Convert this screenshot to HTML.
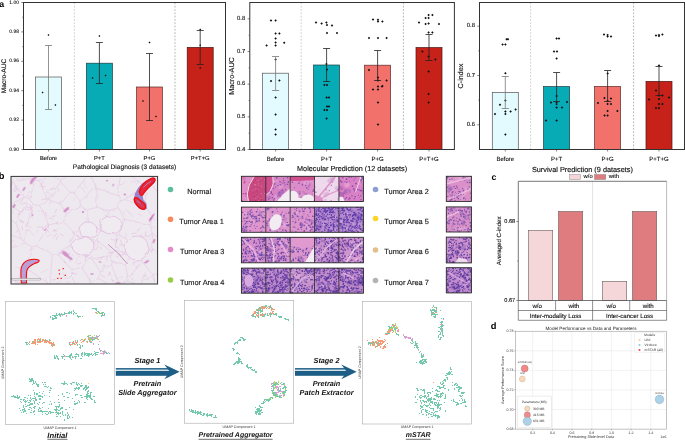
<!DOCTYPE html>
<html><head><meta charset="utf-8"><style>
html,body{margin:0;padding:0;background:#fff;}
svg{display:block;font-family:"Liberation Sans", sans-serif;text-rendering:geometricPrecision;will-change:transform;}
</style></head><body>
<svg width="685" height="440" viewBox="0 0 685 440">
<rect width="685" height="440" fill="#fff"/>
<text x="-0.8" y="3.6" font-size="8.8" font-weight="bold" fill="#000" dominant-baseline="central">a</text>
<line x1="74.4" y1="2.5" x2="74.4" y2="149.5" stroke="#c4c4c4" stroke-width="0.8" stroke-dasharray="1.8,1.5"/>
<line x1="175" y1="2.5" x2="175" y2="149.5" stroke="#a4a4a4" stroke-width="0.8" stroke-dasharray="1.8,1.5"/>
<rect x="35.5" y="77" width="26" height="72.5" fill="#e3fbfe" stroke="#555" stroke-width="0.7"/>
<rect x="86.4" y="63.2" width="26" height="86.3" fill="#07abb6" stroke="#1d3c40" stroke-width="0.7"/>
<rect x="136.5" y="87" width="26" height="62.5" fill="#f2716b" stroke="#5a2a28" stroke-width="0.7"/>
<rect x="187.2" y="47.4" width="26" height="102.1" fill="#c6221a" stroke="#4a1410" stroke-width="0.7"/>
<path d="M48.5 34L49.5 35L48.5 36L47.5 35ZM42.6 91.6L43.6 92.6L42.6 93.6L41.6 92.6ZM55.4 104L56.4 105L55.4 106L54.4 105ZM99.4 35L100.4 36L99.4 37L98.4 36ZM92.6 77L93.6 78L92.6 79L91.6 78ZM105.6 74.6L106.6 75.6L105.6 76.6L104.6 75.6ZM149.5 41.6L150.5 42.6L149.5 43.6L148.5 42.6ZM143 100L144 101L143 102L142 101ZM156 115.6L157 116.6L156 117.6L155 116.6ZM200.2 28.4L201.2 29.4L200.2 30.4L199.2 29.4ZM200.2 44.2L201.2 45.2L200.2 46.2L199.2 45.2ZM200.2 67L201.2 68L200.2 69L199.2 68Z" fill="#111"/>
<path d="M48.5 45.5V109.5M45 45.5H52M45 109.5H52" stroke="#777" stroke-width="0.8" fill="none"/>
<path d="M99.4 42.5V83.5M95.9 42.5H102.9M95.9 83.5H102.9" stroke="#222" stroke-width="0.8" fill="none"/>
<path d="M149.5 53.5V120.5M146 53.5H153M146 120.5H153" stroke="#222" stroke-width="0.8" fill="none"/>
<path d="M200.2 30.5V64.5M196.7 30.5H203.7M196.7 64.5H203.7" stroke="#222" stroke-width="0.8" fill="none"/>
<rect x="23.5" y="2.5" width="202" height="147" fill="none" stroke="#333" stroke-width="1"/>
<line x1="21.3" y1="2.5" x2="23.5" y2="2.5" stroke="#333" stroke-width="0.6"/>
<text x="19" y="2.5" font-size="5.0" text-anchor="end" font-weight="normal" font-style="normal" fill="#111" stroke="#111" stroke-width="0.1" dominant-baseline="central">1.00</text>
<line x1="21.3" y1="31.9" x2="23.5" y2="31.9" stroke="#333" stroke-width="0.6"/>
<text x="19" y="31.9" font-size="5.0" text-anchor="end" font-weight="normal" font-style="normal" fill="#111" stroke="#111" stroke-width="0.1" dominant-baseline="central">0.98</text>
<line x1="21.3" y1="61.3" x2="23.5" y2="61.3" stroke="#333" stroke-width="0.6"/>
<text x="19" y="61.3" font-size="5.0" text-anchor="end" font-weight="normal" font-style="normal" fill="#111" stroke="#111" stroke-width="0.1" dominant-baseline="central">0.96</text>
<line x1="21.3" y1="90.7" x2="23.5" y2="90.7" stroke="#333" stroke-width="0.6"/>
<text x="19" y="90.7" font-size="5.0" text-anchor="end" font-weight="normal" font-style="normal" fill="#111" stroke="#111" stroke-width="0.1" dominant-baseline="central">0.94</text>
<line x1="21.3" y1="120.1" x2="23.5" y2="120.1" stroke="#333" stroke-width="0.6"/>
<text x="19" y="120.1" font-size="5.0" text-anchor="end" font-weight="normal" font-style="normal" fill="#111" stroke="#111" stroke-width="0.1" dominant-baseline="central">0.92</text>
<line x1="21.3" y1="149.5" x2="23.5" y2="149.5" stroke="#333" stroke-width="0.6"/>
<text x="19" y="149.5" font-size="5.0" text-anchor="end" font-weight="normal" font-style="normal" fill="#111" stroke="#111" stroke-width="0.1" dominant-baseline="central">0.90</text>
<line x1="22.2" y1="17.2" x2="23.5" y2="17.2" stroke="#333" stroke-width="0.5"/>
<line x1="22.2" y1="46.6" x2="23.5" y2="46.6" stroke="#333" stroke-width="0.5"/>
<line x1="22.2" y1="76" x2="23.5" y2="76" stroke="#333" stroke-width="0.5"/>
<line x1="22.2" y1="105.4" x2="23.5" y2="105.4" stroke="#333" stroke-width="0.5"/>
<line x1="22.2" y1="134.8" x2="23.5" y2="134.8" stroke="#333" stroke-width="0.5"/>
<line x1="48.5" y1="149.5" x2="48.5" y2="151.5" stroke="#333" stroke-width="0.6"/>
<text x="48.5" y="158.7" font-size="5.8" text-anchor="middle" font-weight="normal" font-style="normal" fill="#111" stroke="#111" stroke-width="0.12" dominant-baseline="central">Before</text>
<line x1="99.4" y1="149.5" x2="99.4" y2="151.5" stroke="#333" stroke-width="0.6"/>
<text x="99.4" y="158.7" font-size="5.8" text-anchor="middle" font-weight="normal" font-style="normal" fill="#111" stroke="#111" stroke-width="0.12" dominant-baseline="central">P+T</text>
<line x1="149.5" y1="149.5" x2="149.5" y2="151.5" stroke="#333" stroke-width="0.6"/>
<text x="149.5" y="158.7" font-size="5.8" text-anchor="middle" font-weight="normal" font-style="normal" fill="#111" stroke="#111" stroke-width="0.12" dominant-baseline="central">P+G</text>
<line x1="200.2" y1="149.5" x2="200.2" y2="151.5" stroke="#333" stroke-width="0.6"/>
<text x="200.2" y="158.7" font-size="5.8" text-anchor="middle" font-weight="normal" font-style="normal" fill="#111" stroke="#111" stroke-width="0.12" dominant-baseline="central">P+T+G</text>
<text x="4.2" y="76" font-size="6.6" text-anchor="middle" font-weight="normal" font-style="normal" fill="#111" stroke="#111" stroke-width="0.13" dominant-baseline="central" transform="rotate(-90 4.2 76)">Macro-AUC</text>
<text x="124.5" y="167.5" font-size="6.6" text-anchor="middle" font-weight="normal" font-style="normal" fill="#111" stroke="#111" stroke-width="0.13" dominant-baseline="central">Pathological Diagnosis (3 datasets)</text>
<line x1="301.2" y1="2.5" x2="301.2" y2="149.5" stroke="#c4c4c4" stroke-width="0.8" stroke-dasharray="1.8,1.5"/>
<line x1="403.4" y1="2.5" x2="403.4" y2="149.5" stroke="#a4a4a4" stroke-width="0.8" stroke-dasharray="1.8,1.5"/>
<rect x="262.6" y="73.2" width="26" height="76.3" fill="#e3fbfe" stroke="#555" stroke-width="0.7"/>
<rect x="313.6" y="65" width="26" height="84.5" fill="#07abb6" stroke="#1d3c40" stroke-width="0.7"/>
<rect x="364.6" y="65.2" width="26" height="84.3" fill="#f2716b" stroke="#5a2a28" stroke-width="0.7"/>
<rect x="416" y="47.6" width="26" height="101.9" fill="#c6221a" stroke="#4a1410" stroke-width="0.7"/>
<path d="M271 19.35L272.25 20.6L271 21.85L269.75 20.6ZM275.6 19.35L276.85 20.6L275.6 21.85L274.35 20.6ZM275.6 32.15L276.85 33.4L275.6 34.65L274.35 33.4ZM279.4 32.15L280.65 33.4L279.4 34.65L278.15 33.4ZM275.6 37.35L276.85 38.6L275.6 39.85L274.35 38.6ZM266.6 44.15L267.85 45.4L266.6 46.65L265.35 45.4ZM275.6 41.35L276.85 42.6L275.6 43.85L274.35 42.6ZM275.6 44.15L276.85 45.4L275.6 46.65L274.35 45.4ZM284.2 41.55L285.45 42.8L284.2 44.05L282.95 42.8ZM275.6 58.35L276.85 59.6L275.6 60.85L274.35 59.6ZM271 79.75L272.25 81L271 82.25L269.75 81ZM279.4 79.35L280.65 80.6L279.4 81.85L278.15 80.6ZM275.6 96.35L276.85 97.6L275.6 98.85L274.35 97.6ZM275.6 113.15L276.85 114.4L275.6 115.65L274.35 114.4ZM275.6 128.35L276.85 129.6L275.6 130.85L274.35 129.6ZM275.6 133.15L276.85 134.4L275.6 135.65L274.35 134.4ZM316 21.35L317.25 22.6L316 23.85L314.75 22.6ZM321.6 22.15L322.85 23.4L321.6 24.65L320.35 23.4ZM326.4 21.35L327.65 22.6L326.4 23.85L325.15 22.6ZM327 23.75L328.25 25L327 26.25L325.75 25ZM332 24.15L333.25 25.4L332 26.65L330.75 25.4ZM327 31.75L328.25 33L327 34.25L325.75 33ZM337 31.75L338.25 33L337 34.25L335.75 33ZM326.4 62.75L327.65 64L326.4 65.25L325.15 64ZM327 68.35L328.25 69.6L327 70.85L325.75 69.6ZM324.4 83.75L325.65 85L324.4 86.25L323.15 85ZM327 83.75L328.25 85L327 86.25L325.75 85ZM326.6 96.15L327.85 97.4L326.6 98.65L325.35 97.4ZM329 96.15L330.25 97.4L329 98.65L327.75 97.4ZM327 105.35L328.25 106.6L327 107.85L325.75 106.6ZM329 105.35L330.25 106.6L329 107.85L327.75 106.6ZM324.4 108.75L325.65 110L324.4 111.25L323.15 110ZM327 108.75L328.25 110L327 111.25L325.75 110ZM326.6 117.15L327.85 118.4L326.6 119.65L325.35 118.4ZM373 18.15L374.25 19.4L373 20.65L371.75 19.4ZM378 18.55L379.25 19.8L378 21.05L376.75 19.8ZM378 20.15L379.25 21.4L378 22.65L376.75 21.4ZM382.4 20.15L383.65 21.4L382.4 22.65L381.15 21.4ZM369 36.75L370.25 38L369 39.25L367.75 38ZM378 36.75L379.25 38L378 39.25L376.75 38ZM386.6 36.75L387.85 38L386.6 39.25L385.35 38ZM369 68.75L370.25 70L369 71.25L367.75 70ZM378 76.35L379.25 77.6L378 78.85L376.75 77.6ZM386.6 79.35L387.85 80.6L386.6 81.85L385.35 80.6ZM378 79.35L379.25 80.6L378 81.85L376.75 80.6ZM378 85.15L379.25 86.4L378 87.65L376.75 86.4ZM382 85.15L383.25 86.4L382 87.65L380.75 86.4ZM382.4 84.75L383.65 86L382.4 87.25L381.15 86ZM373 88.15L374.25 89.4L373 90.65L371.75 89.4ZM378 88.15L379.25 89.4L378 90.65L376.75 89.4ZM378 101.15L379.25 102.4L378 103.65L376.75 102.4ZM378 123.15L379.25 124.4L378 125.65L376.75 124.4ZM428.6 13.75L429.85 15L428.6 16.25L427.35 15ZM432.4 13.75L433.65 15L432.4 16.25L431.15 15ZM425.6 16.75L426.85 18L425.6 19.25L424.35 18ZM428.6 16.75L429.85 18L428.6 19.25L427.35 18ZM419 21.35L420.25 22.6L419 23.85L417.75 22.6ZM425.6 22.75L426.85 24L425.6 25.25L424.35 24ZM428.6 22.35L429.85 23.6L428.6 24.85L427.35 23.6ZM439 22.75L440.25 24L439 25.25L437.75 24ZM428.6 31.15L429.85 32.4L428.6 33.65L427.35 32.4ZM432.4 31.15L433.65 32.4L432.4 33.65L431.15 32.4ZM422.4 50.35L423.65 51.6L422.4 52.85L421.15 51.6ZM428.6 55.35L429.85 56.6L428.6 57.85L427.35 56.6ZM435.4 58.35L436.65 59.6L435.4 60.85L434.15 59.6ZM428.6 70.35L429.85 71.6L428.6 72.85L427.35 71.6ZM428.6 92.75L429.85 94L428.6 95.25L427.35 94ZM428.6 101.15L429.85 102.4L428.6 103.65L427.35 102.4Z" fill="#111"/>
<path d="M275.6 56.5V90.5M272.1 56.5H279.1M272.1 90.5H279.1" stroke="#777" stroke-width="0.8" fill="none"/>
<path d="M326.6 48.5V81.5M323.1 48.5H330.1M323.1 81.5H330.1" stroke="#222" stroke-width="0.8" fill="none"/>
<path d="M377.6 50.5V80.5M374.1 50.5H381.1M374.1 80.5H381.1" stroke="#222" stroke-width="0.8" fill="none"/>
<path d="M429 34.5V60.5M425.5 34.5H432.5M425.5 60.5H432.5" stroke="#222" stroke-width="0.8" fill="none"/>
<rect x="249.8" y="2.5" width="204.6" height="147" fill="none" stroke="#333" stroke-width="1"/>
<line x1="247.6" y1="18.83" x2="249.8" y2="18.83" stroke="#333" stroke-width="0.6"/>
<text x="245.3" y="18.83" font-size="5.9" text-anchor="end" font-weight="normal" font-style="normal" fill="#111" stroke="#111" stroke-width="0.12" dominant-baseline="central">0.8</text>
<line x1="247.6" y1="51.5" x2="249.8" y2="51.5" stroke="#333" stroke-width="0.6"/>
<text x="245.3" y="51.5" font-size="5.9" text-anchor="end" font-weight="normal" font-style="normal" fill="#111" stroke="#111" stroke-width="0.12" dominant-baseline="central">0.7</text>
<line x1="247.6" y1="84.17" x2="249.8" y2="84.17" stroke="#333" stroke-width="0.6"/>
<text x="245.3" y="84.17" font-size="5.9" text-anchor="end" font-weight="normal" font-style="normal" fill="#111" stroke="#111" stroke-width="0.12" dominant-baseline="central">0.6</text>
<line x1="247.6" y1="116.83" x2="249.8" y2="116.83" stroke="#333" stroke-width="0.6"/>
<text x="245.3" y="116.83" font-size="5.9" text-anchor="end" font-weight="normal" font-style="normal" fill="#111" stroke="#111" stroke-width="0.12" dominant-baseline="central">0.5</text>
<line x1="247.6" y1="149.5" x2="249.8" y2="149.5" stroke="#333" stroke-width="0.6"/>
<text x="245.3" y="149.5" font-size="5.9" text-anchor="end" font-weight="normal" font-style="normal" fill="#111" stroke="#111" stroke-width="0.12" dominant-baseline="central">0.4</text>
<line x1="248.5" y1="35.17" x2="249.8" y2="35.17" stroke="#333" stroke-width="0.5"/>
<line x1="248.5" y1="67.83" x2="249.8" y2="67.83" stroke="#333" stroke-width="0.5"/>
<line x1="248.5" y1="100.5" x2="249.8" y2="100.5" stroke="#333" stroke-width="0.5"/>
<line x1="248.5" y1="133.17" x2="249.8" y2="133.17" stroke="#333" stroke-width="0.5"/>
<line x1="275.6" y1="149.5" x2="275.6" y2="151.5" stroke="#333" stroke-width="0.6"/>
<text x="275.6" y="159.8" font-size="6.0" text-anchor="middle" font-weight="normal" font-style="normal" fill="#111" stroke="#111" stroke-width="0.12" dominant-baseline="central">Before</text>
<line x1="326.6" y1="149.5" x2="326.6" y2="151.5" stroke="#333" stroke-width="0.6"/>
<text x="326.6" y="159.8" font-size="6.0" text-anchor="middle" font-weight="normal" font-style="normal" fill="#111" stroke="#111" stroke-width="0.12" dominant-baseline="central">P+T</text>
<line x1="377.6" y1="149.5" x2="377.6" y2="151.5" stroke="#333" stroke-width="0.6"/>
<text x="377.6" y="159.8" font-size="6.0" text-anchor="middle" font-weight="normal" font-style="normal" fill="#111" stroke="#111" stroke-width="0.12" dominant-baseline="central">P+G</text>
<line x1="429" y1="149.5" x2="429" y2="151.5" stroke="#333" stroke-width="0.6"/>
<text x="429" y="159.8" font-size="6.0" text-anchor="middle" font-weight="normal" font-style="normal" fill="#111" stroke="#111" stroke-width="0.12" dominant-baseline="central">P+T+G</text>
<text x="231.5" y="76" font-size="7.2" text-anchor="middle" font-weight="normal" font-style="normal" fill="#111" stroke="#111" stroke-width="0.14" dominant-baseline="central" transform="rotate(-90 231.5 76)">Macro-AUC</text>
<text x="352.1" y="168.8" font-size="7.25" text-anchor="middle" font-weight="normal" font-style="normal" fill="#111" stroke="#111" stroke-width="0.14" dominant-baseline="central">Molecular Prediction (12 datasets)</text>
<line x1="530.6" y1="2.5" x2="530.6" y2="149.5" stroke="#c4c4c4" stroke-width="0.8" stroke-dasharray="1.8,1.5"/>
<line x1="633.6" y1="2.5" x2="633.6" y2="149.5" stroke="#a4a4a4" stroke-width="0.8" stroke-dasharray="1.8,1.5"/>
<rect x="492.3" y="92.4" width="26" height="57.1" fill="#e3fbfe" stroke="#555" stroke-width="0.7"/>
<rect x="543.6" y="86.6" width="26" height="62.9" fill="#07abb6" stroke="#1d3c40" stroke-width="0.7"/>
<rect x="594.6" y="86.4" width="26" height="63.1" fill="#f2716b" stroke="#5a2a28" stroke-width="0.7"/>
<rect x="646" y="81.4" width="26" height="68.1" fill="#c6221a" stroke="#4a1410" stroke-width="0.7"/>
<path d="M506.6 37.95L507.85 39.2L506.6 40.45L505.35 39.2ZM508 37.95L509.25 39.2L508 40.45L506.75 39.2ZM502.6 43.35L503.85 44.6L502.6 45.85L501.35 44.6ZM505.4 43.35L506.65 44.6L505.4 45.85L504.15 44.6ZM505.4 71.95L506.65 73.2L505.4 74.45L504.15 73.2ZM505.4 99.15L506.65 100.4L505.4 101.65L504.15 100.4ZM500 103.55L501.25 104.8L500 106.05L498.75 104.8ZM505.4 110.15L506.65 111.4L505.4 112.65L504.15 111.4ZM510.6 110.15L511.85 111.4L510.6 112.65L509.35 111.4ZM515.6 108.35L516.85 109.6L515.6 110.85L514.35 109.6ZM495 112.75L496.25 114L495 115.25L493.75 114ZM505.4 112.75L506.65 114L505.4 115.25L504.15 114ZM505.4 133.15L506.65 134.4L505.4 135.65L504.15 134.4ZM556.6 37.15L557.85 38.4L556.6 39.65L555.35 38.4ZM559 37.15L560.25 38.4L559 39.65L557.75 38.4ZM554 50.15L555.25 51.4L554 52.65L552.75 51.4ZM557 50.15L558.25 51.4L557 52.65L555.75 51.4ZM556.6 57.35L557.85 58.6L556.6 59.85L555.35 58.6ZM556.6 94.75L557.85 96L556.6 97.25L555.35 96ZM551 101.35L552.25 102.6L551 103.85L549.75 102.6ZM556.6 101.35L557.85 102.6L556.6 103.85L555.35 102.6ZM556.6 102.75L557.85 104L556.6 105.25L555.35 104ZM567 100.75L568.25 102L567 103.25L565.75 102ZM556.6 106.15L557.85 107.4L556.6 108.65L555.35 107.4ZM562 106.15L563.25 107.4L562 108.65L560.75 107.4ZM546 119.15L547.25 120.4L546 121.65L544.75 120.4ZM556.6 119.15L557.85 120.4L556.6 121.65L555.35 120.4ZM604 33.15L605.25 34.4L604 35.65L602.75 34.4ZM607.6 33.75L608.85 35L607.6 36.25L606.35 35ZM607.6 35.35L608.85 36.6L607.6 37.85L606.35 36.6ZM611 35.35L612.25 36.6L611 37.85L609.75 36.6ZM607.6 72.35L608.85 73.6L607.6 74.85L606.35 73.6ZM604.4 96.75L605.65 98L604.4 99.25L603.15 98ZM607.6 99.75L608.85 101L607.6 102.25L606.35 101ZM611 97.35L612.25 98.6L611 99.85L609.75 98.6ZM598 101.75L599.25 103L598 104.25L596.75 103ZM607.6 102.75L608.85 104L607.6 105.25L606.35 104ZM611 102.75L612.25 104L611 105.25L609.75 104ZM607.6 109.75L608.85 111L607.6 112.25L606.35 111ZM617.4 109.75L618.65 111L617.4 112.25L616.15 111ZM604.6 114.15L605.85 115.4L604.6 116.65L603.35 115.4ZM607.6 114.15L608.85 115.4L607.6 116.65L606.35 115.4ZM656 34.15L657.25 35.4L656 36.65L654.75 35.4ZM659 33.75L660.25 35L659 36.25L657.75 35ZM659 34.75L660.25 36L659 37.25L657.75 36ZM662.4 33.15L663.65 34.4L662.4 35.65L661.15 34.4ZM659 64.35L660.25 65.6L659 66.85L657.75 65.6ZM656 89.35L657.25 90.6L656 91.85L654.75 90.6ZM659 94.35L660.25 95.6L659 96.85L657.75 95.6ZM662.4 94.35L663.65 95.6L662.4 96.85L661.15 95.6ZM649 98.35L650.25 99.6L649 100.85L647.75 99.6ZM659 97.75L660.25 99L659 100.25L657.75 99ZM669 96.35L670.25 97.6L669 98.85L667.75 97.6ZM659 102.75L660.25 104L659 105.25L657.75 104ZM662.4 102.75L663.65 104L662.4 105.25L661.15 104ZM656 106.75L657.25 108L656 109.25L654.75 108ZM659 106.75L660.25 108L659 109.25L657.75 108Z" fill="#111"/>
<path d="M505.3 76.5V108.5M501.8 76.5H508.8M501.8 108.5H508.8" stroke="#777" stroke-width="0.8" fill="none"/>
<path d="M556.6 72.5V101.5M553.1 72.5H560.1M553.1 101.5H560.1" stroke="#222" stroke-width="0.8" fill="none"/>
<path d="M607.6 70.5V101.5M604.1 70.5H611.1M604.1 101.5H611.1" stroke="#222" stroke-width="0.8" fill="none"/>
<path d="M659 66.5V95.5M655.5 66.5H662.5M655.5 95.5H662.5" stroke="#222" stroke-width="0.8" fill="none"/>
<rect x="479.5" y="2.5" width="205" height="147" fill="none" stroke="#333" stroke-width="1"/>
<line x1="477.3" y1="26.18" x2="479.5" y2="26.18" stroke="#333" stroke-width="0.6"/>
<text x="475" y="26.18" font-size="5.9" text-anchor="end" font-weight="normal" font-style="normal" fill="#111" stroke="#111" stroke-width="0.12" dominant-baseline="central">0.8</text>
<line x1="477.3" y1="75.51" x2="479.5" y2="75.51" stroke="#333" stroke-width="0.6"/>
<text x="475" y="75.51" font-size="5.9" text-anchor="end" font-weight="normal" font-style="normal" fill="#111" stroke="#111" stroke-width="0.12" dominant-baseline="central">0.7</text>
<line x1="477.3" y1="124.84" x2="479.5" y2="124.84" stroke="#333" stroke-width="0.6"/>
<text x="475" y="124.84" font-size="5.9" text-anchor="end" font-weight="normal" font-style="normal" fill="#111" stroke="#111" stroke-width="0.12" dominant-baseline="central">0.6</text>
<line x1="478.2" y1="50.84" x2="479.5" y2="50.84" stroke="#333" stroke-width="0.5"/>
<line x1="478.2" y1="100.17" x2="479.5" y2="100.17" stroke="#333" stroke-width="0.5"/>
<line x1="505.3" y1="149.5" x2="505.3" y2="151.5" stroke="#333" stroke-width="0.6"/>
<text x="505.3" y="159.8" font-size="6.0" text-anchor="middle" font-weight="normal" font-style="normal" fill="#111" stroke="#111" stroke-width="0.12" dominant-baseline="central">Before</text>
<line x1="556.6" y1="149.5" x2="556.6" y2="151.5" stroke="#333" stroke-width="0.6"/>
<text x="556.6" y="159.8" font-size="6.0" text-anchor="middle" font-weight="normal" font-style="normal" fill="#111" stroke="#111" stroke-width="0.12" dominant-baseline="central">P+T</text>
<line x1="607.6" y1="149.5" x2="607.6" y2="151.5" stroke="#333" stroke-width="0.6"/>
<text x="607.6" y="159.8" font-size="6.0" text-anchor="middle" font-weight="normal" font-style="normal" fill="#111" stroke="#111" stroke-width="0.12" dominant-baseline="central">P+G</text>
<line x1="659" y1="149.5" x2="659" y2="151.5" stroke="#333" stroke-width="0.6"/>
<text x="659" y="159.8" font-size="6.0" text-anchor="middle" font-weight="normal" font-style="normal" fill="#111" stroke="#111" stroke-width="0.12" dominant-baseline="central">P+T+G</text>
<text x="460.5" y="76" font-size="7.2" text-anchor="middle" font-weight="normal" font-style="normal" fill="#111" stroke="#111" stroke-width="0.14" dominant-baseline="central" transform="rotate(-90 460.5 76)">C-index</text>
<text x="582.4" y="169.1" font-size="7.3" text-anchor="middle" font-weight="normal" font-style="normal" fill="#111" stroke="#111" stroke-width="0.15" dominant-baseline="central">Survival Prediction (9 datasets)</text>
<text x="-1.2" y="176.3" font-size="9.3" font-weight="bold" fill="#000" dominant-baseline="central">b</text>
<rect x="11" y="176.4" width="146.6" height="107.6" fill="#eee8ef"/>
<clipPath id="slc"><rect x="11" y="176.4" width="146.6" height="107.6"/></clipPath>
<g clip-path="url(#slc)">
<filter id="wob" x="-5%" y="-5%" width="110%" height="110%"><feTurbulence type="fractalNoise" baseFrequency="0.12" numOctaves="2" seed="3"/><feDisplacementMap in="SourceGraphic" scale="4"/></filter>
<filter id="bl"><feGaussianBlur stdDeviation="0.45"/></filter>
<path d="M153.55 163.35L128.72 173.85M128.72 173.85L120.7 171.92M97.75 134.76L120.7 171.92M191.45 256.44L165.79 260.37M157.37 274.31L165.79 260.37M191.45 256.44L152.01 233.36M152.01 233.36L151.86 233.7M151.86 233.7L151.71 247.36M165.79 260.37L151.71 247.36M36.24 246.16L31.78 246.78M36.24 246.16L52.05 253.99M31.78 246.78L25.91 267.75M52.05 253.99L50.26 284.74M25.91 267.75L50.26 284.74M123.8 200.05L144.37 186.39M123.8 200.05L144.68 205.57M144.68 205.57L146.86 186.61M144.37 186.39L146.86 186.61M153.55 163.35L151.07 184.95M128.72 173.85L144.37 186.39M151.07 184.95L146.86 186.61M152.01 185.42L165.81 202.02M152.27 216.15L165.81 202.02M152.27 216.15L144.68 205.57M151.07 184.95L152.01 185.42M152.27 216.15L150.52 225.05M150.52 225.05L152.54 229.71M152.54 229.71L152.01 233.36M120.7 171.92L118.02 194.84M123.8 200.05L120.28 200.71M120.28 200.71L118.02 194.84M-282.65 302.49L3.5 232.15M-484.94 156.05L-3.4 207.59M-3.4 207.59L-2.8 208.47M-2.8 208.47L3.5 232.15M-40.13 272.84L24.85 242.86M-40.13 272.84L15.79 279.47M24.85 242.86L31.78 246.78M25.91 267.75L18.22 278.3M15.79 279.47L18.22 278.3M142.04 259.05L142.55 261.94M142.04 259.05L131.11 255.98M142.55 261.94L128.22 278M131.11 255.98L125.06 264.06M125.06 264.06L128.22 278M157.37 274.31L153.05 275.31M151.71 247.36L142.04 259.05M153.05 275.31L142.55 261.94M151.86 233.7L131.52 241.35M129.69 253.74L131.52 241.35M129.69 253.74L131.11 255.98M111.45 251.93L110.1 255.58M111.45 251.93L113.94 249.8M110.1 255.58L112.29 261.92M112.29 261.92L125.06 264.06M113.94 249.8L129.69 253.74M97.75 134.76L90.3 155.06M37.71 119.62L51.12 175.15M51.12 175.15L60.38 180.16M90.3 155.06L60.38 180.16M51.12 175.15L39.7 181.58M39.7 181.58L48.16 199.97M48.16 199.97L48.93 199.76M48.93 199.76L60.6 181.58M60.38 180.16L60.6 181.58M117.89 207.66L109.65 210.43M117.89 207.66L124.8 219.26M109.65 210.43L99.96 229.63M124.8 219.26L118.86 234.82M118.09 235.31L118.86 234.82M118.09 235.31L100.25 230.95M100.25 230.95L99.96 229.63M150.52 225.05L124.8 219.26M120.28 200.71L117.89 207.66M131.52 241.35L118.86 234.82M113.94 249.8L118.09 235.31M111.45 251.93L95.44 239.14M95.44 239.14L100.25 230.95M118.02 194.84L96.92 188.51M109.65 210.43L96.77 207.32M96.77 207.32L96.92 188.51M87.19 219.92L86.7 210.02M87.19 219.92L99.96 229.63M96.77 207.32L86.7 210.02M90.3 155.06L90.2 171.51M90.2 171.51L94.88 186.46M94.88 186.46L96.92 188.51M95.44 239.14L93.28 240.43M87.19 219.92L74.07 232.9M74.07 232.9L74.36 234.52M74.36 234.52L93.28 240.43M119.46 284.77L127.56 281.17M127.56 281.17L137.93 285.01M137.93 285.01L163.54 350.72M153.05 275.31L152.97 275.42M152.97 275.42L137.93 285.01M128.22 278L127.56 281.17M152.97 275.42L163.54 350.72M-282.65 302.49L-40.13 272.84M15.79 279.47L25.16 1472.59M111.54 264.88L119.31 284.72M111.54 264.88L100.35 271.99M100.35 271.99L99.3 279.62M99.3 279.62L109.66 285.03M119.31 284.72L109.66 285.03M112.29 261.92L111.54 264.88M119.46 284.77L119.31 284.72M110.1 255.58L91.95 258.94M91.95 258.94L100.35 271.99M23.85 241.21L31.21 208.78M23.85 241.21L21.47 238.85M21.47 238.85L16 223.29M16 223.29L19.96 211.73M19.96 211.73L31.21 208.78M48.85 224.85L40.57 206.47M48.85 224.85L36.24 246.16M24.85 242.86L23.85 241.21M40.57 206.47L34.41 205.65M34.41 205.65L31.21 208.78M3.5 232.15L21.47 238.85M-2.8 208.47L16 223.29M39.7 181.58L34.76 181.33M48.16 199.97L40.57 206.47M34.41 205.65L29.58 199M29.58 199L34.76 181.33M37.71 119.62L31.44 178.74M31.44 178.74L34.76 181.33M31.44 178.74L14.39 179.49M91.21 282.32L99.3 279.62M91.21 282.32L90.54 283.33M109.66 285.03L95.91 306.47M90.54 283.33L95.91 306.47M25.16 1472.59L57.43 567.17M95.91 306.47L57.43 567.17M74.02 193.29L70.06 192.29M74.02 193.29L80.76 201.68M70.06 192.29L60.36 204M80.76 201.68L81.67 206.54M81.67 206.54L66.3 213.8M60.36 204L66.3 213.8M90.2 171.51L74.02 193.29M60.6 181.58L70.06 192.29M94.88 186.46L80.76 201.68M48.93 199.76L60.36 204M86.7 210.02L81.67 206.54M74.07 232.9L63.5 221.59M63.5 221.59L66.3 213.8M48.85 224.85L63.5 221.59M57.18 253.97L71.95 269.65M57.18 253.97L68.92 245.89M68.92 245.89L89.2 257.77M71.95 269.65L81.99 267.38M81.99 267.38L89.27 257.97M89.2 257.77L89.27 257.97M52.05 253.99L57.18 253.97M74.36 234.52L68.92 245.89M93.28 240.43L89.2 257.77M91.21 282.32L81.99 267.38M91.95 258.94L89.27 257.97M24.68 197.26L13.1 181.63M24.68 197.26L9.63 204.54M3.34 203.89L12.46 182.04M3.34 203.89L9.63 204.54M12.46 182.04L13.1 181.63M29.58 199L24.68 197.26M14.39 179.49L13.1 181.63M19.96 211.73L9.63 204.54M-484.94 156.05L12.46 182.04M-3.4 207.59L3.34 203.89M49.34 302.47L55.94 333.85M49.34 302.47L51.11 287.3M55.94 333.85L77.66 288.09M51.11 287.3L70.56 274.83M70.56 274.83L77.66 288.09M18.22 278.3L49.34 302.47M57.43 567.17L55.94 333.85M50.26 284.74L51.11 287.3M90.54 283.33L77.66 288.09M71.95 269.65L70.56 274.83" stroke="#dca8d8" stroke-width="0.45" fill="none" opacity="0.65" filter="url(#wob)"/>
<path d="M128.15 211.47Q129.5 214.09 133.93 216.91M92.79 242.18Q95.83 245.08 98.88 245.17M15.16 279.39Q18.56 282.77 21.91 283.46M37.81 210.99Q41.64 210.85 45.2 213.07M39.1 185.11Q41.42 187.8 44.25 188.85M22.19 266.73Q19.44 268.34 14.76 267.15M24.92 226.03Q28.79 225.4 32.37 227.93M76.2 259.99Q77.65 260.05 75.59 263.67M134.6 281.2Q131.65 283.14 128.44 287.32M80.24 255.82Q80.04 255.73 76.27 259.35M83.69 180.65Q84.08 186.62 87.54 188.71M143.69 250.46Q147.33 249.35 149.43 251.48M54.72 186.28Q52.67 189.29 47.24 190.29M95.38 183.09Q96.63 184.97 95.82 190.64M12.2 185.89Q9.98 186.22 8.63 186.75M140.56 190.99Q141.5 192.44 145.76 196.58M14.68 279.51Q16.43 283.44 19.14 283.53M115.39 241.08Q116.82 241.79 115.54 245.68M102.15 208.15Q102.76 210.7 105.85 212.51M21.37 178.42Q24.48 179.23 24.57 179.94M110.5 260.23Q113.82 262.23 118.06 264.55M82.59 251.21Q82.35 252.31 79.48 253.98M47.8 269.4Q43.35 272.65 40.3 272.59M124.74 280.79Q121.43 284.92 118.28 287.05M125.52 232.83Q126.96 235.04 125.45 238.23M120.44 236.86Q117.29 239.49 117.5 240.72M32.26 215.09Q32.63 216.49 29.71 217.18M93.25 249.26Q95.67 249.88 96.33 249.81M104.74 264.97Q107.93 264.71 107.36 267.96M86.59 243.54Q85.66 242.1 83.11 244.03M77.53 243.13Q77.06 242.48 74.61 244.63M70.33 281.98Q66.8 280.89 67.24 283.54M125.47 180.53Q123.68 184.73 119.35 185.43M103.82 265.17Q101.63 268.85 102.88 272.12M156.18 218.16Q154.84 219.92 153.64 221.34M123.8 211.1Q124.31 214.92 124.21 215.22M67.68 247.34Q68.1 248.24 66.94 251.45M100.99 283.36Q102.35 286.82 104.99 289.12M39.05 230.27Q36.8 230.51 35.71 232.95M34.18 248.51Q31.31 249.28 28.86 251.62M46.08 277.8Q45.42 280.03 46.53 284.88M12.35 208.24Q13.59 211.97 13.89 214.17M139.5 262.69Q137.5 265.84 135.16 269.21M145.17 272.55Q146.33 277.4 148.05 280.24M14.55 240.39Q13.25 241.58 8.99 241.33M14 184.63Q16.86 188.83 18.47 192.24M137.07 214.08Q141.25 214 142.16 216.6M83.25 208.04Q85.65 208.67 84.79 211.24M126.68 195.01Q127.4 196.58 127.4 198.08M74.28 197.96Q75.34 199.35 72.93 200.88M100.57 222.07Q103.06 222.12 103.74 222.28M51.74 234.26Q49.03 235.79 46.17 236.65M139.07 179.79Q138.35 181.27 135.9 185.42M132.49 261.79Q133.5 265.3 138.09 268.44M23.68 196.69Q22.07 198.95 20.63 203.25M90.9 224.65Q91.72 226.68 92.85 229.75M28.94 229.87Q33.2 233.87 33.82 235.9M59.35 227.68Q59.05 227.46 56.36 230.88M152.87 236.33Q151.76 238.18 147.87 240.64M24.34 198.56Q20.15 201.69 18.13 204.93M125.47 209.2Q126.73 211.09 131.07 214.32M98.17 229.85Q94.89 229.08 92.34 230.8M130.68 181.77Q134.49 180.92 135.87 182.03M79.6 186.19Q83.8 187.9 85.11 192.85M151.05 226.81Q155.27 226.62 155.79 228.96M122.73 277.13Q120.79 276.58 115.46 279.11M112.89 279.96Q111.94 281.27 112.68 283.04M71.5 254.33Q73.43 257.07 74.1 255.9M81.88 249.66Q80.9 250.56 77.57 255.21M114.1 223.28Q113.98 228.62 116.83 230.6" stroke="#e2b4de" stroke-width="0.4" fill="none" opacity="0.6"/>
<path d="M136.45 232.99Q133.33 233.35 131.66 234.15M58.41 235.66Q56.32 238.51 56.08 240.18M92.88 256.39Q90.63 256.89 90.33 257.85M152.77 249.15Q152.35 250.87 150.4 250.44M91.51 238.7Q92.11 239.39 93.96 239.51M142.41 241.37Q141.11 242.39 139.81 241.94M145.18 275.44Q145.12 274.11 142.87 275.78M100.85 246.97Q100.82 248.65 101.34 249.26M121.99 228.33Q120.81 228.71 119.38 230.28M122.18 254.21Q120.85 256.1 120.13 255.07M57.25 233.61Q54.11 234.96 53.47 238.17M124.25 254.53Q121.93 253.93 121.82 255.1M97.78 240.5Q98.08 241.11 97.9 242.85M77.05 235.66Q79.35 237.46 78.8 238.33M141.4 252.86Q144.29 254.96 145.73 254.15M55.68 229.91Q53.07 229.54 53.38 231.73M135.73 256.1Q133.2 256.27 130.78 257.35M89.52 236.71Q87.68 236.86 85.99 237.57M109.57 272.4Q109.21 274.98 107.79 275.94M115.96 255.63Q117.53 257.02 118.1 257.11M138.41 241.75Q138.91 242.92 138.9 243.72M81.18 262.81Q79.77 263.66 77.65 263.98M110.89 239.26Q114.94 240.87 116.84 239.59M139.39 234.51Q141.44 236.01 142.55 236.3M122.71 252.18Q124.01 254.11 126.12 255.04M71.06 272.76Q75.38 273.9 76.89 274M117.45 238.62Q117.12 239.06 116.2 242.19M137.04 261.57Q133.37 262.19 132.68 264.34M115.01 246.7Q118.5 247.71 119.44 248.96M103.32 256.53Q100.96 257.52 100.11 259.44M72.72 247.06Q73.19 248.57 75.36 251.85M88.63 255.32Q86.63 257.16 85.24 257.11M62.89 249.81Q61.87 252.11 62.18 252.23M125.67 245.28Q123.88 246.11 121.74 245.84M144.07 243.64Q146.65 245.54 147.38 245.13M110.91 252.98Q109.69 252.15 107.65 253.5M132.2 277.96Q133.3 280.16 131.69 280.01M118.16 252.52Q118.9 252.71 120.54 255.47M69.03 259.21Q69.53 259.39 70.62 261.89M101.17 274.83Q103.18 276.64 105.2 277.42M120.33 239.56Q120.36 241.66 122.87 244.94M152.86 249.17Q151.64 251.01 151.47 252.66M72.67 231.29Q73.02 233.34 73.79 233.19M101.43 228.66Q100.36 231.57 101.33 231.63M110.72 278.57Q112.29 280.29 114.78 281.42M59.97 234.37Q62.53 234.11 63.6 236.44M89.23 277.92Q90.49 280.46 88.87 281.61M98.52 246.73Q96.07 247.85 95.59 249.67M138.94 237.42Q136.93 238.72 135.81 242.06M140.49 228.14Q138.08 229.12 137.4 231.57M85.15 256.24Q85.42 259.51 85.39 261.97M133.9 236.65Q133.88 236.1 132.04 238.08M81.28 229.19Q81.43 231.08 84.06 230.79M121.97 244.34Q119.57 245.19 119.33 245.2M63.63 272.78Q64.27 273.6 64.05 276.35M145.76 231.26Q144.75 235.08 146.58 235.99M109.54 271.87Q110.29 275.01 110.82 275.35M103.71 264.63Q105.21 267.55 104.35 267.65M56.01 279.62Q53.37 280.21 52.09 279.88M145.88 275.79Q143.77 276.22 141.44 278.95M146.45 247.34Q145.96 250.4 147.21 251.02M57.63 252.27Q58.59 253.65 62.43 253.03M113.18 251.62Q111.03 253.28 109.85 253.43M72.75 241.56Q74.04 241.61 74.81 243.3M107.03 256.85Q106.3 258.81 107.16 261.1M132.63 273.61Q132.39 275.16 130.75 274.54M70.34 252.3Q69.07 253.18 68.94 255.95M63.68 260.31Q65.06 260.89 65.14 263.36M84.82 232.71Q84.88 234.69 83.43 235.19M142.73 242.62Q139.97 245.35 139.18 246.09M27.33 222.59Q27.51 225.21 27.23 224.89M42.39 225.98Q42.24 228.74 43.78 230.46M55.18 188.5Q51.67 188.73 50.4 189.51M26.35 202.39Q24.29 203.19 21.57 204.31M25.2 206.65Q28.1 207.86 30.99 207.82M16.27 186.17Q14.76 187.81 13.66 191.26M49 218.23Q51.1 217.87 53.47 219.47M56.49 209.01Q56.08 211.52 54.17 213.56M27.14 202.86Q26.03 203.03 26.96 205.95M46.2 191.94Q48.63 191.65 48.66 193.56M46.44 198.64Q43.77 199.6 41.5 199.78M19.93 221.4Q23 221.59 23.71 222.9M21.5 225.82Q23.39 228.98 22.32 230.33M19.18 229.82Q16.42 231.8 15.83 232.25M17.1 188.13Q16.99 189.39 14.37 192.37M23.59 208.21Q22.4 211.33 21.2 213.29M50.1 201.91Q50.16 201.71 49.59 204.3M29.7 204.15Q31.16 206.92 31.46 209.45M46.64 227.66Q45.07 228.02 45.51 229.35M46.05 225.54Q45.62 225.92 42.63 229.17M53.09 229.81Q53.44 229.82 56.57 231.71M29.34 229.86Q27.35 230.49 26.25 230.3M56.38 215.68Q53.29 216.36 51.88 216.4M32.6 211.34Q31.42 211.51 32.27 213.87M17.74 214.01Q19.03 213.69 20.34 214.87M23.6 207.11Q25.74 207.86 25.79 209.38M43.76 181.59Q41.14 183.78 40.97 185.71M56.5 221.92Q57.42 223.91 58.05 224.91M47.55 223.27Q48.58 226.65 48.34 228.13M45.67 227.89Q47.19 229.49 49.14 232.64M41.35 227.19Q38.79 226.65 36.46 227.26M58.15 188.6Q59.53 190.29 58.35 191.36M31.53 216.76Q32.24 217.34 33.36 217.76M20.78 194.54Q17.09 194.2 15.99 196.45M26.76 195.85Q29.14 195.48 29.38 196.17M19.39 219.47Q22.67 221.05 23.66 223.09M41.32 185.87Q42.23 186.35 45.41 186.91M29.79 191.02Q28.62 193.09 28.35 193.36M45.93 212.22Q45.4 213.17 46.85 216.38M12.27 178.54Q10.43 179.27 8.94 178.89" stroke="#d890d0" stroke-width="0.45" fill="none" opacity="0.6"/>
<ellipse cx="88" cy="230" rx="9" ry="8" fill="#f0ebf1" stroke="#d8a2d3" stroke-width="0.5" filter="url(#wob)"/>
<ellipse cx="111" cy="225" rx="11" ry="9" fill="#f0ebf1" stroke="#d8a2d3" stroke-width="0.5" filter="url(#wob)"/>
<ellipse cx="83" cy="246" rx="11" ry="9" fill="#f0ebf1" stroke="#d8a2d3" stroke-width="0.5" filter="url(#wob)"/>
<ellipse cx="137" cy="248" rx="12" ry="12" fill="#f0ebf1" stroke="#d8a2d3" stroke-width="0.5" filter="url(#wob)"/>
<ellipse cx="14" cy="206" rx="2.2" ry="1.2" fill="#c870ba" opacity="0.7" transform="rotate(-55 14 206)" filter="url(#bl)"/>
<ellipse cx="18" cy="196" rx="2.5" ry="1.0" fill="#c870ba" opacity="0.7" transform="rotate(-55 18 196)" filter="url(#bl)"/>
<ellipse cx="24" cy="189" rx="2.5" ry="0.9" fill="#c870ba" opacity="0.7" transform="rotate(-55 24 189)" filter="url(#bl)"/>
<ellipse cx="32" cy="181" rx="3.5" ry="1.5" fill="#c870ba" opacity="0.7" transform="rotate(-60 32 181)" filter="url(#bl)"/>
<ellipse cx="35" cy="178" rx="2" ry="1.2" fill="#c870ba" opacity="0.7" transform="rotate(-30 35 178)" filter="url(#bl)"/>
<ellipse cx="66.4" cy="209.7" rx="3.5" ry="1.4" fill="#c870ba" opacity="0.7" transform="rotate(-40 66.4 209.7)" filter="url(#bl)"/>
<ellipse cx="65.5" cy="254" rx="4" ry="2" fill="#c870ba" opacity="0.7" transform="rotate(40 65.5 254)" filter="url(#bl)"/>
<ellipse cx="70" cy="258" rx="3" ry="1.3" fill="#c870ba" opacity="0.7" transform="rotate(35 70 258)" filter="url(#bl)"/>
<ellipse cx="32.5" cy="215" rx="1.2" ry="0.8" fill="#c870ba" opacity="0.7" transform="rotate(0 32.5 215)" filter="url(#bl)"/>
<ellipse cx="83" cy="212" rx="1.2" ry="0.9" fill="#c870ba" opacity="0.7" transform="rotate(0 83 212)" filter="url(#bl)"/>
<ellipse cx="113.2" cy="185" rx="1.5" ry="0.8" fill="#c870ba" opacity="0.7" transform="rotate(-60 113.2 185)" filter="url(#bl)"/>
<ellipse cx="107" cy="180.8" rx="1.2" ry="0.8" fill="#c870ba" opacity="0.7" transform="rotate(0 107 180.8)" filter="url(#bl)"/>
<ellipse cx="124.8" cy="194.5" rx="1.2" ry="0.9" fill="#c870ba" opacity="0.7" transform="rotate(0 124.8 194.5)" filter="url(#bl)"/>
<ellipse cx="152" cy="217" rx="4" ry="1.0" fill="#c870ba" opacity="0.7" transform="rotate(-55 152 217)" filter="url(#bl)"/>
<ellipse cx="150.5" cy="219.3" rx="3" ry="0.9" fill="#c870ba" opacity="0.7" transform="rotate(-55 150.5 219.3)" filter="url(#bl)"/>
<ellipse cx="146.6" cy="261.8" rx="3" ry="1.1" fill="#c870ba" opacity="0.7" transform="rotate(-30 146.6 261.8)" filter="url(#bl)"/>
<ellipse cx="92" cy="274" rx="2" ry="0.8" fill="#c870ba" opacity="0.7" transform="rotate(0 92 274)" filter="url(#bl)"/>
<ellipse cx="118" cy="283" rx="3" ry="0.8" fill="#c870ba" opacity="0.7" transform="rotate(0 118 283)" filter="url(#bl)"/>
<ellipse cx="154" cy="241" rx="2.5" ry="0.9" fill="#c870ba" opacity="0.7" transform="rotate(-70 154 241)" filter="url(#bl)"/>
<ellipse cx="45" cy="230" rx="1.2" ry="0.7" fill="#c870ba" opacity="0.7" transform="rotate(0 45 230)" filter="url(#bl)"/>
<ellipse cx="100" cy="262" rx="1.5" ry="0.7" fill="#c870ba" opacity="0.7" transform="rotate(20 100 262)" filter="url(#bl)"/>
<path d="M108 244.4 Q118 252 127.3 263.8" stroke="#a05a95" stroke-width="0.7" fill="none" opacity="0.8"/>
<path d="M138 188 L142 183.5 L147 180 L153 177.3 L155.8 178.8 L154.8 182.5 L150 187 L145.5 191 L142.5 195 L143.5 200 L146.5 203.5 L147 208.5 L144 210.2 L139 208.5 L135.2 204 L133.8 199 L135 193.5 Z" fill="#9c82c8" filter="url(#bl)"/>
<path d="M139.3 191 C141 186 145 181.5 150 179 C153 177.5 155.5 178 155 180.5 C154 183 151 185 148 188 C146 190 144 193 142.5 195 C141 196 139.3 194.5 139.3 191 Z" fill="#ee1a28" fill-opacity="0.85" stroke="#f20d0d" stroke-width="1.3"/>
<path d="M143.5 187.5 C145.5 185 148 183 151 181.5" stroke="#a98ad0" stroke-width="0.9" fill="none"/>
<path d="M134.2 199 C134.5 197.3 136.5 197.2 138 198.5 C140 200.5 142.5 202 144.5 204 C146 206 145.8 209 143.5 209.3 C141 209.3 138.5 207 136.8 205 C135.2 203 134 201 134.2 199 Z" fill="#ee1a28" fill-opacity="0.7" stroke="#f20d0d" stroke-width="1.3"/>
<path d="M137 200.5 L140 203.5" stroke="#a98ad0" stroke-width="1" fill="none"/>
<path d="M21.4 283 C21 278 20.7 273 21 269 C22 264 25 261 29 260 C32 259.2 36 258.8 39.1 260.3 C39.4 262 37 263 34.5 263.4 C31 265 28 267 27 270 C26 274 26.4 278 26.5 283 Z" fill="#bba0d8" stroke="#f20d0d" stroke-width="1.1"/>
<rect x="58.5" y="269.6" width="1.2" height="1.2" fill="#f20d0d"/>
<rect x="62.6" y="268" width="1.2" height="1.2" fill="#f20d0d"/>
<rect x="58.9" y="273.3" width="1.2" height="1.2" fill="#f20d0d"/>
<rect x="64.7" y="274.8" width="1.2" height="1.2" fill="#f20d0d"/>
<rect x="57.2" y="277.8" width="1.2" height="1.2" fill="#f20d0d"/>
<rect x="60.6" y="277.8" width="1.2" height="1.2" fill="#f20d0d"/>
<rect x="11.8" y="278.5" width="28.7" height="1.5" fill="#fdfdfd" stroke="#8a8a8a" stroke-width="0.5"/>
</g>
<rect x="11" y="176.4" width="146.6" height="107.6" fill="none" stroke="#333" stroke-width="1"/>
<circle cx="170.5" cy="189.5" r="2.8" fill="#5dbf9e"/>
<text x="199.2" y="191.2" font-size="7.4" text-anchor="middle" font-weight="normal" font-style="normal" fill="#1a1a1a" stroke="#1a1a1a" stroke-width="0.15" dominant-baseline="central">Normal</text>
<circle cx="170.5" cy="219.3" r="2.8" fill="#f78a5d"/>
<text x="201.5" y="221.3" font-size="7.4" text-anchor="middle" font-weight="normal" font-style="normal" fill="#1a1a1a" stroke="#1a1a1a" stroke-width="0.15" dominant-baseline="central">Tumor Area 1</text>
<circle cx="170.5" cy="249.5" r="2.8" fill="#e58bc8"/>
<text x="202.2" y="251.6" font-size="7.4" text-anchor="middle" font-weight="normal" font-style="normal" fill="#1a1a1a" stroke="#1a1a1a" stroke-width="0.15" dominant-baseline="central">Tumor Area 3</text>
<circle cx="170.5" cy="280" r="2.8" fill="#99cc44"/>
<text x="202.2" y="282" font-size="7.4" text-anchor="middle" font-weight="normal" font-style="normal" fill="#1a1a1a" stroke="#1a1a1a" stroke-width="0.15" dominant-baseline="central">Tumor Area 4</text>
<circle cx="375.5" cy="189.5" r="2.8" fill="#8b9fd2"/>
<text x="384.3" y="191.2" font-size="7.4" text-anchor="start" font-weight="normal" font-style="normal" fill="#1a1a1a" stroke="#1a1a1a" stroke-width="0.15" dominant-baseline="central">Tumor Area 2</text>
<circle cx="375.5" cy="218.5" r="2.8" fill="#fcd52a"/>
<text x="384.3" y="221.5" font-size="7.4" text-anchor="start" font-weight="normal" font-style="normal" fill="#1a1a1a" stroke="#1a1a1a" stroke-width="0.15" dominant-baseline="central">Tumor Area 5</text>
<circle cx="375.5" cy="250" r="2.8" fill="#e3bf8c"/>
<text x="384.3" y="251.6" font-size="7.4" text-anchor="start" font-weight="normal" font-style="normal" fill="#1a1a1a" stroke="#1a1a1a" stroke-width="0.15" dominant-baseline="central">Tumor Area 6</text>
<circle cx="375.5" cy="280.5" r="2.8" fill="#b3b3b3"/>
<text x="384.3" y="282" font-size="7.4" text-anchor="start" font-weight="normal" font-style="normal" fill="#1a1a1a" stroke="#1a1a1a" stroke-width="0.15" dominant-baseline="central">Tumor Area 7</text>
<filter id="nb" x="-10%" y="-10%" width="120%" height="120%"><feGaussianBlur stdDeviation="0.3"/></filter>
<clipPath id="tc1"><rect x="241.4" y="176.3" width="24.5" height="25.2"/></clipPath><g clip-path="url(#tc1)">
<rect x="241.4" y="176.3" width="24.5" height="25.2" fill="#e08cc8"/>
<ellipse cx="262.09" cy="195.4" rx="2.15" ry="1.67" fill="#f0c8e8" opacity="0.23" transform="rotate(77 262.09 195.4)"/>
<ellipse cx="265.11" cy="185.32" rx="2.05" ry="1.04" fill="#b0306a" opacity="0.18" transform="rotate(24 265.11 185.32)"/>
<ellipse cx="256.55" cy="182.61" rx="3.96" ry="2.18" fill="#b0306a" opacity="0.33" transform="rotate(79 256.55 182.61)"/>
<ellipse cx="243.82" cy="178.16" rx="2.33" ry="1.75" fill="#b0306a" opacity="0.22" transform="rotate(80 243.82 178.16)"/>
<ellipse cx="256.37" cy="199.31" rx="2.69" ry="2.27" fill="#b0306a" opacity="0.2" transform="rotate(140 256.37 199.31)"/>
<ellipse cx="263.84" cy="178.65" rx="3.28" ry="2.13" fill="#b0306a" opacity="0.28" transform="rotate(156 263.84 178.65)"/>
<ellipse cx="253.49" cy="198.16" rx="2.31" ry="2.28" fill="#f0c8e8" opacity="0.19" transform="rotate(145 253.49 198.16)"/>
<ellipse cx="246.83" cy="196.54" rx="2.86" ry="0.96" fill="#f0c8e8" opacity="0.35" transform="rotate(130 246.83 196.54)"/>
<ellipse cx="265.85" cy="188.63" rx="2.23" ry="1.01" fill="#f0c8e8" opacity="0.22" transform="rotate(138 265.85 188.63)"/>
<ellipse cx="246.38" cy="196.45" rx="2.22" ry="0.96" fill="#b0306a" opacity="0.31" transform="rotate(81 246.38 196.45)"/>
<ellipse cx="255.5" cy="183.62" rx="1.97" ry="1.84" fill="#f0c8e8" opacity="0.28" transform="rotate(121 255.5 183.62)"/>
<ellipse cx="243.09" cy="193.4" rx="1.87" ry="0.87" fill="#f0c8e8" opacity="0.17" transform="rotate(179 243.09 193.4)"/>
<ellipse cx="264.02" cy="189.92" rx="3.26" ry="1.27" fill="#f0c8e8" opacity="0.31" transform="rotate(55 264.02 189.92)"/>
<ellipse cx="263.33" cy="191.16" rx="2.95" ry="1.57" fill="#b0306a" opacity="0.28" transform="rotate(179 263.33 191.16)"/>
<path d="M263.38 195.83h0.86v0.86h-0.86zM255.99 188.16h1.24v1.24h-1.24zM261.64 182.08h1.31v1.31h-1.31zM243.95 181.51h1.36v1.36h-1.36zM249.18 196.4h0.87v0.87h-0.87zM244.66 193.44h0.83v0.83h-0.83zM255.04 198.75h1.17v1.17h-1.17zM257.64 176.67h1.24v1.24h-1.24zM255.83 190.4h1.07v1.07h-1.07zM250.09 200.51h0.83v0.83h-0.83zM241.63 200.03h0.93v0.93h-0.93zM244.11 181.26h1.36v1.36h-1.36zM263.87 176.57h1.1v1.1h-1.1zM243.57 182.5h0.95v0.95h-0.95zM256.82 184.76h0.93v0.93h-0.93zM253.34 176.98h0.87v0.87h-0.87zM265.11 180.98h1.05v1.05h-1.05zM258.88 196.96h1.44v1.44h-1.44zM245.22 192.82h1.48v1.48h-1.48zM242.51 192.91h1.39v1.39h-1.39zM249.42 182.27h1.22v1.22h-1.22zM251.85 180.37h1.13v1.13h-1.13zM251.06 190.23h1.16v1.16h-1.16zM248.67 184.93h1.39v1.39h-1.39zM247.2 190.02h0.81v0.81h-0.81z" fill="#b0306a" opacity="0.8" filter="url(#nb)"/>
<polygon points="248.75,202.76 247.28,193.94 249.24,185.12 253.65,177.56 254.88,175.04 267.12,175.04 267.12,202.76" fill="#c8487f" stroke="#f6eef6" stroke-width="0.9"/>
<circle cx="261.78" cy="186.44" r="0.22" fill="#f4dce8" opacity="0.85"/>
<circle cx="254.45" cy="184.27" r="0.41" fill="#f4dce8" opacity="0.85"/>
<circle cx="255.58" cy="185.35" r="0.29" fill="#f4dce8" opacity="0.85"/>
<circle cx="265.05" cy="193.19" r="0.34" fill="#f4dce8" opacity="0.85"/>
<circle cx="261.37" cy="187.62" r="0.3" fill="#f4dce8" opacity="0.85"/>
<circle cx="260.34" cy="178.85" r="0.25" fill="#f4dce8" opacity="0.85"/>
<circle cx="255.3" cy="184.25" r="0.34" fill="#f4dce8" opacity="0.85"/>
<circle cx="256" cy="198.67" r="0.33" fill="#f4dce8" opacity="0.85"/>
<circle cx="256.57" cy="187.94" r="0.36" fill="#f4dce8" opacity="0.85"/>
<circle cx="256.64" cy="193.84" r="0.22" fill="#f4dce8" opacity="0.85"/>
<circle cx="257.07" cy="184.7" r="0.24" fill="#f4dce8" opacity="0.85"/>
<circle cx="258.38" cy="189.87" r="0.33" fill="#f4dce8" opacity="0.85"/>
<circle cx="262.01" cy="198.87" r="0.31" fill="#f4dce8" opacity="0.85"/>
<circle cx="254.94" cy="189.41" r="0.38" fill="#f4dce8" opacity="0.85"/>
<circle cx="263.91" cy="197.25" r="0.25" fill="#f4dce8" opacity="0.85"/>
<circle cx="265.89" cy="193.18" r="0.23" fill="#f4dce8" opacity="0.85"/>
<circle cx="261.53" cy="201.2" r="0.29" fill="#f4dce8" opacity="0.85"/>
<circle cx="260.78" cy="185.99" r="0.25" fill="#f4dce8" opacity="0.85"/>
<circle cx="261.4" cy="178.87" r="0.38" fill="#f4dce8" opacity="0.85"/>
<circle cx="258.39" cy="181.04" r="0.23" fill="#f4dce8" opacity="0.85"/>
<circle cx="260.31" cy="198.63" r="0.27" fill="#f4dce8" opacity="0.85"/>
<circle cx="265.56" cy="181.09" r="0.39" fill="#f4dce8" opacity="0.85"/>
<circle cx="256.29" cy="180.66" r="0.27" fill="#f4dce8" opacity="0.85"/>
<circle cx="257.19" cy="196.79" r="0.39" fill="#f4dce8" opacity="0.85"/>
<circle cx="252.1" cy="190.63" r="0.35" fill="#f4dce8" opacity="0.85"/>
<circle cx="255.5" cy="198.59" r="0.27" fill="#f4dce8" opacity="0.85"/>
<circle cx="250.27" cy="179.74" r="0.35" fill="#f4dce8" opacity="0.85"/>
<circle cx="258.87" cy="200.29" r="0.41" fill="#f4dce8" opacity="0.85"/>
<circle cx="264.46" cy="179.77" r="0.37" fill="#f4dce8" opacity="0.85"/>
<circle cx="261.14" cy="193.68" r="0.36" fill="#f4dce8" opacity="0.85"/>
<circle cx="264.35" cy="193.34" r="0.29" fill="#f4dce8" opacity="0.85"/>
<circle cx="258.54" cy="183.53" r="0.33" fill="#f4dce8" opacity="0.85"/>
<circle cx="250.12" cy="182.25" r="0.28" fill="#f4dce8" opacity="0.85"/>
<circle cx="262.55" cy="195.12" r="0.28" fill="#f4dce8" opacity="0.85"/>
<circle cx="259.86" cy="179.75" r="0.24" fill="#f4dce8" opacity="0.85"/>
<circle cx="265.61" cy="185.39" r="0.29" fill="#f4dce8" opacity="0.85"/>
<circle cx="258.71" cy="185.47" r="0.31" fill="#f4dce8" opacity="0.85"/>
<circle cx="253.79" cy="179.91" r="0.25" fill="#f4dce8" opacity="0.85"/>
<circle cx="258.3" cy="180.43" r="0.29" fill="#f4dce8" opacity="0.85"/>
<circle cx="255.21" cy="188.23" r="0.23" fill="#f4dce8" opacity="0.85"/>
<circle cx="264.45" cy="189.57" r="0.44" fill="#9a2050" opacity="0.85"/>
<circle cx="265.52" cy="186.61" r="0.35" fill="#9a2050" opacity="0.85"/>
<circle cx="261.12" cy="188.49" r="0.31" fill="#9a2050" opacity="0.85"/>
<circle cx="261.68" cy="199.1" r="0.46" fill="#9a2050" opacity="0.85"/>
<circle cx="259.96" cy="187.34" r="0.47" fill="#9a2050" opacity="0.85"/>
<circle cx="260.15" cy="180.31" r="0.26" fill="#9a2050" opacity="0.85"/>
<circle cx="261.92" cy="180.21" r="0.24" fill="#9a2050" opacity="0.85"/>
<circle cx="256.25" cy="190.59" r="0.35" fill="#9a2050" opacity="0.85"/>
<circle cx="257.76" cy="192.09" r="0.4" fill="#9a2050" opacity="0.85"/>
<circle cx="256.71" cy="187.17" r="0.48" fill="#9a2050" opacity="0.85"/>
<circle cx="254.13" cy="196.44" r="0.34" fill="#9a2050" opacity="0.85"/>
<circle cx="255.68" cy="180.27" r="0.45" fill="#9a2050" opacity="0.85"/>
<circle cx="261.15" cy="199.3" r="0.35" fill="#9a2050" opacity="0.85"/>
<circle cx="260.75" cy="181.52" r="0.34" fill="#9a2050" opacity="0.85"/>
<circle cx="253.28" cy="179.77" r="0.47" fill="#9a2050" opacity="0.85"/>
<circle cx="253.41" cy="182.14" r="0.29" fill="#9a2050" opacity="0.85"/>
<circle cx="256" cy="191.21" r="0.28" fill="#9a2050" opacity="0.85"/>
<circle cx="265.72" cy="201.11" r="0.28" fill="#9a2050" opacity="0.85"/>
<circle cx="256.44" cy="194.24" r="0.45" fill="#9a2050" opacity="0.85"/>
<circle cx="257.86" cy="199.62" r="0.32" fill="#9a2050" opacity="0.85"/>
<circle cx="257.91" cy="190.13" r="0.4" fill="#9a2050" opacity="0.85"/>
<circle cx="253.19" cy="192.65" r="0.29" fill="#9a2050" opacity="0.85"/>
<circle cx="255.39" cy="200.65" r="0.46" fill="#9a2050" opacity="0.85"/>
<circle cx="263" cy="179.62" r="0.28" fill="#9a2050" opacity="0.85"/>
<circle cx="254.07" cy="196.6" r="0.44" fill="#9a2050" opacity="0.85"/>
</g>
<clipPath id="tc2"><rect x="265.8" y="176.3" width="24.5" height="25.2"/></clipPath><g clip-path="url(#tc2)">
<rect x="265.8" y="176.3" width="24.5" height="25.2" fill="#d884c4"/>
<ellipse cx="269.09" cy="197.66" rx="2.14" ry="1.64" fill="#6a40a8" opacity="0.24" transform="rotate(166 269.09 197.66)"/>
<ellipse cx="275.1" cy="181.59" rx="3.73" ry="1.46" fill="#f0c8e8" opacity="0.27" transform="rotate(0 275.1 181.59)"/>
<ellipse cx="282.85" cy="183.01" rx="2.98" ry="0.97" fill="#6a40a8" opacity="0.21" transform="rotate(5 282.85 183.01)"/>
<ellipse cx="266.42" cy="189.94" rx="2.45" ry="1.17" fill="#6a40a8" opacity="0.23" transform="rotate(7 266.42 189.94)"/>
<ellipse cx="278.73" cy="195.55" rx="2.88" ry="1.39" fill="#6a40a8" opacity="0.29" transform="rotate(117 278.73 195.55)"/>
<ellipse cx="289.13" cy="199.65" rx="3.79" ry="2.37" fill="#f0c8e8" opacity="0.17" transform="rotate(161 289.13 199.65)"/>
<ellipse cx="290.12" cy="197.97" rx="2.33" ry="2.03" fill="#f0c8e8" opacity="0.29" transform="rotate(108 290.12 197.97)"/>
<ellipse cx="278.24" cy="199.24" rx="2.21" ry="2.45" fill="#f0c8e8" opacity="0.25" transform="rotate(129 278.24 199.24)"/>
<ellipse cx="275.44" cy="197.8" rx="3.36" ry="1.49" fill="#f0c8e8" opacity="0.28" transform="rotate(93 275.44 197.8)"/>
<ellipse cx="279.25" cy="194.02" rx="2.44" ry="1.55" fill="#6a40a8" opacity="0.25" transform="rotate(41 279.25 194.02)"/>
<ellipse cx="278.56" cy="186.21" rx="1.57" ry="0.87" fill="#f0c8e8" opacity="0.29" transform="rotate(157 278.56 186.21)"/>
<ellipse cx="280.33" cy="186.22" rx="2.76" ry="2.47" fill="#f0c8e8" opacity="0.3" transform="rotate(138 280.33 186.22)"/>
<ellipse cx="288.34" cy="190.12" rx="2.36" ry="2.24" fill="#f0c8e8" opacity="0.22" transform="rotate(68 288.34 190.12)"/>
<ellipse cx="281.95" cy="191.65" rx="2.46" ry="2.26" fill="#6a40a8" opacity="0.34" transform="rotate(131 281.95 191.65)"/>
<path d="M285.16 188.97h1.19v1.19h-1.19zM275.85 177.4h1.41v1.41h-1.41zM279.35 181h1.15v1.15h-1.15zM277.28 184.92h1.04v1.04h-1.04zM278.59 191.59h1.23v1.23h-1.23zM276.63 176.7h0.96v0.96h-0.96zM269.81 190.61h1.4v1.4h-1.4zM284.9 195.93h1.37v1.37h-1.37zM271.7 197.04h1.27v1.27h-1.27zM267.52 176.42h0.81v0.81h-0.81zM283.86 182.24h0.88v0.88h-0.88zM280.68 184.61h0.85v0.85h-0.85zM269.38 189.18h0.92v0.92h-0.92zM272.13 193.79h1.12v1.12h-1.12zM273.32 187.84h0.82v0.82h-0.82zM274.89 186.52h0.93v0.93h-0.93zM268.14 198.5h1.16v1.16h-1.16zM270.58 191.14h1.37v1.37h-1.37zM266.01 176.45h0.9v0.9h-0.9zM282.97 180.01h1.29v1.29h-1.29zM281.98 189.62h0.95v0.95h-0.95zM289.21 195.95h1.16v1.16h-1.16zM270.92 192.21h1.08v1.08h-1.08zM279.49 184.03h1.24v1.24h-1.24zM266.93 183.47h1.48v1.48h-1.48zM286.78 183.66h1.4v1.4h-1.4zM273.04 199.48h1.32v1.32h-1.32zM275.61 182.31h0.81v0.81h-0.81zM286.85 176.95h1.37v1.37h-1.37zM288.88 190.26h0.92v0.92h-0.92zM286.59 200.34h1.29v1.29h-1.29zM277.87 185.45h1.04v1.04h-1.04zM270.5 192.85h1.1v1.1h-1.1zM270.22 178.61h1.27v1.27h-1.27zM272.69 188.49h1.03v1.03h-1.03zM286.68 198.49h0.81v0.81h-0.81zM270.38 184.19h1.49v1.49h-1.49zM284.52 184.48h0.95v0.95h-0.95zM281.89 196.94h1.45v1.45h-1.45zM273.86 198.06h1.28v1.28h-1.28zM277.27 200.64h0.96v0.96h-0.96zM283.13 178.12h0.92v0.92h-0.92zM287.64 181.32h1.33v1.33h-1.33zM280.09 197.03h1.06v1.06h-1.06zM273.77 183.28h1.41v1.41h-1.41zM280.18 199.86h1.42v1.42h-1.42zM268.79 189.78h0.87v0.87h-0.87zM266.45 177.83h1.41v1.41h-1.41zM284.65 196.71h1.04v1.04h-1.04zM280.45 195.55h1.06v1.06h-1.06z" fill="#6a40a8" opacity="0.8" filter="url(#nb)"/>
<polygon points="264.57,175.04 272.66,175.04 273.15,183.86 270.21,191.42 264.57,196.46" fill="#cf4f8e" stroke="#f6eef6" stroke-width="0.8"/>
<polygon points="275.6,202.76 282.95,194.44 291.53,187.64 291.53,202.76" fill="#f2ebf2" />
</g>
<clipPath id="tc3"><rect x="290.2" y="176.3" width="24.5" height="25.2"/></clipPath><g clip-path="url(#tc3)">
<rect x="290.2" y="176.3" width="24.5" height="25.2" fill="#dc8cc8"/>
<ellipse cx="313.62" cy="200.19" rx="1.71" ry="2.22" fill="#f0c8e8" opacity="0.3" transform="rotate(171 313.62 200.19)"/>
<ellipse cx="311.12" cy="182.64" rx="1.59" ry="1.96" fill="#f0c8e8" opacity="0.35" transform="rotate(163 311.12 182.64)"/>
<ellipse cx="299.84" cy="194.52" rx="3.87" ry="1.73" fill="#7a4aa8" opacity="0.24" transform="rotate(68 299.84 194.52)"/>
<ellipse cx="312.28" cy="198.25" rx="3.83" ry="2.34" fill="#f0c8e8" opacity="0.23" transform="rotate(134 312.28 198.25)"/>
<ellipse cx="294.23" cy="180.77" rx="1.94" ry="1.1" fill="#f0c8e8" opacity="0.25" transform="rotate(92 294.23 180.77)"/>
<ellipse cx="314.67" cy="193.3" rx="3.73" ry="2.15" fill="#f0c8e8" opacity="0.3" transform="rotate(93 314.67 193.3)"/>
<ellipse cx="309.55" cy="185.22" rx="3.9" ry="1.07" fill="#7a4aa8" opacity="0.3" transform="rotate(118 309.55 185.22)"/>
<ellipse cx="306.25" cy="182.6" rx="2.75" ry="1.68" fill="#f0c8e8" opacity="0.31" transform="rotate(169 306.25 182.6)"/>
<ellipse cx="311.83" cy="198.97" rx="2.92" ry="2.36" fill="#f0c8e8" opacity="0.29" transform="rotate(124 311.83 198.97)"/>
<ellipse cx="306.34" cy="200" rx="3.59" ry="2.29" fill="#7a4aa8" opacity="0.27" transform="rotate(122 306.34 200)"/>
<ellipse cx="297.78" cy="200.43" rx="2.76" ry="1.68" fill="#7a4aa8" opacity="0.28" transform="rotate(150 297.78 200.43)"/>
<ellipse cx="300.16" cy="194.72" rx="2.42" ry="1.96" fill="#f0c8e8" opacity="0.33" transform="rotate(87 300.16 194.72)"/>
<ellipse cx="307.99" cy="199.17" rx="3.36" ry="0.9" fill="#f0c8e8" opacity="0.28" transform="rotate(69 307.99 199.17)"/>
<ellipse cx="304.7" cy="193.5" rx="3.39" ry="1.03" fill="#7a4aa8" opacity="0.2" transform="rotate(53 304.7 193.5)"/>
<path d="M312.83 177.51h1.43v1.43h-1.43zM308.35 177.42h1.05v1.05h-1.05zM295.96 176.59h0.88v0.88h-0.88zM291.54 177.02h1.44v1.44h-1.44zM298.97 179.19h1.46v1.46h-1.46zM307.76 189.08h0.8v0.8h-0.8zM304.22 195.85h0.97v0.97h-0.97zM313.49 176.1h1.46v1.46h-1.46zM305.15 194.69h1v1h-1zM301.78 183.71h1.19v1.19h-1.19zM304.61 177.14h0.98v0.98h-0.98zM299.67 191.54h0.91v0.91h-0.91zM313.2 178.34h1.28v1.28h-1.28zM310.27 176.61h1.35v1.35h-1.35zM312.94 188.96h1.35v1.35h-1.35zM301.73 184.2h1.41v1.41h-1.41zM298.19 182.55h1.48v1.48h-1.48zM305.78 193.49h1.47v1.47h-1.47zM306.19 182.32h0.89v0.89h-0.89zM294.05 187.33h0.96v0.96h-0.96zM312.17 193.7h0.82v0.82h-0.82zM295.9 193.85h0.85v0.85h-0.85zM291.85 181.71h1.35v1.35h-1.35zM305.06 185h1.28v1.28h-1.28zM296.67 194.77h0.91v0.91h-0.91zM299.25 180.01h1.16v1.16h-1.16zM292.03 178.55h0.81v0.81h-0.81zM308.14 178.63h0.82v0.82h-0.82zM306.17 187.35h1.17v1.17h-1.17zM299.13 193.12h1.33v1.33h-1.33zM295.01 196.15h1.1v1.1h-1.1zM290.42 190.78h1.42v1.42h-1.42zM312.47 190.53h1.44v1.44h-1.44zM306.02 188h0.81v0.81h-0.81zM313.24 178.96h1.06v1.06h-1.06z" fill="#7a4aa8" opacity="0.8" filter="url(#nb)"/>
<polygon points="288.97,175.04 315.93,175.04 315.93,180.08 288.97,181.34" fill="#d04f90" />
<ellipse cx="293.14" cy="196.96" rx="5.39" ry="6.3" fill="#f2ebf2" transform="rotate(0 293.14 196.96)"/>
<ellipse cx="307.84" cy="198.98" rx="6.12" ry="4.54" fill="#f2ebf2" transform="rotate(0 307.84 198.98)"/>
<ellipse cx="298.77" cy="200.24" rx="4.9" ry="2.52" fill="#f2ebf2" transform="rotate(0 298.77 200.24)"/>
</g>
<clipPath id="tc4"><rect x="314.5" y="176.3" width="24.5" height="25.2"/></clipPath><g clip-path="url(#tc4)">
<rect x="314.5" y="176.3" width="24.5" height="25.2" fill="#eedaec"/>
<ellipse cx="320.33" cy="190.01" rx="3.01" ry="1.86" fill="#f0c8e8" opacity="0.16" transform="rotate(3 320.33 190.01)"/>
<ellipse cx="336.77" cy="188.12" rx="1.98" ry="2.02" fill="#b060b0" opacity="0.26" transform="rotate(140 336.77 188.12)"/>
<ellipse cx="326.17" cy="192.4" rx="3.09" ry="2.28" fill="#f0c8e8" opacity="0.25" transform="rotate(3 326.17 192.4)"/>
<ellipse cx="330.95" cy="177.91" rx="2.98" ry="1.31" fill="#b060b0" opacity="0.16" transform="rotate(68 330.95 177.91)"/>
<ellipse cx="326.08" cy="194.41" rx="3.29" ry="2.37" fill="#b060b0" opacity="0.23" transform="rotate(147 326.08 194.41)"/>
<ellipse cx="325.39" cy="199.88" rx="1.74" ry="1.03" fill="#b060b0" opacity="0.19" transform="rotate(172 325.39 199.88)"/>
<ellipse cx="325.19" cy="192.09" rx="2.77" ry="1.46" fill="#f0c8e8" opacity="0.22" transform="rotate(149 325.19 192.09)"/>
<ellipse cx="324.49" cy="182.16" rx="3.79" ry="0.85" fill="#f0c8e8" opacity="0.21" transform="rotate(155 324.49 182.16)"/>
<ellipse cx="330.95" cy="180.41" rx="3.91" ry="2.34" fill="#b060b0" opacity="0.26" transform="rotate(167 330.95 180.41)"/>
<ellipse cx="319.67" cy="197.26" rx="2.21" ry="0.91" fill="#b060b0" opacity="0.32" transform="rotate(123 319.67 197.26)"/>
<ellipse cx="316.67" cy="196.48" rx="1.88" ry="1.3" fill="#f0c8e8" opacity="0.3" transform="rotate(30 316.67 196.48)"/>
<ellipse cx="315.58" cy="191.79" rx="3.3" ry="1.36" fill="#f0c8e8" opacity="0.33" transform="rotate(71 315.58 191.79)"/>
<ellipse cx="326.88" cy="201.46" rx="1.69" ry="1.82" fill="#f0c8e8" opacity="0.16" transform="rotate(50 326.88 201.46)"/>
<ellipse cx="338.3" cy="183.65" rx="3.22" ry="2.47" fill="#f0c8e8" opacity="0.22" transform="rotate(92 338.3 183.65)"/>
<path d="M337.5 198.42h1.06v1.06h-1.06zM325.39 189h1.25v1.25h-1.25zM328.67 189.98h1.23v1.23h-1.23zM337.06 188.68h1.1v1.1h-1.1zM331.7 181.94h1.01v1.01h-1.01zM337.96 189.03h1.18v1.18h-1.18zM314.48 186.38h1.21v1.21h-1.21zM314.69 191.39h1.24v1.24h-1.24zM315.66 191.68h1.13v1.13h-1.13zM330.71 184.81h1.29v1.29h-1.29zM332.13 176.55h0.84v0.84h-0.84zM330.63 200.08h0.98v0.98h-0.98z" fill="#b060b0" opacity="0.8" filter="url(#nb)"/>
<path d="M315.73 200.24L324.3 190.16L331.65 181.34L335.32 176.3" stroke="#d884c4" stroke-width="1.6" fill="none" stroke-linecap="round" opacity="0.8" filter="url(#nb)"/>
<path d="M316.95 201.5L326.75 195.2L339 190.16" stroke="#de92cc" stroke-width="1.4" fill="none" stroke-linecap="round" opacity="0.8" filter="url(#nb)"/>
<polygon points="313.27,193.94 321.85,197.72 324.3,202.76 313.27,202.76" fill="#dc8cc8" />
</g>
<clipPath id="tc5"><rect x="338.9" y="176.3" width="24.5" height="25.2"/></clipPath><g clip-path="url(#tc5)">
<rect x="338.9" y="176.3" width="24.5" height="25.2" fill="#da80c4"/>
<ellipse cx="344.68" cy="178.9" rx="1.89" ry="0.91" fill="#f0c8e8" opacity="0.23" transform="rotate(74 344.68 178.9)"/>
<ellipse cx="358.51" cy="195.58" rx="2.84" ry="1.27" fill="#f0c8e8" opacity="0.18" transform="rotate(27 358.51 195.58)"/>
<ellipse cx="345.31" cy="200.06" rx="3.1" ry="1.24" fill="#f0c8e8" opacity="0.2" transform="rotate(42 345.31 200.06)"/>
<ellipse cx="346.49" cy="192.1" rx="3.64" ry="2.3" fill="#6a3aa0" opacity="0.17" transform="rotate(155 346.49 192.1)"/>
<ellipse cx="347.17" cy="186.08" rx="2.12" ry="1.28" fill="#f0c8e8" opacity="0.34" transform="rotate(140 347.17 186.08)"/>
<ellipse cx="359.49" cy="176.48" rx="3.26" ry="1.33" fill="#f0c8e8" opacity="0.3" transform="rotate(49 359.49 176.48)"/>
<ellipse cx="349.04" cy="191.39" rx="1.9" ry="1.32" fill="#f0c8e8" opacity="0.31" transform="rotate(11 349.04 191.39)"/>
<ellipse cx="340.89" cy="187.96" rx="2.8" ry="1.9" fill="#6a3aa0" opacity="0.29" transform="rotate(37 340.89 187.96)"/>
<ellipse cx="363.33" cy="181.23" rx="2.01" ry="1.88" fill="#f0c8e8" opacity="0.21" transform="rotate(91 363.33 181.23)"/>
<ellipse cx="349.58" cy="191.14" rx="2" ry="1.35" fill="#6a3aa0" opacity="0.32" transform="rotate(58 349.58 191.14)"/>
<ellipse cx="345.7" cy="190.97" rx="1.81" ry="2.39" fill="#6a3aa0" opacity="0.21" transform="rotate(6 345.7 190.97)"/>
<ellipse cx="339.95" cy="193.87" rx="3.89" ry="2.05" fill="#6a3aa0" opacity="0.34" transform="rotate(4 339.95 193.87)"/>
<ellipse cx="346.81" cy="184.41" rx="3.13" ry="2.26" fill="#f0c8e8" opacity="0.32" transform="rotate(174 346.81 184.41)"/>
<ellipse cx="358.94" cy="183.69" rx="2.61" ry="1.03" fill="#f0c8e8" opacity="0.23" transform="rotate(40 358.94 183.69)"/>
<path d="M346.65 176.23h0.83v0.83h-0.83zM342.72 195.59h1.05v1.05h-1.05zM345.66 178.43h1.49v1.49h-1.49zM348.9 181.2h0.84v0.84h-0.84zM339.94 180.22h1.27v1.27h-1.27zM342.24 177.02h1.14v1.14h-1.14zM344.65 200.94h0.89v0.89h-0.89zM351.46 195.34h1.09v1.09h-1.09zM362.6 187.94h0.97v0.97h-0.97zM348.58 176.92h1.09v1.09h-1.09zM344.64 198.23h1.38v1.38h-1.38zM350.72 176.79h0.98v0.98h-0.98zM344.49 181.2h0.96v0.96h-0.96zM359.73 179.54h0.84v0.84h-0.84zM361.15 190.13h1.49v1.49h-1.49zM348.39 198.52h1.26v1.26h-1.26zM357.82 194.62h1.15v1.15h-1.15zM340.86 181.27h1.41v1.41h-1.41zM360.46 199.11h1.04v1.04h-1.04zM354.56 195.99h1.25v1.25h-1.25zM358.4 189.2h1.26v1.26h-1.26zM355.27 182.71h1.45v1.45h-1.45zM361.84 177.86h1.48v1.48h-1.48zM361.97 192.71h0.83v0.83h-0.83zM360.44 179.19h1.48v1.48h-1.48zM354.81 177.51h0.92v0.92h-0.92zM354.04 190.23h1.32v1.32h-1.32zM361.14 181.46h0.8v0.8h-0.8zM361.01 176.33h1.41v1.41h-1.41zM341.42 196.25h1.35v1.35h-1.35zM359.93 189.77h1.42v1.42h-1.42zM343.5 192.79h1.03v1.03h-1.03zM360.27 195.34h1.13v1.13h-1.13zM351.39 176.66h0.82v0.82h-0.82zM353.05 188.22h1.41v1.41h-1.41zM353.38 179.47h1.05v1.05h-1.05zM357.25 189.07h0.81v0.81h-0.81zM358.96 196.69h0.86v0.86h-0.86zM351.8 185.53h1.35v1.35h-1.35zM346.16 181.84h1.14v1.14h-1.14zM362.08 178.38h0.88v0.88h-0.88zM353.69 198.13h1.16v1.16h-1.16zM349.15 197.45h1.34v1.34h-1.34zM340.23 198.03h0.94v0.94h-0.94zM345.95 196.91h1.1v1.1h-1.1z" fill="#6a3aa0" opacity="0.8" filter="url(#nb)"/>
<path d="M361.44 175.04L358.5 183.86L355.56 191.92" stroke="#f4e6f2" stroke-width="1.0" fill="none" stroke-linecap="round" opacity="0.8" filter="url(#nb)"/>
<polygon points="337.67,197.72 342.57,196.46 345.02,202.76 337.67,202.76" fill="#f2ebf2" />
</g>
<path d="M265.8 176.3V201.5M290.2 176.3V201.5M314.5 176.3V201.5M338.9 176.3V201.5" stroke="#222" stroke-width="0.8"/>
<rect x="241.4" y="176.3" width="122" height="25.2" fill="none" stroke="#222" stroke-width="0.9"/>
<clipPath id="tc6"><rect x="241.4" y="207.1" width="24.5" height="25.2"/></clipPath><g clip-path="url(#tc6)">
<rect x="241.4" y="207.1" width="24.5" height="25.2" fill="#e096cc"/>
<ellipse cx="255.4" cy="217.91" rx="2.02" ry="2.18" fill="#6040a8" opacity="0.31" transform="rotate(167 255.4 217.91)"/>
<ellipse cx="261.26" cy="207.97" rx="1.69" ry="2.42" fill="#f0c8e8" opacity="0.3" transform="rotate(92 261.26 207.97)"/>
<ellipse cx="242.49" cy="228.78" rx="2.45" ry="1.28" fill="#6040a8" opacity="0.28" transform="rotate(116 242.49 228.78)"/>
<ellipse cx="245.68" cy="214.74" rx="2.64" ry="2.26" fill="#f0c8e8" opacity="0.2" transform="rotate(112 245.68 214.74)"/>
<ellipse cx="256.43" cy="208.22" rx="1.83" ry="2.4" fill="#f0c8e8" opacity="0.21" transform="rotate(93 256.43 208.22)"/>
<ellipse cx="260.32" cy="213.15" rx="2.63" ry="1.6" fill="#6040a8" opacity="0.28" transform="rotate(83 260.32 213.15)"/>
<ellipse cx="262.08" cy="211.04" rx="2.53" ry="0.86" fill="#f0c8e8" opacity="0.25" transform="rotate(155 262.08 211.04)"/>
<ellipse cx="257.52" cy="220.54" rx="1.87" ry="1.76" fill="#6040a8" opacity="0.22" transform="rotate(153 257.52 220.54)"/>
<ellipse cx="245.07" cy="231.39" rx="2.6" ry="2.47" fill="#6040a8" opacity="0.19" transform="rotate(89 245.07 231.39)"/>
<ellipse cx="252.01" cy="217.53" rx="2.19" ry="1.85" fill="#f0c8e8" opacity="0.19" transform="rotate(30 252.01 217.53)"/>
<ellipse cx="247.94" cy="214.72" rx="3.86" ry="1.1" fill="#6040a8" opacity="0.19" transform="rotate(88 247.94 214.72)"/>
<ellipse cx="249.44" cy="212.74" rx="1.61" ry="2.32" fill="#6040a8" opacity="0.2" transform="rotate(67 249.44 212.74)"/>
<ellipse cx="252.38" cy="221.79" rx="3.67" ry="1.94" fill="#f0c8e8" opacity="0.2" transform="rotate(134 252.38 221.79)"/>
<ellipse cx="265.71" cy="213.95" rx="2.75" ry="1.08" fill="#f0c8e8" opacity="0.28" transform="rotate(102 265.71 213.95)"/>
<path d="M244.4 220.33h1.04v1.04h-1.04zM250.52 224.34h1.19v1.19h-1.19zM243.5 231.15h1.38v1.38h-1.38zM262.29 217.76h0.85v0.85h-0.85zM249.6 210.6h1.23v1.23h-1.23zM261.35 226.79h0.9v0.9h-0.9zM262.05 226.17h1.45v1.45h-1.45zM249.44 213.28h1.35v1.35h-1.35zM252.24 215.01h1.16v1.16h-1.16zM253.82 225.29h1.03v1.03h-1.03zM241.9 211.69h1.43v1.43h-1.43zM255.08 222.51h0.82v0.82h-0.82zM243.93 214.21h1.4v1.4h-1.4zM247.09 214.03h0.86v0.86h-0.86zM255.61 220.57h1.49v1.49h-1.49zM243.67 227.22h0.91v0.91h-0.91zM252.7 215.82h1.08v1.08h-1.08zM260.22 231.45h0.93v0.93h-0.93zM255.47 217.47h1.49v1.49h-1.49zM257.73 214.51h1.47v1.47h-1.47zM262.08 225.59h1.38v1.38h-1.38zM258.66 217.99h1.32v1.32h-1.32zM246.17 221.74h0.88v0.88h-0.88zM260.12 206.99h1.1v1.1h-1.1zM251.03 216.35h1.37v1.37h-1.37zM245.95 226.11h1.36v1.36h-1.36zM261.12 215.5h1.05v1.05h-1.05zM251.41 211.64h1.32v1.32h-1.32zM252.44 214.15h1.15v1.15h-1.15zM263.17 216.91h1.25v1.25h-1.25zM249.58 213.73h1.43v1.43h-1.43zM261.83 221.48h0.86v0.86h-0.86zM254.22 215.98h1.31v1.31h-1.31zM263.23 211.01h1.22v1.22h-1.22zM251.2 220.91h1.22v1.22h-1.22zM258.93 214.45h1.21v1.21h-1.21zM256.93 208.65h1.08v1.08h-1.08zM250.19 221.94h0.97v0.97h-0.97zM248.58 220.7h1.37v1.37h-1.37zM242.4 221.05h0.85v0.85h-0.85zM251.35 221.04h1.49v1.49h-1.49zM263.33 226.91h1.22v1.22h-1.22zM250.64 215.28h1.42v1.42h-1.42zM245.74 230.12h1.19v1.19h-1.19zM259.83 227.69h1.41v1.41h-1.41zM257.08 221.26h0.83v0.83h-0.83zM249.99 230.18h1.03v1.03h-1.03zM256.61 226.12h0.88v0.88h-0.88zM260.28 215.44h0.91v0.91h-0.91zM258.67 220.22h1.36v1.36h-1.36zM243.24 217.78h1.42v1.42h-1.42zM242.55 229.9h1.11v1.11h-1.11zM252.54 218.09h1.11v1.11h-1.11zM255.78 215.64h1.1v1.1h-1.1zM261.15 230.69h1.16v1.16h-1.16zM250.53 209.23h1.25v1.25h-1.25zM242.1 228.3h1.25v1.25h-1.25zM245.72 217.52h1.44v1.44h-1.44zM262.99 220.78h1.47v1.47h-1.47zM255.81 210.94h1.47v1.47h-1.47zM246.53 221.3h0.87v0.87h-0.87zM254.82 227.7h1.01v1.01h-1.01zM261.76 216.7h1.33v1.33h-1.33zM242.99 225.79h1.14v1.14h-1.14zM245.19 227.02h1.47v1.47h-1.47zM263.97 215.01h0.83v0.83h-0.83zM261.35 211.2h1.29v1.29h-1.29zM244.82 222.84h1.29v1.29h-1.29zM264.65 216.72h1.37v1.37h-1.37zM246.81 217.37h1.25v1.25h-1.25z" fill="#6040a8" opacity="0.8" filter="url(#nb)"/>
<circle cx="250.05" cy="226.34" r="0.67" fill="#6048b0" opacity="0.85"/>
<circle cx="244.7" cy="229.36" r="0.55" fill="#6048b0" opacity="0.85"/>
<circle cx="247.92" cy="223.42" r="0.46" fill="#6048b0" opacity="0.85"/>
<circle cx="249.55" cy="230.68" r="0.5" fill="#6048b0" opacity="0.85"/>
<circle cx="245.81" cy="226.1" r="0.63" fill="#6048b0" opacity="0.85"/>
<circle cx="244.71" cy="230.09" r="0.57" fill="#6048b0" opacity="0.85"/>
<circle cx="246.31" cy="221.66" r="0.68" fill="#6048b0" opacity="0.85"/>
<circle cx="249.19" cy="226.59" r="0.37" fill="#6048b0" opacity="0.85"/>
<circle cx="247.28" cy="221.28" r="0.6" fill="#6048b0" opacity="0.85"/>
<circle cx="247.54" cy="229.37" r="0.42" fill="#6048b0" opacity="0.85"/>
<circle cx="244.26" cy="224.23" r="0.53" fill="#6048b0" opacity="0.85"/>
<circle cx="250.6" cy="221.15" r="0.41" fill="#6048b0" opacity="0.85"/>
<circle cx="252.08" cy="222.99" r="0.69" fill="#6048b0" opacity="0.85"/>
<circle cx="247.16" cy="226.45" r="0.57" fill="#6048b0" opacity="0.85"/>
</g>
<clipPath id="tc7"><rect x="265.8" y="207.1" width="24.5" height="25.2"/></clipPath><g clip-path="url(#tc7)">
<rect x="265.8" y="207.1" width="24.5" height="25.2" fill="#de94cc"/>
<ellipse cx="276.88" cy="221.21" rx="2.66" ry="1.66" fill="#6040a8" opacity="0.27" transform="rotate(47 276.88 221.21)"/>
<ellipse cx="285.5" cy="219.09" rx="1.97" ry="1.56" fill="#6040a8" opacity="0.18" transform="rotate(137 285.5 219.09)"/>
<ellipse cx="285.64" cy="224.57" rx="3.96" ry="2.44" fill="#f0c8e8" opacity="0.28" transform="rotate(157 285.64 224.57)"/>
<ellipse cx="281.73" cy="222.8" rx="1.66" ry="0.86" fill="#6040a8" opacity="0.33" transform="rotate(153 281.73 222.8)"/>
<ellipse cx="266.54" cy="218.79" rx="3.61" ry="1.68" fill="#f0c8e8" opacity="0.28" transform="rotate(127 266.54 218.79)"/>
<ellipse cx="265.91" cy="209.24" rx="2.52" ry="1.74" fill="#6040a8" opacity="0.34" transform="rotate(21 265.91 209.24)"/>
<ellipse cx="283.14" cy="215.04" rx="2.22" ry="0.92" fill="#f0c8e8" opacity="0.3" transform="rotate(102 283.14 215.04)"/>
<ellipse cx="268.44" cy="214.43" rx="1.54" ry="1.96" fill="#f0c8e8" opacity="0.19" transform="rotate(13 268.44 214.43)"/>
<ellipse cx="277.31" cy="231.81" rx="1.68" ry="1.87" fill="#f0c8e8" opacity="0.31" transform="rotate(69 277.31 231.81)"/>
<ellipse cx="274.05" cy="214.94" rx="2.53" ry="2.37" fill="#f0c8e8" opacity="0.18" transform="rotate(25 274.05 214.94)"/>
<ellipse cx="266.07" cy="218.82" rx="3.21" ry="1.12" fill="#f0c8e8" opacity="0.25" transform="rotate(33 266.07 218.82)"/>
<ellipse cx="276.07" cy="216.77" rx="3.98" ry="0.8" fill="#f0c8e8" opacity="0.32" transform="rotate(151 276.07 216.77)"/>
<ellipse cx="273.25" cy="229.4" rx="2.49" ry="2.25" fill="#f0c8e8" opacity="0.28" transform="rotate(25 273.25 229.4)"/>
<ellipse cx="266.83" cy="210.79" rx="1.52" ry="1.84" fill="#f0c8e8" opacity="0.32" transform="rotate(98 266.83 210.79)"/>
<path d="M267.28 209.05h1.21v1.21h-1.21zM271.41 221.83h1.06v1.06h-1.06zM276.51 230.78h1.14v1.14h-1.14zM279.46 228.46h0.93v0.93h-0.93zM269.25 229.51h1.37v1.37h-1.37zM271.56 211.55h1.32v1.32h-1.32zM288.35 211.71h1.47v1.47h-1.47zM286.94 221.89h1.1v1.1h-1.1zM268.02 207.77h1.47v1.47h-1.47zM271.29 224.41h0.98v0.98h-0.98zM285.52 221.71h1.01v1.01h-1.01zM269.76 224.81h0.85v0.85h-0.85zM271.05 220.78h1.4v1.4h-1.4zM280.43 213.81h1.44v1.44h-1.44zM270.46 207.21h0.99v0.99h-0.99zM276.33 208.31h0.92v0.92h-0.92zM274.46 221.1h0.89v0.89h-0.89zM274.3 229.07h1.49v1.49h-1.49zM281.46 224.08h1.21v1.21h-1.21zM268.91 207.68h0.81v0.81h-0.81zM287.62 224.32h1.47v1.47h-1.47zM266.02 222.7h1.14v1.14h-1.14zM283.25 214.77h1.5v1.5h-1.5zM267.33 220.45h1.32v1.32h-1.32zM287.37 225.23h1.29v1.29h-1.29zM284.78 229.68h1.05v1.05h-1.05zM282.15 229.32h1.41v1.41h-1.41zM275.64 226.56h1.4v1.4h-1.4zM279.42 222.42h1.07v1.07h-1.07zM279.66 222.02h0.86v0.86h-0.86zM281.04 231.63h1.42v1.42h-1.42zM283.2 216.51h1.31v1.31h-1.31zM279.62 217.81h1.39v1.39h-1.39zM267.54 225.56h0.82v0.82h-0.82zM280.11 218.82h0.96v0.96h-0.96zM282.47 219.23h1.23v1.23h-1.23zM287.87 213.2h0.81v0.81h-0.81zM272.82 223.75h0.94v0.94h-0.94zM269.62 229.44h1.26v1.26h-1.26zM276.24 229.09h1.03v1.03h-1.03zM281.68 211.76h1.1v1.1h-1.1zM285.09 229.66h1.42v1.42h-1.42zM274.84 221.38h1.02v1.02h-1.02zM268.81 219.21h1.39v1.39h-1.39zM286.12 224.58h1.47v1.47h-1.47zM272.23 211.03h1.12v1.12h-1.12zM272.19 212.15h1.09v1.09h-1.09zM280.71 219.15h1.02v1.02h-1.02zM285.89 231.35h1.12v1.12h-1.12zM267.31 207.59h1.41v1.41h-1.41zM266.51 224.52h1.2v1.2h-1.2zM273.01 226.59h0.81v0.81h-0.81zM268.8 218.17h0.82v0.82h-0.82zM285.66 212.74h0.9v0.9h-0.9zM266.64 222.53h1.11v1.11h-1.11zM280.81 223.18h1.37v1.37h-1.37zM288.79 223.91h0.94v0.94h-0.94zM277.05 211.27h0.81v0.81h-0.81zM276.97 224.65h0.93v0.93h-0.93zM272.12 215.44h1.29v1.29h-1.29z" fill="#6040a8" opacity="0.8" filter="url(#nb)"/>
<ellipse cx="275.6" cy="222.22" rx="5.88" ry="8.32" fill="#f2ebf2" transform="rotate(20 275.6 222.22)"/>
</g>
<clipPath id="tc8"><rect x="290.2" y="207.1" width="24.5" height="25.2"/></clipPath><g clip-path="url(#tc8)">
<rect x="290.2" y="207.1" width="24.5" height="25.2" fill="#de94cc"/>
<ellipse cx="301.83" cy="223.67" rx="1.86" ry="0.82" fill="#6040a8" opacity="0.22" transform="rotate(70 301.83 223.67)"/>
<ellipse cx="305.96" cy="218.7" rx="2.07" ry="0.8" fill="#6040a8" opacity="0.27" transform="rotate(112 305.96 218.7)"/>
<ellipse cx="299.21" cy="215.66" rx="2.94" ry="1.14" fill="#f0c8e8" opacity="0.25" transform="rotate(86 299.21 215.66)"/>
<ellipse cx="306.9" cy="227.21" rx="3.8" ry="2.19" fill="#f0c8e8" opacity="0.28" transform="rotate(57 306.9 227.21)"/>
<ellipse cx="292.43" cy="231.98" rx="1.78" ry="1.52" fill="#6040a8" opacity="0.18" transform="rotate(80 292.43 231.98)"/>
<ellipse cx="311.81" cy="221.17" rx="3.71" ry="1.74" fill="#6040a8" opacity="0.25" transform="rotate(21 311.81 221.17)"/>
<ellipse cx="300.01" cy="217.65" rx="2.69" ry="1.45" fill="#6040a8" opacity="0.16" transform="rotate(21 300.01 217.65)"/>
<ellipse cx="313.9" cy="231.7" rx="2.39" ry="1.42" fill="#6040a8" opacity="0.29" transform="rotate(172 313.9 231.7)"/>
<ellipse cx="297.79" cy="213.46" rx="2.43" ry="1.77" fill="#f0c8e8" opacity="0.3" transform="rotate(45 297.79 213.46)"/>
<ellipse cx="290.89" cy="227.83" rx="2.8" ry="1.18" fill="#f0c8e8" opacity="0.24" transform="rotate(99 290.89 227.83)"/>
<ellipse cx="295.21" cy="222.4" rx="2.05" ry="0.93" fill="#6040a8" opacity="0.2" transform="rotate(110 295.21 222.4)"/>
<ellipse cx="296.98" cy="215.77" rx="1.63" ry="1.58" fill="#6040a8" opacity="0.19" transform="rotate(72 296.98 215.77)"/>
<ellipse cx="301.36" cy="224.66" rx="2.1" ry="2.48" fill="#6040a8" opacity="0.24" transform="rotate(140 301.36 224.66)"/>
<ellipse cx="299.12" cy="211.87" rx="3.78" ry="0.81" fill="#6040a8" opacity="0.2" transform="rotate(87 299.12 211.87)"/>
<path d="M294.26 226.67h1.15v1.15h-1.15zM295.92 209.7h1.05v1.05h-1.05zM303.18 210.67h1.45v1.45h-1.45zM311.33 223.51h1v1h-1zM292.77 226.4h1.15v1.15h-1.15zM301.8 215.64h1.28v1.28h-1.28zM300.71 225.27h1.11v1.11h-1.11zM304.89 207.95h1.03v1.03h-1.03zM310.85 222.81h1.11v1.11h-1.11zM309.15 225.15h1.16v1.16h-1.16zM290.59 206.89h0.82v0.82h-0.82zM303.46 213.45h0.9v0.9h-0.9zM294.77 218.59h0.84v0.84h-0.84zM303.76 224.77h1.46v1.46h-1.46zM296.17 207.78h1.1v1.1h-1.1zM292.16 216.92h0.94v0.94h-0.94zM303.43 231.3h1.25v1.25h-1.25zM299.26 210.82h1.28v1.28h-1.28zM293.68 207.57h0.83v0.83h-0.83zM291.67 217.19h0.94v0.94h-0.94zM312.43 226.61h1.3v1.3h-1.3zM294.49 213.57h1.36v1.36h-1.36zM306.58 219.09h1.23v1.23h-1.23zM295.05 221.78h1.28v1.28h-1.28zM304.01 208.59h1.05v1.05h-1.05zM291.9 215.11h1.28v1.28h-1.28zM307.41 214.56h0.93v0.93h-0.93zM306.39 222.73h1.11v1.11h-1.11zM294.17 212.03h1.24v1.24h-1.24zM301.69 208.22h1.22v1.22h-1.22zM301 228.91h0.87v0.87h-0.87zM295.35 230.9h1.06v1.06h-1.06zM310.53 224.01h1.01v1.01h-1.01zM302.45 210.47h1.43v1.43h-1.43zM297.98 219.32h1.07v1.07h-1.07zM302.07 224.45h1.12v1.12h-1.12zM308.99 208.03h1.34v1.34h-1.34zM299.8 224.27h1.35v1.35h-1.35zM302.57 217.8h0.84v0.84h-0.84zM292.48 221.06h1.02v1.02h-1.02zM308.42 207.23h1.34v1.34h-1.34zM311.67 222.61h0.92v0.92h-0.92zM301.49 226.82h0.89v0.89h-0.89zM301.92 217.53h1.06v1.06h-1.06zM299.83 222.49h1v1h-1zM309.65 226.54h1.23v1.23h-1.23zM293.5 213.28h0.82v0.82h-0.82zM305.89 226.7h1.06v1.06h-1.06zM300.2 223.26h1.04v1.04h-1.04zM308.58 219.11h1.46v1.46h-1.46zM309.7 211.37h1.35v1.35h-1.35zM310.21 209.54h0.99v0.99h-0.99zM311.47 228.51h1.26v1.26h-1.26zM307.93 224.69h1.49v1.49h-1.49zM312.14 226.07h1.4v1.4h-1.4zM297.46 228.62h1.32v1.32h-1.32zM310.79 220.69h0.83v0.83h-0.83zM309.59 211.69h0.94v0.94h-0.94zM309.55 229.97h1.49v1.49h-1.49zM308.7 220.45h0.82v0.82h-0.82zM312.03 215.92h1.15v1.15h-1.15zM294.77 209.25h0.8v0.8h-0.8zM292.98 216.62h1.14v1.14h-1.14zM297.03 215.7h1.39v1.39h-1.39zM310.62 229.12h0.82v0.82h-0.82zM310.43 207.31h0.91v0.91h-0.91zM308.3 215.96h0.87v0.87h-0.87zM310.39 226.7h1.18v1.18h-1.18zM313.29 216.17h0.85v0.85h-0.85zM312.18 215.51h0.96v0.96h-0.96zM300.18 226.95h1.39v1.39h-1.39zM312.57 207.57h1.28v1.28h-1.28zM303.62 229.89h1.31v1.31h-1.31zM305.7 227.94h1.48v1.48h-1.48zM304.31 221.48h1.36v1.36h-1.36z" fill="#6040a8" opacity="0.8" filter="url(#nb)"/>
</g>
<clipPath id="tc9"><rect x="314.5" y="207.1" width="24.5" height="25.2"/></clipPath><g clip-path="url(#tc9)">
<rect x="314.5" y="207.1" width="24.5" height="25.2" fill="#b88ad0"/>
<ellipse cx="320.85" cy="224.37" rx="3.62" ry="1.12" fill="#4a2aa0" opacity="0.2" transform="rotate(37 320.85 224.37)"/>
<ellipse cx="335.8" cy="223.25" rx="1.68" ry="2.24" fill="#f0c8e8" opacity="0.3" transform="rotate(7 335.8 223.25)"/>
<ellipse cx="325.07" cy="228.21" rx="1.54" ry="1.27" fill="#4a2aa0" opacity="0.18" transform="rotate(67 325.07 228.21)"/>
<ellipse cx="334.75" cy="225.87" rx="3.48" ry="1.24" fill="#4a2aa0" opacity="0.32" transform="rotate(124 334.75 225.87)"/>
<ellipse cx="336.51" cy="220.95" rx="3.18" ry="2.31" fill="#4a2aa0" opacity="0.28" transform="rotate(167 336.51 220.95)"/>
<ellipse cx="317.38" cy="227.76" rx="3.96" ry="1.97" fill="#4a2aa0" opacity="0.26" transform="rotate(34 317.38 227.76)"/>
<ellipse cx="325.29" cy="225.47" rx="2.23" ry="1.11" fill="#4a2aa0" opacity="0.22" transform="rotate(95 325.29 225.47)"/>
<ellipse cx="325.76" cy="222.36" rx="1.83" ry="1.63" fill="#f0c8e8" opacity="0.2" transform="rotate(60 325.76 222.36)"/>
<ellipse cx="336.22" cy="224.78" rx="2.58" ry="1.87" fill="#f0c8e8" opacity="0.24" transform="rotate(0 336.22 224.78)"/>
<ellipse cx="332.11" cy="230.61" rx="1.85" ry="2.17" fill="#f0c8e8" opacity="0.32" transform="rotate(163 332.11 230.61)"/>
<ellipse cx="320.72" cy="225.58" rx="2.13" ry="2.09" fill="#4a2aa0" opacity="0.22" transform="rotate(161 320.72 225.58)"/>
<ellipse cx="323.68" cy="225.16" rx="3.93" ry="1.83" fill="#f0c8e8" opacity="0.29" transform="rotate(54 323.68 225.16)"/>
<ellipse cx="335.61" cy="208.17" rx="1.6" ry="1.79" fill="#4a2aa0" opacity="0.26" transform="rotate(46 335.61 208.17)"/>
<ellipse cx="321.74" cy="211.24" rx="1.78" ry="1.18" fill="#4a2aa0" opacity="0.16" transform="rotate(164 321.74 211.24)"/>
<path d="M328.66 226.98h1.29v1.29h-1.29zM337.8 227.43h1.25v1.25h-1.25zM327 209.96h1.02v1.02h-1.02zM324.12 229.47h1.2v1.2h-1.2zM331.19 230.26h1.17v1.17h-1.17zM334.89 207.69h1.02v1.02h-1.02zM317.97 220.79h1.17v1.17h-1.17zM334.23 212.38h0.95v0.95h-0.95zM333.61 216.2h1.3v1.3h-1.3zM318.02 210.46h1.1v1.1h-1.1zM334.23 212.18h1.1v1.1h-1.1zM319.93 226.12h1.21v1.21h-1.21zM324.6 222.82h1.1v1.1h-1.1zM321.9 218.32h0.85v0.85h-0.85zM315.31 229.83h1.26v1.26h-1.26zM321.65 218.04h1.49v1.49h-1.49zM323.67 208.33h1.17v1.17h-1.17zM337.32 210.51h0.84v0.84h-0.84zM323.16 210.71h1.02v1.02h-1.02zM328.86 214.07h1.04v1.04h-1.04zM316.62 219.07h1.21v1.21h-1.21zM328.37 217.66h1.05v1.05h-1.05zM321.38 230.99h0.83v0.83h-0.83zM318.25 228.98h1.32v1.32h-1.32zM336.13 229.16h1.44v1.44h-1.44zM330.76 209.04h1.45v1.45h-1.45zM315.91 213.4h1.38v1.38h-1.38zM315.34 212.75h1.38v1.38h-1.38zM320 226.45h1.33v1.33h-1.33zM318.94 216.63h0.84v0.84h-0.84zM327.49 208.1h1.23v1.23h-1.23zM337.1 225.8h1.06v1.06h-1.06zM323.84 210.53h1.18v1.18h-1.18zM320.54 216.12h1.45v1.45h-1.45zM318.26 207.19h1.17v1.17h-1.17zM320.79 209.07h1.03v1.03h-1.03zM329.45 210.81h1.49v1.49h-1.49zM330.58 224.32h1.44v1.44h-1.44zM315.19 209.17h1.08v1.08h-1.08zM323.62 216.55h0.91v0.91h-0.91zM317.83 214.32h1.17v1.17h-1.17zM327.13 213.71h0.96v0.96h-0.96zM338.31 230.65h1.47v1.47h-1.47zM323.31 210.71h1.39v1.39h-1.39zM333.66 217.03h0.91v0.91h-0.91zM328.25 230.75h1.12v1.12h-1.12zM332.82 224.65h1.38v1.38h-1.38zM314.91 229.44h1.14v1.14h-1.14zM326.37 209.93h0.8v0.8h-0.8zM317.43 208.82h1.43v1.43h-1.43zM328.08 224.92h0.84v0.84h-0.84zM331.34 229.58h1.28v1.28h-1.28zM314.86 220.09h1.34v1.34h-1.34zM330.75 214.25h1.23v1.23h-1.23zM330 225.1h1.1v1.1h-1.1zM332.45 212.44h0.82v0.82h-0.82zM316.48 214.71h1.15v1.15h-1.15zM328.08 229.1h1.43v1.43h-1.43zM330.07 222h1.17v1.17h-1.17zM338.32 212.69h1.16v1.16h-1.16zM314.51 216.02h0.9v0.9h-0.9zM325.54 215.61h0.89v0.89h-0.89zM322.58 212.47h1v1h-1zM316.46 224.62h0.89v0.89h-0.89zM318.54 209.41h1.18v1.18h-1.18zM317.64 225.18h0.82v0.82h-0.82zM325.43 215.71h1.2v1.2h-1.2zM328.08 226.92h1.16v1.16h-1.16zM315.84 228.28h1.17v1.17h-1.17zM321.02 216.29h0.89v0.89h-0.89zM319.2 214.98h1.21v1.21h-1.21zM332.81 230.09h1.01v1.01h-1.01zM336.75 207.46h1.3v1.3h-1.3zM323.67 218.84h1.43v1.43h-1.43zM315.68 213.06h0.8v0.8h-0.8zM327.14 231.56h1.39v1.39h-1.39zM327.1 217.59h1.19v1.19h-1.19zM314.47 222.52h1.41v1.41h-1.41zM332.42 223.2h1.47v1.47h-1.47zM327.68 222.5h1.02v1.02h-1.02zM338.3 210.8h0.93v0.93h-0.93zM315.55 217.74h1.49v1.49h-1.49zM318.53 226.05h1.09v1.09h-1.09zM316.16 218.97h1.16v1.16h-1.16zM316.91 215.52h0.84v0.84h-0.84zM334.13 226.27h1.32v1.32h-1.32zM316.42 226.18h1.01v1.01h-1.01zM321.43 213.36h1.36v1.36h-1.36zM331.58 217.24h1v1h-1zM332.26 212.09h1.39v1.39h-1.39zM316.25 207.98h0.88v0.88h-0.88zM332.49 210.54h1.5v1.5h-1.5zM329.38 209.3h1.15v1.15h-1.15zM328.75 207.95h1.43v1.43h-1.43zM327.45 210.22h1.13v1.13h-1.13zM325.82 227.83h0.89v0.89h-0.89zM331.51 219.05h1.29v1.29h-1.29zM332.9 228.19h0.99v0.99h-0.99zM314.57 229.81h1.29v1.29h-1.29zM329.56 210.31h1.04v1.04h-1.04zM324.61 217.71h1.05v1.05h-1.05zM322.18 215.52h0.94v0.94h-0.94zM317.8 210.8h0.92v0.92h-0.92zM324.58 208.22h1.47v1.47h-1.47zM324.7 209.88h1.09v1.09h-1.09zM319.26 210.65h1.46v1.46h-1.46zM333.63 216.75h1.08v1.08h-1.08zM336.36 216.8h0.86v0.86h-0.86zM320.09 211.01h1.47v1.47h-1.47zM332.45 208.03h1.12v1.12h-1.12zM316.7 228.11h1.16v1.16h-1.16zM325.19 210.37h1.35v1.35h-1.35zM315.25 224.87h0.82v0.82h-0.82zM337.82 207.92h0.99v0.99h-0.99zM324.52 226.17h0.93v0.93h-0.93zM336.27 216.81h1.23v1.23h-1.23zM324.89 211.95h1.33v1.33h-1.33zM323.76 216.57h0.96v0.96h-0.96zM330.29 211.58h1.42v1.42h-1.42zM319.17 207.73h0.81v0.81h-0.81zM326.95 223.93h1.08v1.08h-1.08zM336.46 219.41h1.41v1.41h-1.41zM325.22 219.11h1.14v1.14h-1.14zM329.48 208.83h1.17v1.17h-1.17zM330.95 207.13h1.3v1.3h-1.3zM326.09 211.23h1.31v1.31h-1.31zM314.87 224.35h1.19v1.19h-1.19zM319.15 218.81h1.09v1.09h-1.09zM315.21 213.73h1.36v1.36h-1.36zM326.98 210.51h0.91v0.91h-0.91zM334.23 231.13h0.92v0.92h-0.92zM315.82 211.02h1.13v1.13h-1.13zM318.92 231.63h0.8v0.8h-0.8zM331.63 208.5h1.35v1.35h-1.35zM315.77 221.68h1.07v1.07h-1.07zM331.14 211.6h1.44v1.44h-1.44zM331.99 216.35h0.94v0.94h-0.94zM338.48 218.07h1.36v1.36h-1.36zM322.18 218h1.22v1.22h-1.22zM332.85 228.87h1.39v1.39h-1.39zM328.28 230.24h1.29v1.29h-1.29zM333.44 224.24h1.15v1.15h-1.15zM324.64 227.11h1.08v1.08h-1.08zM324.25 226.25h1v1h-1zM332.95 206.96h1.33v1.33h-1.33zM325.32 224.63h1.36v1.36h-1.36zM318.7 207.31h1.34v1.34h-1.34zM337.5 220.8h1.22v1.22h-1.22zM336.35 224.43h1.43v1.43h-1.43zM330.29 229.81h0.89v0.89h-0.89zM322.22 231.39h0.81v0.81h-0.81zM323.91 209.31h0.82v0.82h-0.82zM322.18 207.51h1.39v1.39h-1.39zM316.04 230.23h0.86v0.86h-0.86zM332.79 226.07h1.49v1.49h-1.49zM332.34 218.95h1.2v1.2h-1.2zM328.18 206.82h1.16v1.16h-1.16zM314.64 222.26h1.19v1.19h-1.19zM337.6 208.79h1.08v1.08h-1.08zM324.14 229.19h0.86v0.86h-0.86zM319.29 215.32h0.88v0.88h-0.88zM317.95 216.5h1v1h-1zM326.25 225.41h1.27v1.27h-1.27zM334.03 219.22h0.87v0.87h-0.87zM327.23 214.35h0.85v0.85h-0.85zM325.16 211.74h0.81v0.81h-0.81zM315.35 219.81h1.13v1.13h-1.13zM321.63 222.83h1.22v1.22h-1.22zM330.96 214.88h1.01v1.01h-1.01zM325.65 223.02h1.17v1.17h-1.17zM315.12 214.1h1.35v1.35h-1.35zM333.82 206.82h1.1v1.1h-1.1zM330.81 217.35h1.06v1.06h-1.06zM318.25 215.92h1.42v1.42h-1.42zM323.52 214.28h1.31v1.31h-1.31zM325.86 207.37h1.02v1.02h-1.02zM318.3 212.96h1v1h-1zM333.48 221.65h1.08v1.08h-1.08zM326.82 213.97h0.81v0.81h-0.81zM336.46 225.69h0.98v0.98h-0.98zM336.58 220.55h1.31v1.31h-1.31zM317.56 217.22h1.08v1.08h-1.08zM334.01 214.66h0.98v0.98h-0.98zM331.03 213.89h0.96v0.96h-0.96zM324.76 218.85h0.97v0.97h-0.97zM315.82 209.73h0.95v0.95h-0.95zM330.67 231.04h1.04v1.04h-1.04zM320.22 221.61h1.02v1.02h-1.02zM316.12 214.99h1.09v1.09h-1.09zM330.91 216.49h0.85v0.85h-0.85zM327.99 219.5h0.98v0.98h-0.98zM333.2 216.18h1.18v1.18h-1.18zM327.11 229.54h0.85v0.85h-0.85zM330.14 224.67h0.81v0.81h-0.81zM322.28 217.24h1.42v1.42h-1.42zM332.32 216.48h0.91v0.91h-0.91zM330.09 230.67h1.3v1.3h-1.3zM323.87 222.59h1.15v1.15h-1.15zM328.95 211.96h1.27v1.27h-1.27zM329.57 217.05h1.27v1.27h-1.27z" fill="#4a2aa0" opacity="0.8" filter="url(#nb)"/>
<circle cx="335.73" cy="217.26" r="0.29" fill="#ecdcf2" opacity="0.85"/>
<circle cx="321.13" cy="224.63" r="0.27" fill="#ecdcf2" opacity="0.85"/>
<circle cx="334.73" cy="227.86" r="0.4" fill="#ecdcf2" opacity="0.85"/>
<circle cx="321.23" cy="211.67" r="0.45" fill="#ecdcf2" opacity="0.85"/>
<circle cx="332.21" cy="228.98" r="0.48" fill="#ecdcf2" opacity="0.85"/>
<circle cx="334.65" cy="208.2" r="0.52" fill="#ecdcf2" opacity="0.85"/>
<circle cx="333.1" cy="231.47" r="0.47" fill="#ecdcf2" opacity="0.85"/>
<circle cx="335.7" cy="229.7" r="0.52" fill="#ecdcf2" opacity="0.85"/>
<circle cx="335.63" cy="216.31" r="0.4" fill="#ecdcf2" opacity="0.85"/>
<circle cx="318.84" cy="216.67" r="0.38" fill="#ecdcf2" opacity="0.85"/>
<circle cx="338.54" cy="209.58" r="0.53" fill="#ecdcf2" opacity="0.85"/>
<circle cx="338.18" cy="231.71" r="0.48" fill="#ecdcf2" opacity="0.85"/>
</g>
<clipPath id="tc10"><rect x="338.9" y="207.1" width="24.5" height="25.2"/></clipPath><g clip-path="url(#tc10)">
<rect x="338.9" y="207.1" width="24.5" height="25.2" fill="#b488ce"/>
<ellipse cx="341.52" cy="224.81" rx="3.85" ry="1.26" fill="#4a2aa0" opacity="0.2" transform="rotate(18 341.52 224.81)"/>
<ellipse cx="355.03" cy="214.74" rx="2.49" ry="2.12" fill="#4a2aa0" opacity="0.17" transform="rotate(57 355.03 214.74)"/>
<ellipse cx="360.23" cy="215.05" rx="2.4" ry="1.88" fill="#4a2aa0" opacity="0.25" transform="rotate(41 360.23 215.05)"/>
<ellipse cx="352.41" cy="223.83" rx="3.13" ry="1.01" fill="#f0c8e8" opacity="0.22" transform="rotate(21 352.41 223.83)"/>
<ellipse cx="345.61" cy="228.62" rx="2.96" ry="2.39" fill="#f0c8e8" opacity="0.33" transform="rotate(24 345.61 228.62)"/>
<ellipse cx="360.28" cy="224.41" rx="2.97" ry="1.88" fill="#f0c8e8" opacity="0.19" transform="rotate(24 360.28 224.41)"/>
<ellipse cx="357.2" cy="219.36" rx="2.18" ry="1.86" fill="#4a2aa0" opacity="0.25" transform="rotate(72 357.2 219.36)"/>
<ellipse cx="351.16" cy="209.68" rx="1.72" ry="1.28" fill="#4a2aa0" opacity="0.16" transform="rotate(105 351.16 209.68)"/>
<ellipse cx="341.69" cy="220.35" rx="2.7" ry="1.97" fill="#f0c8e8" opacity="0.26" transform="rotate(116 341.69 220.35)"/>
<ellipse cx="346.48" cy="218.69" rx="3.57" ry="1.24" fill="#f0c8e8" opacity="0.23" transform="rotate(115 346.48 218.69)"/>
<ellipse cx="360.1" cy="230.76" rx="1.86" ry="2" fill="#f0c8e8" opacity="0.26" transform="rotate(4 360.1 230.76)"/>
<ellipse cx="359.12" cy="217.32" rx="1.55" ry="2.01" fill="#4a2aa0" opacity="0.22" transform="rotate(120 359.12 217.32)"/>
<ellipse cx="345.36" cy="214.72" rx="3.07" ry="1.6" fill="#f0c8e8" opacity="0.2" transform="rotate(99 345.36 214.72)"/>
<ellipse cx="341.3" cy="211.95" rx="1.5" ry="1.66" fill="#f0c8e8" opacity="0.25" transform="rotate(91 341.3 211.95)"/>
<path d="M362.65 209.64h1.47v1.47h-1.47zM357.43 206.84h0.98v0.98h-0.98zM350.77 211.36h0.95v0.95h-0.95zM355.13 215.1h1.3v1.3h-1.3zM360.36 207.59h1.45v1.45h-1.45zM356.61 226.48h0.91v0.91h-0.91zM354.26 211.73h1.14v1.14h-1.14zM344.55 216.5h1.19v1.19h-1.19zM360.71 219h1.47v1.47h-1.47zM339.37 222.88h1.1v1.1h-1.1zM357.4 209.04h1.37v1.37h-1.37zM341.76 208.16h1.45v1.45h-1.45zM343.74 218.98h0.89v0.89h-0.89zM360.4 208.07h0.87v0.87h-0.87zM355.7 220.33h1.09v1.09h-1.09zM349.41 209.05h1.37v1.37h-1.37zM342.78 207.23h1.44v1.44h-1.44zM362.45 228.3h1.37v1.37h-1.37zM362.77 221.69h1.38v1.38h-1.38zM355.69 221.25h1.13v1.13h-1.13zM361.91 214.87h0.85v0.85h-0.85zM347.48 231.67h1.25v1.25h-1.25zM354.35 227.38h1.44v1.44h-1.44zM340.27 227.79h0.88v0.88h-0.88zM339.85 222.93h0.92v0.92h-0.92zM338.6 223.72h0.83v0.83h-0.83zM362.51 228.96h0.9v0.9h-0.9zM360.07 218.52h1.41v1.41h-1.41zM356.05 207.3h0.86v0.86h-0.86zM345.2 213.85h1.22v1.22h-1.22zM350.95 220.51h1.36v1.36h-1.36zM356.21 206.99h1.05v1.05h-1.05zM341.31 209.89h1.07v1.07h-1.07zM345.73 224.91h1.03v1.03h-1.03zM344.73 213.85h1.2v1.2h-1.2zM357.28 214.57h0.95v0.95h-0.95zM352.8 229.27h0.82v0.82h-0.82zM354.3 231.78h1.04v1.04h-1.04zM347.95 221.84h0.98v0.98h-0.98zM357.15 231.21h1.48v1.48h-1.48zM357.6 216.22h1.3v1.3h-1.3zM344.54 227.15h1.48v1.48h-1.48zM357.07 227.49h0.94v0.94h-0.94zM359.25 208.67h1.35v1.35h-1.35zM349.62 223.35h0.84v0.84h-0.84zM343.21 227.1h1.22v1.22h-1.22zM345.48 231.67h1.12v1.12h-1.12zM360.46 208.51h0.85v0.85h-0.85zM356.05 224.75h1.12v1.12h-1.12zM343.52 209.48h1.05v1.05h-1.05zM343.9 223.84h1.03v1.03h-1.03zM351.58 231.3h0.83v0.83h-0.83zM353.42 218.32h1.43v1.43h-1.43zM358.52 218.69h1.01v1.01h-1.01zM339.76 208.19h0.82v0.82h-0.82zM346.05 215.93h1.01v1.01h-1.01zM354.9 225.28h0.89v0.89h-0.89zM362.88 212.03h1.34v1.34h-1.34zM362.83 228.7h0.96v0.96h-0.96zM359.59 228.02h1.21v1.21h-1.21zM358.61 227.11h0.92v0.92h-0.92zM344.59 228.38h1.24v1.24h-1.24zM346.75 219.85h1.48v1.48h-1.48zM341.28 207.8h1.41v1.41h-1.41zM345.22 214.31h1.37v1.37h-1.37zM343.45 219.6h1.32v1.32h-1.32zM361.26 213.83h1.11v1.11h-1.11zM347.98 209.62h1.49v1.49h-1.49zM353.27 227.06h1.29v1.29h-1.29zM351.85 230.16h0.84v0.84h-0.84zM351.8 220.36h1.49v1.49h-1.49zM352.89 211.67h0.86v0.86h-0.86zM347.44 231.45h1.13v1.13h-1.13zM341.49 226.05h1.47v1.47h-1.47zM359.79 221.35h0.96v0.96h-0.96zM361.68 210.14h1.19v1.19h-1.19zM346.3 219.59h1.25v1.25h-1.25zM360.18 228.76h0.89v0.89h-0.89zM350.88 228h0.92v0.92h-0.92zM350.36 224.74h0.87v0.87h-0.87zM347.21 220.19h1.02v1.02h-1.02zM356.85 220.18h0.94v0.94h-0.94zM351.73 215.63h1.29v1.29h-1.29zM361.3 210.94h1v1h-1zM339.81 225.61h0.85v0.85h-0.85zM353.84 218.84h0.93v0.93h-0.93zM359.97 228.85h1.42v1.42h-1.42zM349.18 225.93h1.19v1.19h-1.19zM356.95 217.34h1.3v1.3h-1.3zM358.18 212.21h1.29v1.29h-1.29zM354.49 213.16h1.16v1.16h-1.16zM340.05 210.39h1.07v1.07h-1.07zM341.34 212.52h0.94v0.94h-0.94zM354.96 226.12h0.82v0.82h-0.82zM345.3 212.83h1.03v1.03h-1.03zM341.88 208.1h0.99v0.99h-0.99zM342.99 220.54h1.37v1.37h-1.37zM354.03 213.64h1.14v1.14h-1.14zM357.24 225.45h1.15v1.15h-1.15zM342.27 212.05h1.31v1.31h-1.31zM344.92 230.66h1.48v1.48h-1.48zM343.46 221.38h1.26v1.26h-1.26zM361.01 219.14h1.08v1.08h-1.08zM350.22 220.1h1.49v1.49h-1.49zM346.35 220.33h1.39v1.39h-1.39zM340.29 223.19h1.49v1.49h-1.49zM340.14 210.83h0.93v0.93h-0.93zM344.71 219.18h1.3v1.3h-1.3zM357.1 206.89h1.2v1.2h-1.2zM359.3 208.74h0.87v0.87h-0.87zM353.24 211.98h1.26v1.26h-1.26zM351.24 230.58h1.36v1.36h-1.36zM360.19 217.33h1.36v1.36h-1.36zM346.63 216.36h1.2v1.2h-1.2zM355.75 213.43h1v1h-1zM343.1 209.97h1.49v1.49h-1.49zM341.56 227.19h1.45v1.45h-1.45zM354.37 218.97h0.84v0.84h-0.84zM350.04 207.36h0.9v0.9h-0.9zM354.17 225.77h0.92v0.92h-0.92zM343.47 224.1h1.07v1.07h-1.07zM343.71 210h1.38v1.38h-1.38zM346.57 208.4h1.48v1.48h-1.48zM361.03 207.26h1.31v1.31h-1.31zM352.15 226.08h1.33v1.33h-1.33zM352.23 210.51h0.84v0.84h-0.84zM346.72 221.98h1.09v1.09h-1.09zM348.68 222.09h1.24v1.24h-1.24zM350.27 229.34h0.84v0.84h-0.84zM362.02 224.62h0.93v0.93h-0.93zM353.09 226.94h0.89v0.89h-0.89zM345.91 207.3h1.18v1.18h-1.18zM343.27 218.48h1.26v1.26h-1.26zM343.09 213.89h0.99v0.99h-0.99zM361.55 218.67h0.94v0.94h-0.94zM350.41 225.49h0.95v0.95h-0.95zM343.11 222.3h0.96v0.96h-0.96zM362.55 210.81h0.86v0.86h-0.86zM348.06 219.17h0.93v0.93h-0.93zM352.85 217.58h1.25v1.25h-1.25zM360.44 213.89h1.34v1.34h-1.34zM346.95 208.06h0.83v0.83h-0.83zM351.52 226.51h0.97v0.97h-0.97zM351.91 229.7h1.03v1.03h-1.03zM351.48 226.72h0.91v0.91h-0.91zM346.75 218.94h1.31v1.31h-1.31zM352.52 215.05h0.93v0.93h-0.93zM341.8 231.54h1.43v1.43h-1.43zM348.31 211.71h0.89v0.89h-0.89zM360.57 215.69h0.85v0.85h-0.85zM346.11 219.38h0.99v0.99h-0.99zM354.89 213.96h1.11v1.11h-1.11zM339.64 225.34h1.22v1.22h-1.22zM349.43 216.55h0.88v0.88h-0.88zM348.07 209.76h1.03v1.03h-1.03zM345.74 225.49h1.02v1.02h-1.02zM358.61 227.61h1.03v1.03h-1.03zM355.72 229.84h0.84v0.84h-0.84zM352.07 220.61h1.46v1.46h-1.46zM360.95 215.35h1.47v1.47h-1.47zM361.07 214.47h1.27v1.27h-1.27zM340.75 218.02h1.47v1.47h-1.47zM345.2 214.29h1.46v1.46h-1.46zM347.86 228.31h1.3v1.3h-1.3zM342.04 208.94h1.22v1.22h-1.22zM360.15 228.62h1.45v1.45h-1.45zM356.89 221.87h1.46v1.46h-1.46zM355.87 227.06h1.08v1.08h-1.08zM348.03 214.62h0.87v0.87h-0.87zM361.34 219.31h1.02v1.02h-1.02zM344.27 231.22h1.43v1.43h-1.43zM349.48 229.98h1.31v1.31h-1.31zM356.15 223.3h1.33v1.33h-1.33zM359.41 225.88h1.23v1.23h-1.23zM346.18 217.54h1.47v1.47h-1.47zM345.3 213.37h1.38v1.38h-1.38zM348.19 214.19h1.34v1.34h-1.34zM349.63 225.1h1.5v1.5h-1.5zM352.13 218h0.93v0.93h-0.93zM360.42 228.79h1v1h-1zM362.16 219.44h0.82v0.82h-0.82zM357.24 230.86h0.92v0.92h-0.92zM361.55 229.88h1.4v1.4h-1.4zM352.96 231.27h1.37v1.37h-1.37zM351.95 218.91h0.95v0.95h-0.95zM342.68 228.57h0.83v0.83h-0.83zM359.79 209.94h0.82v0.82h-0.82zM358.25 217.11h1.2v1.2h-1.2zM342.72 219.16h0.92v0.92h-0.92zM353.17 214.64h1.33v1.33h-1.33zM342.54 229.2h0.99v0.99h-0.99zM345.01 219.57h0.96v0.96h-0.96zM359.13 225.86h0.98v0.98h-0.98zM351.18 223.29h1.15v1.15h-1.15zM339.52 217.79h1.39v1.39h-1.39zM345.49 221.76h1.29v1.29h-1.29zM362.54 223.38h1.44v1.44h-1.44zM358.15 219.04h1.25v1.25h-1.25zM359.14 224.81h0.94v0.94h-0.94zM347.64 229.25h1.46v1.46h-1.46zM338.9 214.86h1.08v1.08h-1.08zM352.99 214.17h1.1v1.1h-1.1zM359.58 206.95h1.07v1.07h-1.07zM340.06 212.87h1.18v1.18h-1.18zM362.5 221.2h0.99v0.99h-0.99zM342.17 209.89h1.27v1.27h-1.27zM352.03 214.87h0.96v0.96h-0.96zM345.78 229.78h0.91v0.91h-0.91zM348.69 226.2h1.18v1.18h-1.18zM349.61 214.12h1.42v1.42h-1.42z" fill="#4a2aa0" opacity="0.8" filter="url(#nb)"/>
<circle cx="352.94" cy="223.71" r="0.43" fill="#ecdcf2" opacity="0.85"/>
<circle cx="352.32" cy="229.23" r="0.29" fill="#ecdcf2" opacity="0.85"/>
<circle cx="339.62" cy="226.98" r="0.36" fill="#ecdcf2" opacity="0.85"/>
<circle cx="356.53" cy="208.38" r="0.3" fill="#ecdcf2" opacity="0.85"/>
<circle cx="357.17" cy="227.64" r="0.42" fill="#ecdcf2" opacity="0.85"/>
<circle cx="353.24" cy="229.6" r="0.38" fill="#ecdcf2" opacity="0.85"/>
<circle cx="353.2" cy="228" r="0.45" fill="#ecdcf2" opacity="0.85"/>
<circle cx="340.03" cy="229.73" r="0.45" fill="#ecdcf2" opacity="0.85"/>
<circle cx="347.77" cy="213.16" r="0.52" fill="#ecdcf2" opacity="0.85"/>
<circle cx="354.35" cy="229.7" r="0.34" fill="#ecdcf2" opacity="0.85"/>
</g>
<path d="M265.8 207.1V232.3M290.2 207.1V232.3M314.5 207.1V232.3M338.9 207.1V232.3" stroke="#222" stroke-width="0.8"/>
<rect x="241.4" y="207.1" width="122" height="25.2" fill="none" stroke="#222" stroke-width="0.9"/>
<clipPath id="tc11"><rect x="241.4" y="237.3" width="24.5" height="25.5"/></clipPath><g clip-path="url(#tc11)">
<rect x="241.4" y="237.3" width="24.5" height="25.5" fill="#d590cc"/>
<ellipse cx="263.59" cy="254.8" rx="3.76" ry="1.24" fill="#5030a0" opacity="0.28" transform="rotate(25 263.59 254.8)"/>
<ellipse cx="262.77" cy="251.91" rx="2.53" ry="2.49" fill="#f0c8e8" opacity="0.17" transform="rotate(81 262.77 251.91)"/>
<ellipse cx="253.02" cy="252.11" rx="2" ry="1.86" fill="#f0c8e8" opacity="0.29" transform="rotate(84 253.02 252.11)"/>
<ellipse cx="251.87" cy="253.31" rx="2.73" ry="0.94" fill="#5030a0" opacity="0.26" transform="rotate(8 251.87 253.31)"/>
<ellipse cx="246.34" cy="239.44" rx="3.41" ry="1.32" fill="#f0c8e8" opacity="0.2" transform="rotate(159 246.34 239.44)"/>
<ellipse cx="244.28" cy="237.9" rx="3.65" ry="1.17" fill="#5030a0" opacity="0.2" transform="rotate(3 244.28 237.9)"/>
<ellipse cx="260.98" cy="253.05" rx="3.24" ry="1.37" fill="#f0c8e8" opacity="0.29" transform="rotate(39 260.98 253.05)"/>
<ellipse cx="264" cy="244.28" rx="1.89" ry="1.49" fill="#5030a0" opacity="0.29" transform="rotate(30 264 244.28)"/>
<ellipse cx="258.3" cy="262.7" rx="2.36" ry="1" fill="#5030a0" opacity="0.27" transform="rotate(132 258.3 262.7)"/>
<ellipse cx="246.14" cy="241.69" rx="1.7" ry="2.13" fill="#f0c8e8" opacity="0.21" transform="rotate(166 246.14 241.69)"/>
<ellipse cx="260.96" cy="254.44" rx="2.64" ry="2.09" fill="#f0c8e8" opacity="0.3" transform="rotate(170 260.96 254.44)"/>
<ellipse cx="245.42" cy="261.22" rx="1.53" ry="1.78" fill="#5030a0" opacity="0.17" transform="rotate(85 245.42 261.22)"/>
<ellipse cx="247.7" cy="239.49" rx="2.25" ry="0.88" fill="#5030a0" opacity="0.16" transform="rotate(56 247.7 239.49)"/>
<ellipse cx="253.97" cy="255.17" rx="3.81" ry="2.07" fill="#f0c8e8" opacity="0.33" transform="rotate(79 253.97 255.17)"/>
<path d="M262.36 247.6h0.88v0.88h-0.88zM243.5 243.07h1.4v1.4h-1.4zM243.46 240.17h1.07v1.07h-1.07zM244.49 239.09h1.14v1.14h-1.14zM245.44 257.59h1.02v1.02h-1.02zM264 239.4h1.38v1.38h-1.38zM246.13 252.76h0.9v0.9h-0.9zM258.73 237.12h0.84v0.84h-0.84zM250.52 255.61h1v1h-1zM264.91 259.81h1.37v1.37h-1.37zM242.72 248.87h1.47v1.47h-1.47zM241.34 255.51h0.85v0.85h-0.85zM259.35 252.75h1.04v1.04h-1.04zM241.48 244.02h1.23v1.23h-1.23zM264.58 237.06h1.49v1.49h-1.49zM246.23 242.24h1.46v1.46h-1.46zM257.83 238.98h1.39v1.39h-1.39zM260.29 248.2h1.37v1.37h-1.37zM244.45 252.76h1.43v1.43h-1.43zM254.77 246.97h0.8v0.8h-0.8zM260.03 248.61h1.21v1.21h-1.21zM253.06 242.82h0.94v0.94h-0.94zM252.05 259.46h1.07v1.07h-1.07zM256.25 245.81h1.48v1.48h-1.48zM259.29 246.29h1.33v1.33h-1.33zM252.69 250.71h1.01v1.01h-1.01zM258.8 240.54h1.05v1.05h-1.05zM253.99 237.48h1.1v1.1h-1.1zM252.01 260.37h1.49v1.49h-1.49zM257.88 258.27h1.44v1.44h-1.44zM253.39 253.42h1.49v1.49h-1.49zM256.18 256.52h1.26v1.26h-1.26zM247.63 255.69h1.13v1.13h-1.13zM258.98 242.97h0.89v0.89h-0.89zM261.82 245.29h1.43v1.43h-1.43zM263.04 240.58h1.32v1.32h-1.32zM258.61 254.37h1.44v1.44h-1.44zM244.09 243.78h0.83v0.83h-0.83zM245.7 246.89h1.18v1.18h-1.18zM258.22 257.56h1.24v1.24h-1.24zM263.89 240.45h0.99v0.99h-0.99zM241.71 253.9h0.85v0.85h-0.85zM260.05 245.59h0.97v0.97h-0.97zM260.02 245.04h0.9v0.9h-0.9zM247.4 240.35h1.5v1.5h-1.5zM253.14 249.75h1.13v1.13h-1.13zM250.61 259.02h1.32v1.32h-1.32zM243.42 259.83h1.37v1.37h-1.37zM248.65 250.91h1.46v1.46h-1.46zM245.26 248.21h1.43v1.43h-1.43zM253.7 258.09h0.92v0.92h-0.92zM245.99 239.98h1.11v1.11h-1.11zM252.47 258.54h1.4v1.4h-1.4zM248.55 250.53h1.36v1.36h-1.36zM258.62 257.94h0.94v0.94h-0.94zM248.52 261.99h1.15v1.15h-1.15zM265.25 258.6h0.87v0.87h-0.87zM253.7 255.93h1.48v1.48h-1.48zM254.72 246.41h1v1h-1zM241.36 257.31h0.9v0.9h-0.9zM253.54 259.05h1.31v1.31h-1.31zM253.5 241.52h1.38v1.38h-1.38zM253.78 239.94h1v1h-1zM251.25 259.97h1.17v1.17h-1.17zM255.75 259.59h1.11v1.11h-1.11zM251 255.12h1.3v1.3h-1.3zM245.36 241.39h1.36v1.36h-1.36zM253.16 252.14h1.32v1.32h-1.32zM248.35 243.15h0.99v0.99h-0.99zM246.76 239.38h1.28v1.28h-1.28zM255.49 247.92h1.35v1.35h-1.35zM254.27 241.23h0.84v0.84h-0.84zM243.25 237.63h0.82v0.82h-0.82zM247.3 246.06h1.45v1.45h-1.45zM264.69 247.18h1.44v1.44h-1.44zM262.1 254.18h1.27v1.27h-1.27zM249.93 238.56h1.32v1.32h-1.32zM261.73 240.99h1.25v1.25h-1.25zM258.93 247.65h0.83v0.83h-0.83zM255.72 242.51h1.18v1.18h-1.18zM264.18 257.34h0.87v0.87h-0.87zM259.64 258.72h1.43v1.43h-1.43zM261.95 256.67h1.17v1.17h-1.17zM249.08 248.27h0.9v0.9h-0.9zM256.53 255.81h1.4v1.4h-1.4zM245.65 242.13h0.96v0.96h-0.96zM241.11 238.32h0.96v0.96h-0.96zM251.46 249.82h1.23v1.23h-1.23zM257.37 252.44h1.25v1.25h-1.25zM255.67 261.03h1.02v1.02h-1.02zM263.84 238.35h1.4v1.4h-1.4zM253.47 250.32h0.92v0.92h-0.92zM244.7 250.87h1.38v1.38h-1.38zM244.17 259.37h1.5v1.5h-1.5zM248.18 239.54h1.19v1.19h-1.19zM263.13 257.61h0.94v0.94h-0.94zM243.16 240.91h1.47v1.47h-1.47zM244.89 256.01h1.05v1.05h-1.05zM248.58 261.18h1.39v1.39h-1.39zM247.43 237.67h0.8v0.8h-0.8zM260.18 254.79h1.37v1.37h-1.37zM260.12 238.31h1.49v1.49h-1.49zM243.16 249.89h1.02v1.02h-1.02zM247.91 252.79h1v1h-1zM260.86 253.26h1.48v1.48h-1.48zM262.13 238.79h1.42v1.42h-1.42zM259.6 243.55h0.81v0.81h-0.81zM259.99 254.28h1.21v1.21h-1.21zM242.74 261.26h1.37v1.37h-1.37zM258.57 249.51h0.87v0.87h-0.87zM253.64 255.55h1.28v1.28h-1.28zM263.25 262.15h1.26v1.26h-1.26zM241.94 252.78h1.12v1.12h-1.12zM249.56 251.18h1.3v1.3h-1.3zM261.17 255.11h0.97v0.97h-0.97zM261.14 251.65h1.39v1.39h-1.39zM253.24 259.82h1.37v1.37h-1.37zM260.68 257.45h1.26v1.26h-1.26zM243.11 259.77h1.21v1.21h-1.21zM256.25 251.16h1.36v1.36h-1.36zM255.79 251.33h0.94v0.94h-0.94zM248.07 240.31h1.04v1.04h-1.04zM255.19 255.76h1.43v1.43h-1.43zM252.18 255.57h1.11v1.11h-1.11zM241.14 244.57h0.88v0.88h-0.88zM259.02 258.6h1.34v1.34h-1.34zM244.68 251.75h1.38v1.38h-1.38zM255.02 261.9h0.92v0.92h-0.92zM262.12 259.1h0.98v0.98h-0.98zM253.72 256.63h0.81v0.81h-0.81zM259.46 241.75h1.13v1.13h-1.13zM264 243.91h1.49v1.49h-1.49zM242.53 261.24h1v1h-1zM264.88 245.39h0.97v0.97h-0.97zM253.04 253.98h1.44v1.44h-1.44zM246.07 259.43h1.47v1.47h-1.47zM253.2 258.05h1.03v1.03h-1.03zM252.19 250.58h1.08v1.08h-1.08zM242.67 256.1h1.13v1.13h-1.13zM254.86 255.77h0.83v0.83h-0.83zM258.51 237.06h1.16v1.16h-1.16zM242.09 240h1.35v1.35h-1.35zM241.5 260.37h0.85v0.85h-0.85zM246.54 250.25h1.18v1.18h-1.18zM246.04 253.22h1.19v1.19h-1.19zM247.86 244.93h1.29v1.29h-1.29zM262.4 238.22h1.47v1.47h-1.47zM254.23 255.8h1.17v1.17h-1.17zM257.91 245.58h1.03v1.03h-1.03zM250.1 261.51h1.24v1.24h-1.24z" fill="#5030a0" opacity="0.8" filter="url(#nb)"/>
<path d="M243.85 239.85L253.65 250.05L258.55 261.53" stroke="#f0b8e4" stroke-width="2.0" fill="none" stroke-linecap="round" opacity="0.8" filter="url(#nb)"/>
</g>
<clipPath id="tc12"><rect x="265.8" y="237.3" width="24.5" height="25.5"/></clipPath><g clip-path="url(#tc12)">
<rect x="265.8" y="237.3" width="24.5" height="25.5" fill="#d894cc"/>
<ellipse cx="269.84" cy="254.89" rx="2.7" ry="1.17" fill="#5030a0" opacity="0.31" transform="rotate(131 269.84 254.89)"/>
<ellipse cx="270.3" cy="250.75" rx="1.54" ry="2.39" fill="#5030a0" opacity="0.24" transform="rotate(37 270.3 250.75)"/>
<ellipse cx="285.25" cy="243.22" rx="1.61" ry="2.5" fill="#f0c8e8" opacity="0.3" transform="rotate(104 285.25 243.22)"/>
<ellipse cx="280.89" cy="238.17" rx="2.74" ry="1" fill="#f0c8e8" opacity="0.34" transform="rotate(94 280.89 238.17)"/>
<ellipse cx="266.37" cy="256.2" rx="3.52" ry="0.83" fill="#f0c8e8" opacity="0.18" transform="rotate(87 266.37 256.2)"/>
<ellipse cx="275.63" cy="241.15" rx="2.67" ry="2.19" fill="#5030a0" opacity="0.16" transform="rotate(50 275.63 241.15)"/>
<ellipse cx="270.91" cy="262" rx="3.39" ry="2.1" fill="#5030a0" opacity="0.27" transform="rotate(18 270.91 262)"/>
<ellipse cx="268.8" cy="249.45" rx="2" ry="2.37" fill="#5030a0" opacity="0.33" transform="rotate(104 268.8 249.45)"/>
<ellipse cx="272.95" cy="261.64" rx="2.29" ry="1.62" fill="#5030a0" opacity="0.2" transform="rotate(23 272.95 261.64)"/>
<ellipse cx="269.69" cy="255.56" rx="1.51" ry="0.92" fill="#5030a0" opacity="0.27" transform="rotate(133 269.69 255.56)"/>
<ellipse cx="271.24" cy="252.83" rx="3.06" ry="1.11" fill="#5030a0" opacity="0.18" transform="rotate(89 271.24 252.83)"/>
<ellipse cx="286.22" cy="245.78" rx="3.82" ry="1.22" fill="#5030a0" opacity="0.18" transform="rotate(44 286.22 245.78)"/>
<ellipse cx="284.84" cy="246.86" rx="3.19" ry="2.33" fill="#5030a0" opacity="0.34" transform="rotate(104 284.84 246.86)"/>
<ellipse cx="288.29" cy="241.46" rx="1.54" ry="1.39" fill="#5030a0" opacity="0.25" transform="rotate(170 288.29 241.46)"/>
<path d="M271.51 259.17h0.91v0.91h-0.91zM267.18 257.37h1.34v1.34h-1.34zM277.24 258.18h0.84v0.84h-0.84zM271.77 244.33h1.09v1.09h-1.09zM269.65 238.76h1.04v1.04h-1.04zM287.35 261.88h1.32v1.32h-1.32zM277.14 243.38h1.47v1.47h-1.47zM278.27 255.43h0.82v0.82h-0.82zM270.65 258.21h1.36v1.36h-1.36zM286.92 252.21h1.1v1.1h-1.1zM279.62 258.49h1.02v1.02h-1.02zM278.48 243.98h1.34v1.34h-1.34zM265.75 254.34h1.47v1.47h-1.47zM266.07 252.02h1.25v1.25h-1.25zM286.2 251.78h0.98v0.98h-0.98zM275.36 261.26h1.43v1.43h-1.43zM268.74 239.4h0.87v0.87h-0.87zM266.12 248.31h0.9v0.9h-0.9zM286.58 253.58h0.89v0.89h-0.89zM278.59 245.2h1.15v1.15h-1.15zM270.84 241.2h0.93v0.93h-0.93zM274.68 254.96h1.19v1.19h-1.19zM266.62 254.99h1.41v1.41h-1.41zM284.31 257.01h0.81v0.81h-0.81zM276.77 238.61h1.33v1.33h-1.33zM269.76 255h0.98v0.98h-0.98zM282.43 244.93h0.83v0.83h-0.83zM274.95 244.83h1.43v1.43h-1.43zM272.67 249.73h1.18v1.18h-1.18zM288.54 239.49h1.22v1.22h-1.22zM277.85 255.58h1.48v1.48h-1.48zM273.04 254.7h1.17v1.17h-1.17zM279.12 238.61h1.37v1.37h-1.37zM289.24 245.99h1.02v1.02h-1.02zM289.64 239.72h0.85v0.85h-0.85zM267.28 257.6h1.33v1.33h-1.33zM276.39 252.72h0.81v0.81h-0.81zM281.16 248.2h1.16v1.16h-1.16zM274.96 247.16h0.96v0.96h-0.96zM266.69 247.98h0.97v0.97h-0.97zM282.61 257.68h1.31v1.31h-1.31zM276.58 242.98h1.07v1.07h-1.07zM277.33 252.99h1.47v1.47h-1.47zM267.58 249.14h1.14v1.14h-1.14zM282.93 259.53h1.35v1.35h-1.35zM280.73 256.19h1.27v1.27h-1.27zM286.37 254.69h1.28v1.28h-1.28zM271.46 260.19h1.07v1.07h-1.07zM280.44 257.87h1.47v1.47h-1.47zM289.54 237.16h1.02v1.02h-1.02zM273.08 246.9h0.9v0.9h-0.9zM278.94 239.01h1.01v1.01h-1.01zM288.43 255.78h1.12v1.12h-1.12zM268.13 261.19h1.29v1.29h-1.29zM270.5 245.48h1.25v1.25h-1.25zM282.06 243.6h1.47v1.47h-1.47zM273.33 243.43h1.39v1.39h-1.39zM269.23 254.23h0.94v0.94h-0.94zM280.03 244.02h1.07v1.07h-1.07zM288.36 248.81h1.11v1.11h-1.11zM280.5 244.1h0.92v0.92h-0.92zM274.85 243.89h0.93v0.93h-0.93zM288.85 237.87h1.37v1.37h-1.37zM288.21 254.83h0.81v0.81h-0.81zM277.68 237.99h1.23v1.23h-1.23zM282.52 243.08h0.81v0.81h-0.81zM278.73 239.39h1.02v1.02h-1.02zM276.53 259.63h1.06v1.06h-1.06zM268.78 257.03h1.38v1.38h-1.38zM278.36 238.24h0.93v0.93h-0.93zM275.29 250.96h0.96v0.96h-0.96zM285 258.34h1.45v1.45h-1.45zM286.97 237.45h1.21v1.21h-1.21zM267.45 259.76h1.32v1.32h-1.32zM283.95 241.76h0.84v0.84h-0.84zM285.31 252.34h1.23v1.23h-1.23zM276.95 257.24h1.04v1.04h-1.04zM272.05 245.93h1.01v1.01h-1.01zM280.74 259.52h0.85v0.85h-0.85zM267.14 249.95h1.27v1.27h-1.27zM270.11 243.83h0.84v0.84h-0.84zM266.4 249.52h1.28v1.28h-1.28zM281.37 241h0.87v0.87h-0.87zM288.12 250.63h1.09v1.09h-1.09zM282.29 255.41h1.17v1.17h-1.17zM267.4 257.93h0.95v0.95h-0.95zM266.48 245.91h1.17v1.17h-1.17zM280.77 241.4h1.3v1.3h-1.3zM277.5 241.1h1.4v1.4h-1.4zM285.1 259.93h1.28v1.28h-1.28zM270.78 256.68h1.43v1.43h-1.43zM278.46 259.98h1.48v1.48h-1.48zM274.98 260.83h1.46v1.46h-1.46zM284.79 237.28h1.05v1.05h-1.05zM280.41 252.36h1.33v1.33h-1.33zM281.22 241.09h1.45v1.45h-1.45zM278.53 259.31h0.94v0.94h-0.94zM289.75 251.04h1.34v1.34h-1.34zM283.48 259.33h1.05v1.05h-1.05zM267.51 247.26h0.92v0.92h-0.92zM278.62 257.62h1.05v1.05h-1.05zM268.68 237.68h1.1v1.1h-1.1zM279.6 237.67h1.27v1.27h-1.27zM270.62 239.71h1.45v1.45h-1.45zM278.21 259.65h1.16v1.16h-1.16zM268.49 243.07h1.1v1.1h-1.1zM281.07 256.5h1.33v1.33h-1.33zM281.31 243.4h1.1v1.1h-1.1zM274.69 249.39h0.99v0.99h-0.99zM278.57 248.61h0.82v0.82h-0.82zM285.5 251.84h1.36v1.36h-1.36zM283.4 255.49h1.5v1.5h-1.5zM274.66 246.96h0.8v0.8h-0.8zM281.64 251.71h1.2v1.2h-1.2zM289.74 241.98h0.96v0.96h-0.96zM283.34 257.55h1.14v1.14h-1.14zM266.84 246.37h1.38v1.38h-1.38zM277.65 248.68h1.07v1.07h-1.07zM280.77 252.14h1.29v1.29h-1.29zM286.53 256.01h1.06v1.06h-1.06zM271.58 256.78h1.36v1.36h-1.36zM288.05 242.03h1.39v1.39h-1.39zM287.14 238.95h1.02v1.02h-1.02zM280.9 240.7h1.38v1.38h-1.38zM271.94 254.26h1.01v1.01h-1.01zM270.8 242.24h1.15v1.15h-1.15zM282.83 242.51h1.28v1.28h-1.28zM273.64 253.43h1.06v1.06h-1.06zM270.2 240.57h0.84v0.84h-0.84zM282.42 247.47h0.89v0.89h-0.89zM286.9 253.57h0.81v0.81h-0.81zM283.11 252.04h1.11v1.11h-1.11zM277.67 261.34h1.06v1.06h-1.06zM280.96 253.08h1.06v1.06h-1.06zM273.92 256.1h1.25v1.25h-1.25zM276.6 250h0.96v0.96h-0.96zM284.68 237.5h1.25v1.25h-1.25zM276.56 242.6h1.21v1.21h-1.21zM279.67 239.2h1.14v1.14h-1.14zM269.51 257.22h1.03v1.03h-1.03z" fill="#5030a0" opacity="0.8" filter="url(#nb)"/>
<path d="M270.7 237.3L274.38 250.05L273.15 262.8" stroke="#f4d8f0" stroke-width="1.4" fill="none" stroke-linecap="round" opacity="0.8" filter="url(#nb)"/>
<path d="M280.5 242.4L287.85 255.15" stroke="#f0b8e4" stroke-width="2" fill="none" stroke-linecap="round" opacity="0.8" filter="url(#nb)"/>
</g>
<clipPath id="tc13"><rect x="290.2" y="237.3" width="24.5" height="25.5"/></clipPath><g clip-path="url(#tc13)">
<rect x="290.2" y="237.3" width="24.5" height="25.5" fill="#da96cc"/>
<ellipse cx="313.68" cy="240.88" rx="4" ry="1.11" fill="#f0c8e8" opacity="0.17" transform="rotate(166 313.68 240.88)"/>
<ellipse cx="311.73" cy="257.51" rx="2.17" ry="0.88" fill="#f0c8e8" opacity="0.35" transform="rotate(45 311.73 257.51)"/>
<ellipse cx="313.04" cy="254.77" rx="3.27" ry="0.88" fill="#5030a0" opacity="0.33" transform="rotate(150 313.04 254.77)"/>
<ellipse cx="296.67" cy="248.05" rx="1.78" ry="1.7" fill="#f0c8e8" opacity="0.3" transform="rotate(144 296.67 248.05)"/>
<ellipse cx="291.7" cy="245.62" rx="1.96" ry="1.47" fill="#f0c8e8" opacity="0.33" transform="rotate(166 291.7 245.62)"/>
<ellipse cx="302.82" cy="244.43" rx="3.23" ry="1.53" fill="#f0c8e8" opacity="0.22" transform="rotate(8 302.82 244.43)"/>
<ellipse cx="300.47" cy="243.72" rx="3.71" ry="1.48" fill="#f0c8e8" opacity="0.33" transform="rotate(47 300.47 243.72)"/>
<ellipse cx="297.73" cy="246.83" rx="2.24" ry="1.81" fill="#5030a0" opacity="0.26" transform="rotate(110 297.73 246.83)"/>
<ellipse cx="308.76" cy="260.23" rx="1.73" ry="1.55" fill="#f0c8e8" opacity="0.17" transform="rotate(103 308.76 260.23)"/>
<ellipse cx="291.62" cy="258.75" rx="2.1" ry="0.81" fill="#f0c8e8" opacity="0.24" transform="rotate(49 291.62 258.75)"/>
<ellipse cx="294.4" cy="251.24" rx="2.32" ry="1.41" fill="#f0c8e8" opacity="0.19" transform="rotate(9 294.4 251.24)"/>
<ellipse cx="291.74" cy="240.73" rx="3.35" ry="1.91" fill="#5030a0" opacity="0.17" transform="rotate(49 291.74 240.73)"/>
<ellipse cx="300.26" cy="258.42" rx="2.65" ry="2.24" fill="#5030a0" opacity="0.25" transform="rotate(134 300.26 258.42)"/>
<ellipse cx="293.52" cy="244.55" rx="3.65" ry="1.61" fill="#5030a0" opacity="0.16" transform="rotate(90 293.52 244.55)"/>
<path d="M313.1 239.8h1.37v1.37h-1.37zM296.19 240.02h0.93v0.93h-0.93zM298.41 238.62h0.87v0.87h-0.87zM305.19 252.1h1.29v1.29h-1.29zM294.21 238.93h0.93v0.93h-0.93zM306.4 262.13h1.17v1.17h-1.17zM301.73 238.72h0.82v0.82h-0.82zM308.19 251.7h1.23v1.23h-1.23zM299.69 239.97h1.44v1.44h-1.44zM302.65 241.56h0.97v0.97h-0.97zM310.34 252.8h0.94v0.94h-0.94zM308.22 253.07h0.83v0.83h-0.83zM306.64 247.61h0.98v0.98h-0.98zM311.51 239.85h1.45v1.45h-1.45zM312.52 251.32h0.92v0.92h-0.92zM313.27 245.07h0.82v0.82h-0.82zM293.75 244.08h1.39v1.39h-1.39zM306.92 244.01h1.34v1.34h-1.34zM295.13 257.53h1.12v1.12h-1.12zM305.97 248.21h1.1v1.1h-1.1zM298.53 243.55h1.48v1.48h-1.48zM306.65 254.78h1.23v1.23h-1.23zM292.51 258.41h1.47v1.47h-1.47zM304.99 253.38h1v1h-1zM310.42 243.66h0.98v0.98h-0.98zM302.67 245.8h1.36v1.36h-1.36zM301.95 249.65h0.9v0.9h-0.9zM303 249.63h1.04v1.04h-1.04zM311.17 238.96h1.27v1.27h-1.27zM302.69 254.89h0.86v0.86h-0.86zM312.28 245.56h0.84v0.84h-0.84zM302.64 258.51h0.94v0.94h-0.94zM298.7 261.1h0.8v0.8h-0.8zM297.7 256.39h0.88v0.88h-0.88zM302.21 238.3h1.24v1.24h-1.24zM291.48 251.43h1.44v1.44h-1.44zM296.16 244.67h1.02v1.02h-1.02zM312.08 251.55h1.17v1.17h-1.17zM303.24 245.15h1.27v1.27h-1.27zM309.17 238.32h0.96v0.96h-0.96zM302.34 261.1h1.28v1.28h-1.28zM289.98 243.13h0.88v0.88h-0.88zM297.55 259.49h1.46v1.46h-1.46zM292.64 259.95h1.38v1.38h-1.38zM312.23 241.04h1v1h-1zM299.48 240.54h1.08v1.08h-1.08zM295.61 242.75h1.23v1.23h-1.23zM312.05 259.86h1.12v1.12h-1.12zM296.7 250.73h0.86v0.86h-0.86zM309.89 256.01h1.19v1.19h-1.19zM300.71 243.51h0.97v0.97h-0.97zM293.61 251.15h1.03v1.03h-1.03zM293.94 246.53h1.27v1.27h-1.27zM294.91 240.35h1.27v1.27h-1.27zM311.65 247.98h1.18v1.18h-1.18zM299.49 248.61h1.4v1.4h-1.4zM300.6 242.28h1.28v1.28h-1.28zM312.65 239.92h1.39v1.39h-1.39zM308.21 239.01h1.19v1.19h-1.19zM309.13 243.76h0.89v0.89h-0.89zM308.42 241.09h1.35v1.35h-1.35zM302.96 251.83h0.94v0.94h-0.94zM309.16 255.68h1.11v1.11h-1.11zM307.3 256.63h1.27v1.27h-1.27zM300.86 257.22h1.1v1.1h-1.1zM308.79 242.27h0.97v0.97h-0.97zM305.54 243.84h1v1h-1zM291.02 260.46h1.23v1.23h-1.23zM295.77 248.65h1.37v1.37h-1.37zM313.77 240.12h1.32v1.32h-1.32zM298.36 246.47h1.48v1.48h-1.48zM293.26 250.93h1.15v1.15h-1.15zM305.73 239.75h1.36v1.36h-1.36zM302.27 260.22h1.08v1.08h-1.08zM292.38 249.78h1.32v1.32h-1.32zM290.21 241.19h1.5v1.5h-1.5zM298.05 249.23h0.91v0.91h-0.91zM304.43 254.86h0.98v0.98h-0.98zM292.84 241.3h1.3v1.3h-1.3zM306.79 253.92h1.28v1.28h-1.28zM302.97 245.24h1.35v1.35h-1.35zM297.73 258.44h1.32v1.32h-1.32zM305.39 252.54h1.05v1.05h-1.05zM290.14 250.4h1.48v1.48h-1.48zM299.93 261.15h1.47v1.47h-1.47zM308.53 239.39h1.4v1.4h-1.4zM313.46 243.67h1.2v1.2h-1.2zM304.82 243.92h1.31v1.31h-1.31zM297.87 247.08h0.87v0.87h-0.87zM290.63 245.87h0.85v0.85h-0.85zM300.67 257.61h0.81v0.81h-0.81zM305.9 247.74h1.05v1.05h-1.05zM290.57 249.16h0.95v0.95h-0.95zM292.57 251.22h1.43v1.43h-1.43zM312.6 262.29h0.88v0.88h-0.88zM301.18 242.11h1.08v1.08h-1.08zM294.32 243h0.85v0.85h-0.85zM314.01 241.88h1.1v1.1h-1.1zM305.61 249.33h1v1h-1zM304.67 246.05h0.99v0.99h-0.99zM297.44 251.12h1.48v1.48h-1.48zM293.35 247.68h0.91v0.91h-0.91zM309.6 256.58h1.33v1.33h-1.33zM298.71 260.21h1.37v1.37h-1.37zM312.2 248.63h1.23v1.23h-1.23zM302.32 241.8h0.95v0.95h-0.95zM307.74 238.12h0.82v0.82h-0.82zM301.87 250.84h0.96v0.96h-0.96zM305.41 261.17h1.48v1.48h-1.48zM294.04 243.55h1.44v1.44h-1.44z" fill="#5030a0" opacity="0.8" filter="url(#nb)"/>
<polygon points="288.97,236.03 315.93,236.03 315.93,244.95 302.45,248.78 288.97,244.95" fill="#e09ad0" />
<polygon points="303.68,264.07 308.57,256.43 312.74,248.78 315.93,247.5 315.93,264.07" fill="#f2ebf2" />
</g>
<clipPath id="tc14"><rect x="314.5" y="237.3" width="24.5" height="25.5"/></clipPath><g clip-path="url(#tc14)">
<rect x="314.5" y="237.3" width="24.5" height="25.5" fill="#c890cc"/>
<ellipse cx="337.16" cy="261.49" rx="1.71" ry="1.81" fill="#4a2a98" opacity="0.23" transform="rotate(135 337.16 261.49)"/>
<ellipse cx="323.27" cy="255.81" rx="1.54" ry="1.85" fill="#f0c8e8" opacity="0.33" transform="rotate(27 323.27 255.81)"/>
<ellipse cx="316.6" cy="255.41" rx="2.78" ry="2.05" fill="#f0c8e8" opacity="0.22" transform="rotate(14 316.6 255.41)"/>
<ellipse cx="319.54" cy="238.2" rx="1.93" ry="1.17" fill="#f0c8e8" opacity="0.3" transform="rotate(144 319.54 238.2)"/>
<ellipse cx="333.11" cy="246.7" rx="3.15" ry="1.33" fill="#4a2a98" opacity="0.17" transform="rotate(121 333.11 246.7)"/>
<ellipse cx="318.85" cy="249.62" rx="3.19" ry="1.08" fill="#4a2a98" opacity="0.31" transform="rotate(136 318.85 249.62)"/>
<ellipse cx="322.42" cy="258.1" rx="1.79" ry="0.97" fill="#f0c8e8" opacity="0.16" transform="rotate(70 322.42 258.1)"/>
<ellipse cx="337.53" cy="244.45" rx="1.77" ry="2.33" fill="#4a2a98" opacity="0.26" transform="rotate(116 337.53 244.45)"/>
<ellipse cx="327.95" cy="243.89" rx="3.46" ry="2" fill="#f0c8e8" opacity="0.32" transform="rotate(60 327.95 243.89)"/>
<ellipse cx="322.54" cy="240.93" rx="1.75" ry="1.45" fill="#4a2a98" opacity="0.24" transform="rotate(8 322.54 240.93)"/>
<ellipse cx="315.87" cy="247.91" rx="3.52" ry="1.97" fill="#f0c8e8" opacity="0.34" transform="rotate(14 315.87 247.91)"/>
<ellipse cx="327.7" cy="262.5" rx="2.37" ry="2.46" fill="#4a2a98" opacity="0.23" transform="rotate(49 327.7 262.5)"/>
<ellipse cx="315.41" cy="244.04" rx="3.39" ry="1.58" fill="#4a2a98" opacity="0.21" transform="rotate(23 315.41 244.04)"/>
<ellipse cx="317.04" cy="250.79" rx="2.86" ry="2.18" fill="#f0c8e8" opacity="0.2" transform="rotate(107 317.04 250.79)"/>
<path d="M318.21 237.3h1.33v1.33h-1.33zM330.16 247.49h0.92v0.92h-0.92zM329.19 257.51h0.85v0.85h-0.85zM337.54 259.71h1.32v1.32h-1.32zM327.46 247.76h1.01v1.01h-1.01zM335.11 252.43h0.84v0.84h-0.84zM321.12 237.64h0.9v0.9h-0.9zM337.65 255.44h1.1v1.1h-1.1zM318.22 253.71h1.04v1.04h-1.04zM330.93 239.88h1.42v1.42h-1.42zM337.47 257.23h1.49v1.49h-1.49zM320.81 245.56h0.82v0.82h-0.82zM337.45 255.95h1.08v1.08h-1.08zM333.48 237.76h1.26v1.26h-1.26zM332.32 261.15h1.09v1.09h-1.09zM320.94 252.11h1.49v1.49h-1.49zM331.71 241.49h1.17v1.17h-1.17zM320.65 262.14h0.96v0.96h-0.96zM315.71 259.52h1.06v1.06h-1.06zM314.63 248.56h1.09v1.09h-1.09zM330.75 247.31h1.36v1.36h-1.36zM320.85 260.53h0.91v0.91h-0.91zM315.24 259.44h1.27v1.27h-1.27zM332.57 259.35h1.18v1.18h-1.18zM330.99 246.72h1.43v1.43h-1.43zM338.21 240.7h1.06v1.06h-1.06zM329.28 262.04h0.99v0.99h-0.99zM332.9 237.19h0.83v0.83h-0.83zM333.22 239.82h1.33v1.33h-1.33zM327.9 248.88h1.08v1.08h-1.08zM316.14 242.07h1.2v1.2h-1.2zM329.32 256.74h0.93v0.93h-0.93zM326.57 252.45h1.05v1.05h-1.05zM338.16 252.81h1.29v1.29h-1.29zM328.9 238.04h0.88v0.88h-0.88zM332.32 261.94h0.9v0.9h-0.9zM330.8 260.58h1.01v1.01h-1.01zM335.99 244.46h1.36v1.36h-1.36zM315.35 238.09h1.33v1.33h-1.33zM316.69 237.74h1.05v1.05h-1.05zM318.09 242.42h1.48v1.48h-1.48zM338.31 256.17h0.96v0.96h-0.96zM328.46 260.75h1.26v1.26h-1.26zM327.12 242.55h1.19v1.19h-1.19zM332.22 248.55h1.26v1.26h-1.26zM337.42 253.15h1.05v1.05h-1.05zM338.06 244.85h1.45v1.45h-1.45zM326.14 245.86h0.95v0.95h-0.95zM330.01 241.09h1.02v1.02h-1.02zM324.47 238.03h1.32v1.32h-1.32zM325.68 241.06h1.45v1.45h-1.45zM323.11 261.16h0.82v0.82h-0.82zM321.4 257.71h1.08v1.08h-1.08zM323.13 249.61h0.81v0.81h-0.81zM336.03 252.97h1.37v1.37h-1.37zM318.62 248.14h0.93v0.93h-0.93zM332.99 261.82h1.12v1.12h-1.12zM314.28 253.12h0.98v0.98h-0.98zM332.11 247.66h1.05v1.05h-1.05zM337.12 253.99h1.49v1.49h-1.49zM335.44 255.2h0.9v0.9h-0.9zM338.11 256.01h1.37v1.37h-1.37zM325.48 256h1.45v1.45h-1.45zM324.49 254.37h1.49v1.49h-1.49zM333.61 239.97h0.81v0.81h-0.81zM326.84 242.28h1.25v1.25h-1.25zM334.9 256.81h1.02v1.02h-1.02zM331.3 247.89h1.44v1.44h-1.44zM336.98 250.71h1.04v1.04h-1.04zM332.16 242.57h1.27v1.27h-1.27zM333.34 251.22h0.84v0.84h-0.84zM333.17 240.53h1.45v1.45h-1.45zM331.13 244.86h0.98v0.98h-0.98zM337.41 251.74h1.38v1.38h-1.38zM337.58 237.86h1.13v1.13h-1.13zM336.96 237.89h0.99v0.99h-0.99zM327.43 247.67h1.24v1.24h-1.24zM314.37 260.27h1.44v1.44h-1.44zM330.24 254.13h1.26v1.26h-1.26zM317.4 258.14h1.14v1.14h-1.14zM332.1 259.71h0.98v0.98h-0.98zM336.71 252.18h1.07v1.07h-1.07zM315.31 256.19h1.09v1.09h-1.09zM315.31 237.45h0.9v0.9h-0.9zM314.54 253.34h1.46v1.46h-1.46zM327.75 261.69h0.81v0.81h-0.81zM326.27 248.55h1v1h-1zM331.65 237.87h0.92v0.92h-0.92zM321.66 258.28h0.88v0.88h-0.88zM318.03 257.75h1.27v1.27h-1.27zM316.9 258.21h1.33v1.33h-1.33zM318.98 241.33h1.27v1.27h-1.27zM329.93 252.2h1.42v1.42h-1.42zM319.21 238.62h1.26v1.26h-1.26zM316.6 251.78h1.37v1.37h-1.37zM334.55 256.05h0.88v0.88h-0.88zM324.66 238.62h1.27v1.27h-1.27zM323.39 245.46h1.37v1.37h-1.37zM331.48 240.74h1.24v1.24h-1.24zM324.53 242.49h1.19v1.19h-1.19zM333.48 245.48h1.19v1.19h-1.19zM337.85 239.43h0.89v0.89h-0.89zM335.2 238.78h1.06v1.06h-1.06zM314.96 237.9h1.37v1.37h-1.37zM318.16 259.52h1.04v1.04h-1.04zM319.21 254.86h1.27v1.27h-1.27zM321.51 257.28h1.44v1.44h-1.44zM333.39 239.64h1.17v1.17h-1.17zM323.38 253.23h0.81v0.81h-0.81zM327.94 253.42h0.85v0.85h-0.85zM315.07 260.45h1.03v1.03h-1.03zM317.76 258.54h1.27v1.27h-1.27zM330.1 258.49h1.03v1.03h-1.03zM323.72 260.99h1.29v1.29h-1.29zM324.15 240.23h0.99v0.99h-0.99zM327.4 252.11h1.37v1.37h-1.37zM328.04 253h1.16v1.16h-1.16zM330.61 241.5h0.99v0.99h-0.99zM331.82 255.39h1.37v1.37h-1.37zM335.87 256.91h1.18v1.18h-1.18zM335.57 249.14h1.3v1.3h-1.3zM315.53 247.45h1.33v1.33h-1.33zM316.12 241.48h0.81v0.81h-0.81zM329.04 259.84h1.06v1.06h-1.06zM335.95 258.06h1.22v1.22h-1.22zM333.98 250.25h0.98v0.98h-0.98zM337.17 242.08h0.95v0.95h-0.95zM318.38 250.6h1.49v1.49h-1.49zM326.15 245.13h1.34v1.34h-1.34zM324.12 246.36h0.95v0.95h-0.95zM324.56 255.84h1.32v1.32h-1.32zM336.03 251.96h1.31v1.31h-1.31zM315.78 240.22h0.93v0.93h-0.93zM335.29 244.19h0.89v0.89h-0.89zM318.31 259.92h1.05v1.05h-1.05zM321.36 258.96h1.37v1.37h-1.37zM336.49 262.28h0.94v0.94h-0.94zM327.93 247.04h1.22v1.22h-1.22zM328.76 262.07h0.83v0.83h-0.83zM330.11 241.12h1.25v1.25h-1.25zM315.12 248.56h1.08v1.08h-1.08zM330.05 240.19h0.81v0.81h-0.81zM322.98 256.78h1.25v1.25h-1.25zM333.14 250.74h0.9v0.9h-0.9zM331.57 254.81h1v1h-1zM333.61 241.91h1.02v1.02h-1.02zM326.02 259.47h0.8v0.8h-0.8zM320.75 249.26h1.14v1.14h-1.14zM334.81 262.08h1.09v1.09h-1.09zM319.08 254.96h1.46v1.46h-1.46zM337.86 258.98h0.88v0.88h-0.88zM332.09 243.87h0.99v0.99h-0.99zM334.03 242.51h0.8v0.8h-0.8zM330.83 250.01h1.09v1.09h-1.09zM337.62 247.41h0.94v0.94h-0.94zM337.75 257.36h1.43v1.43h-1.43zM315.93 237.51h0.93v0.93h-0.93zM315.14 251.52h1.16v1.16h-1.16zM331.2 251.58h1.41v1.41h-1.41zM332.81 259.43h0.96v0.96h-0.96zM315.67 259.92h0.8v0.8h-0.8zM315.67 239.74h1.5v1.5h-1.5zM337.15 258.49h1.29v1.29h-1.29zM324.9 243.75h1.14v1.14h-1.14zM331.63 257.24h1.41v1.41h-1.41zM327.66 241.33h1.02v1.02h-1.02zM334.19 249.03h1.37v1.37h-1.37zM328.07 243.12h1.23v1.23h-1.23zM330.3 245.4h1.45v1.45h-1.45zM326.86 258.43h1.45v1.45h-1.45z" fill="#4a2a98" opacity="0.8" filter="url(#nb)"/>
<path d="M315.73 261.53L326.75 247.5L336.55 239.85" stroke="#ecc0e8" stroke-width="1.3" fill="none" stroke-linecap="round" opacity="0.8" filter="url(#nb)"/>
</g>
<clipPath id="tc15"><rect x="338.9" y="237.3" width="24.5" height="25.5"/></clipPath><g clip-path="url(#tc15)">
<rect x="338.9" y="237.3" width="24.5" height="25.5" fill="#d094cc"/>
<ellipse cx="356.35" cy="258.71" rx="4" ry="1.13" fill="#f0c8e8" opacity="0.28" transform="rotate(23 356.35 258.71)"/>
<ellipse cx="356.19" cy="262.77" rx="2.21" ry="2.37" fill="#4a2a98" opacity="0.15" transform="rotate(119 356.19 262.77)"/>
<ellipse cx="360.11" cy="262.49" rx="2.79" ry="2.43" fill="#f0c8e8" opacity="0.3" transform="rotate(113 360.11 262.49)"/>
<ellipse cx="355.61" cy="250.04" rx="3.22" ry="1.23" fill="#4a2a98" opacity="0.27" transform="rotate(174 355.61 250.04)"/>
<ellipse cx="346.91" cy="245.09" rx="2.42" ry="2.32" fill="#4a2a98" opacity="0.33" transform="rotate(80 346.91 245.09)"/>
<ellipse cx="347.2" cy="256.25" rx="2.11" ry="1.81" fill="#f0c8e8" opacity="0.18" transform="rotate(125 347.2 256.25)"/>
<ellipse cx="359.96" cy="244.09" rx="3.81" ry="0.96" fill="#4a2a98" opacity="0.25" transform="rotate(39 359.96 244.09)"/>
<ellipse cx="354.89" cy="245.57" rx="3.01" ry="2.13" fill="#f0c8e8" opacity="0.25" transform="rotate(66 354.89 245.57)"/>
<ellipse cx="363.34" cy="256.81" rx="2.11" ry="1.87" fill="#4a2a98" opacity="0.2" transform="rotate(164 363.34 256.81)"/>
<ellipse cx="352.18" cy="243.18" rx="2.26" ry="0.91" fill="#f0c8e8" opacity="0.22" transform="rotate(83 352.18 243.18)"/>
<ellipse cx="345.04" cy="242.03" rx="2.59" ry="2.29" fill="#4a2a98" opacity="0.2" transform="rotate(95 345.04 242.03)"/>
<ellipse cx="339.73" cy="259.51" rx="2.6" ry="2.14" fill="#4a2a98" opacity="0.17" transform="rotate(20 339.73 259.51)"/>
<ellipse cx="363.14" cy="255.44" rx="2.85" ry="1.78" fill="#4a2a98" opacity="0.23" transform="rotate(101 363.14 255.44)"/>
<ellipse cx="359.44" cy="244.48" rx="1.86" ry="2.07" fill="#f0c8e8" opacity="0.16" transform="rotate(148 359.44 244.48)"/>
<path d="M354.18 237.44h0.98v0.98h-0.98zM351.8 254.51h1.09v1.09h-1.09zM353.97 259.9h0.99v0.99h-0.99zM347.88 256.23h1.02v1.02h-1.02zM356.13 247.05h0.81v0.81h-0.81zM349.84 238.72h1.35v1.35h-1.35zM359.13 250.4h1.43v1.43h-1.43zM343.78 248.28h0.92v0.92h-0.92zM339.78 257.86h0.84v0.84h-0.84zM361.31 251.09h1.29v1.29h-1.29zM339.8 259.95h1.36v1.36h-1.36zM341.12 241.63h0.9v0.9h-0.9zM350.85 238.99h1.36v1.36h-1.36zM350.66 254.81h0.98v0.98h-0.98zM354.49 248.48h1.25v1.25h-1.25zM348.58 262.04h1.39v1.39h-1.39zM358.84 245.63h0.93v0.93h-0.93zM342.33 240.33h1.48v1.48h-1.48zM345.46 259.03h0.96v0.96h-0.96zM353.66 243.3h1.02v1.02h-1.02zM356.77 252.39h1.46v1.46h-1.46zM344.37 243.84h0.84v0.84h-0.84zM343.8 261.81h1.19v1.19h-1.19zM350.15 245.62h1.33v1.33h-1.33zM355.35 240.94h0.83v0.83h-0.83zM342.82 257.67h1.31v1.31h-1.31zM344.1 242.93h1.02v1.02h-1.02zM355.11 255.93h0.97v0.97h-0.97zM346.59 243h1.46v1.46h-1.46zM352.01 260.77h0.97v0.97h-0.97zM353.97 251.39h1.45v1.45h-1.45zM347.46 242.78h1.37v1.37h-1.37zM361.75 249.87h1.03v1.03h-1.03zM340.67 248.24h1.45v1.45h-1.45zM347.28 248.35h1.2v1.2h-1.2zM344.38 239.74h1.16v1.16h-1.16zM362.1 259.06h1.01v1.01h-1.01zM357.66 258.05h1.21v1.21h-1.21zM347.34 241.96h1.29v1.29h-1.29zM355.28 242.41h0.9v0.9h-0.9zM341.37 257.96h1.42v1.42h-1.42zM351.16 252.46h1.3v1.3h-1.3zM342.41 250.14h1.11v1.11h-1.11zM359.73 241.15h1.39v1.39h-1.39zM342.06 252.45h1.42v1.42h-1.42zM340.45 249.24h0.8v0.8h-0.8zM350.97 249.29h1.47v1.47h-1.47zM350.41 260.01h1.31v1.31h-1.31zM359.06 245.86h0.87v0.87h-0.87zM354.09 239.84h1.24v1.24h-1.24zM342.96 252.29h1.34v1.34h-1.34zM361.96 242.09h0.92v0.92h-0.92zM348.83 261.64h0.98v0.98h-0.98zM350.14 246.65h0.84v0.84h-0.84zM351.71 244.76h1.13v1.13h-1.13zM356.56 253.88h0.97v0.97h-0.97zM354.34 250.58h1.34v1.34h-1.34zM338.68 244.11h1.27v1.27h-1.27zM352.14 249.76h1.17v1.17h-1.17zM353.61 255.62h1.38v1.38h-1.38zM357.51 259.94h1.2v1.2h-1.2zM342.77 246.35h1.4v1.4h-1.4zM357.36 252.68h0.89v0.89h-0.89zM342.5 253.6h1.1v1.1h-1.1zM343.16 261.55h0.96v0.96h-0.96zM361.11 252.72h1.47v1.47h-1.47zM357.43 242.09h0.96v0.96h-0.96zM359.57 247.99h1.15v1.15h-1.15zM356.76 252.25h1.3v1.3h-1.3zM351.27 243.97h1.31v1.31h-1.31zM341.67 255.32h1.36v1.36h-1.36zM342.05 237.06h1.44v1.44h-1.44zM343.13 250.49h1v1h-1zM341.93 243.53h0.85v0.85h-0.85zM359.17 256.47h1.35v1.35h-1.35zM342.17 245.19h0.87v0.87h-0.87zM359.23 261.67h1.46v1.46h-1.46zM359.09 252.51h1.15v1.15h-1.15zM341.39 237.83h1.23v1.23h-1.23zM361.97 261.82h1.09v1.09h-1.09zM351.28 259.3h1v1h-1zM356.43 252.18h1.1v1.1h-1.1zM348.07 241.01h0.9v0.9h-0.9zM345.83 262.01h1.37v1.37h-1.37zM338.81 256.14h0.9v0.9h-0.9zM352.6 260.29h1.43v1.43h-1.43zM360.15 262.12h1.24v1.24h-1.24zM339.36 243.42h1.27v1.27h-1.27zM353.08 260.08h0.92v0.92h-0.92zM360.14 251.62h1.21v1.21h-1.21zM341.54 246h1.16v1.16h-1.16zM356.94 254.21h1.25v1.25h-1.25zM355.87 245.93h1.03v1.03h-1.03zM362.37 253.96h1.19v1.19h-1.19zM362.07 258.89h1.3v1.3h-1.3zM362.38 246.72h1.45v1.45h-1.45zM352.62 247.78h1.08v1.08h-1.08zM339.79 259.44h1.48v1.48h-1.48zM347.78 260.96h0.89v0.89h-0.89zM349.82 262.12h1.24v1.24h-1.24zM342.41 253.06h0.82v0.82h-0.82zM356.14 251.86h1.25v1.25h-1.25zM355.01 239.45h1.42v1.42h-1.42zM357.17 259.6h0.96v0.96h-0.96zM344.13 255.28h1.45v1.45h-1.45zM352.43 243.15h1.11v1.11h-1.11zM344.45 249.22h1.47v1.47h-1.47zM355.08 242.13h1.44v1.44h-1.44zM359.91 247.21h0.8v0.8h-0.8zM354.81 245.21h0.89v0.89h-0.89zM360.68 247.12h0.92v0.92h-0.92zM345.49 262.18h1.05v1.05h-1.05zM350.07 243.36h0.86v0.86h-0.86zM341.8 238.5h1.12v1.12h-1.12zM349.08 254.8h1.38v1.38h-1.38zM359.84 240.54h1.19v1.19h-1.19zM342.07 244.5h1.07v1.07h-1.07zM348.15 258.34h1.1v1.1h-1.1zM342.49 252.19h0.98v0.98h-0.98zM360.6 239.73h0.91v0.91h-0.91zM340.18 244.51h1.35v1.35h-1.35zM340.55 252.39h1.43v1.43h-1.43zM344.22 255.83h1.31v1.31h-1.31zM362 258.56h1.24v1.24h-1.24zM348.93 246.31h0.89v0.89h-0.89zM339.89 253.3h1v1h-1zM342.41 249.1h0.9v0.9h-0.9zM354.04 261.08h1.06v1.06h-1.06zM339.4 241.23h1.02v1.02h-1.02zM360.18 260.92h1.22v1.22h-1.22zM348.24 239.41h1.39v1.39h-1.39zM339.19 243.58h1.31v1.31h-1.31zM355.44 241.7h1.49v1.49h-1.49zM354.49 254.42h0.96v0.96h-0.96zM357.95 237.66h1.22v1.22h-1.22zM339.1 256.91h1.21v1.21h-1.21zM352.42 246.4h1.35v1.35h-1.35zM339.43 240.87h0.81v0.81h-0.81zM353.84 238.64h0.8v0.8h-0.8zM359.34 244.96h1.05v1.05h-1.05zM358.78 246.36h1.39v1.39h-1.39zM362.65 239.71h0.97v0.97h-0.97zM338.87 243.67h1.22v1.22h-1.22zM362.44 257.12h1.3v1.3h-1.3zM342.16 260.46h1.1v1.1h-1.1zM357.47 241.93h1.48v1.48h-1.48zM347.99 244.41h1.4v1.4h-1.4zM354.78 247.14h1.12v1.12h-1.12zM356.55 246.63h1.17v1.17h-1.17zM350.69 247.09h1.05v1.05h-1.05z" fill="#4a2a98" opacity="0.8" filter="url(#nb)"/>
<path d="M346.25 262.8L353.6 250.05L362.17 242.4" stroke="#f4dcf2" stroke-width="1.6" fill="none" stroke-linecap="round" opacity="0.8" filter="url(#nb)"/>
<path d="M351.15 262.8L363.4 255.15" stroke="#f0b8e4" stroke-width="1.6" fill="none" stroke-linecap="round" opacity="0.8" filter="url(#nb)"/>
</g>
<path d="M265.8 237.3V262.8M290.2 237.3V262.8M314.5 237.3V262.8M338.9 237.3V262.8" stroke="#222" stroke-width="0.8"/>
<rect x="241.4" y="237.3" width="122" height="25.5" fill="none" stroke="#222" stroke-width="0.9"/>
<clipPath id="tc16"><rect x="241.4" y="268.1" width="24.5" height="25.1"/></clipPath><g clip-path="url(#tc16)">
<rect x="241.4" y="268.1" width="24.5" height="25.1" fill="#c08ccc"/>
<ellipse cx="254.61" cy="275.36" rx="3.13" ry="1.16" fill="#f0c8e8" opacity="0.2" transform="rotate(101 254.61 275.36)"/>
<ellipse cx="250.62" cy="271.47" rx="1.52" ry="1.69" fill="#f0c8e8" opacity="0.34" transform="rotate(6 250.62 271.47)"/>
<ellipse cx="243.18" cy="272.11" rx="3" ry="2.36" fill="#4a2a98" opacity="0.34" transform="rotate(167 243.18 272.11)"/>
<ellipse cx="249.94" cy="290.24" rx="2.12" ry="1.76" fill="#f0c8e8" opacity="0.21" transform="rotate(109 249.94 290.24)"/>
<ellipse cx="255.26" cy="285.01" rx="3.74" ry="0.99" fill="#4a2a98" opacity="0.25" transform="rotate(79 255.26 285.01)"/>
<ellipse cx="244.57" cy="275.85" rx="2.77" ry="1.04" fill="#f0c8e8" opacity="0.29" transform="rotate(30 244.57 275.85)"/>
<ellipse cx="260.26" cy="278.38" rx="2.25" ry="1.69" fill="#4a2a98" opacity="0.19" transform="rotate(165 260.26 278.38)"/>
<ellipse cx="249.52" cy="279.43" rx="2.33" ry="1.37" fill="#4a2a98" opacity="0.15" transform="rotate(167 249.52 279.43)"/>
<ellipse cx="264.55" cy="280" rx="3.83" ry="1.23" fill="#f0c8e8" opacity="0.2" transform="rotate(177 264.55 280)"/>
<ellipse cx="262.9" cy="272.37" rx="1.97" ry="1.28" fill="#f0c8e8" opacity="0.28" transform="rotate(54 262.9 272.37)"/>
<ellipse cx="253.09" cy="291.56" rx="3.54" ry="1.31" fill="#4a2a98" opacity="0.34" transform="rotate(169 253.09 291.56)"/>
<ellipse cx="256.72" cy="277.7" rx="3.11" ry="1.98" fill="#4a2a98" opacity="0.22" transform="rotate(132 256.72 277.7)"/>
<ellipse cx="244.8" cy="272.08" rx="3.84" ry="0.83" fill="#f0c8e8" opacity="0.19" transform="rotate(85 244.8 272.08)"/>
<ellipse cx="255.18" cy="282.7" rx="3.62" ry="2.03" fill="#4a2a98" opacity="0.31" transform="rotate(136 255.18 282.7)"/>
<path d="M242 278.82h0.8v0.8h-0.8zM261.1 280.16h1.4v1.4h-1.4zM247.53 288.29h0.9v0.9h-0.9zM262.18 277.5h0.85v0.85h-0.85zM263.34 288.63h0.94v0.94h-0.94zM255.13 279.66h0.9v0.9h-0.9zM251.43 292.02h1.07v1.07h-1.07zM259.54 286.73h1.34v1.34h-1.34zM255.98 290.27h1.04v1.04h-1.04zM252.73 278.94h0.87v0.87h-0.87zM252.98 286.78h1.2v1.2h-1.2zM245.41 273.84h1.14v1.14h-1.14zM243.67 272.8h1.32v1.32h-1.32zM243.69 270.65h0.91v0.91h-0.91zM253.68 268.33h1.28v1.28h-1.28zM254.86 286.71h1.34v1.34h-1.34zM258.68 280.68h1.01v1.01h-1.01zM255.63 271.53h0.96v0.96h-0.96zM258.11 282.68h0.9v0.9h-0.9zM251.86 282.7h0.96v0.96h-0.96zM256.87 271.37h0.92v0.92h-0.92zM251.18 274.97h1.3v1.3h-1.3zM251.17 275.01h1.37v1.37h-1.37zM261.38 287.04h0.88v0.88h-0.88zM247.71 270.24h1.32v1.32h-1.32zM252.37 270.11h1.46v1.46h-1.46zM242.94 268.92h1.43v1.43h-1.43zM252.1 289.09h1.21v1.21h-1.21zM244.42 279.78h1.33v1.33h-1.33zM241.53 287.15h1.05v1.05h-1.05zM253.58 275.8h1.35v1.35h-1.35zM252.85 279.05h0.84v0.84h-0.84zM258.79 272.12h1.22v1.22h-1.22zM241.22 270.49h1.24v1.24h-1.24zM247.99 282.64h1.28v1.28h-1.28zM249.71 281.09h1.07v1.07h-1.07zM242.16 288.83h1.17v1.17h-1.17zM262.19 283.73h1.24v1.24h-1.24zM243.8 283.26h1.1v1.1h-1.1zM247.82 270.61h0.93v0.93h-0.93zM242.8 284.25h1.1v1.1h-1.1zM244.21 281.91h1.41v1.41h-1.41zM263.63 269.74h1.23v1.23h-1.23zM256.03 279.74h1.06v1.06h-1.06zM252.45 276.34h1.07v1.07h-1.07zM245.5 285.07h1.4v1.4h-1.4zM264.65 277.11h0.96v0.96h-0.96zM247.26 268.32h1.27v1.27h-1.27zM244.61 280.28h1.41v1.41h-1.41zM258.16 283.48h1.34v1.34h-1.34zM255.92 288.33h1.23v1.23h-1.23zM246.59 269.55h1.46v1.46h-1.46zM243.85 281.05h1.41v1.41h-1.41zM261.48 286.63h0.83v0.83h-0.83zM241.87 280.78h0.87v0.87h-0.87zM246.51 274.15h1.36v1.36h-1.36zM260.87 287.67h1.42v1.42h-1.42zM262.37 272.34h1.5v1.5h-1.5zM249.53 285.4h1.35v1.35h-1.35zM246.65 290.65h1.23v1.23h-1.23zM257.93 277h1.31v1.31h-1.31zM245.92 276.09h1.29v1.29h-1.29zM262.2 281.94h1.2v1.2h-1.2zM242.82 279.69h0.94v0.94h-0.94zM248.26 277.72h1.15v1.15h-1.15zM248.95 285.54h0.88v0.88h-0.88zM242.04 285.46h1.13v1.13h-1.13zM264.95 283.05h1.2v1.2h-1.2zM255.04 270.31h1.24v1.24h-1.24zM251.29 271.24h0.92v0.92h-0.92zM241.19 275.17h1.07v1.07h-1.07zM254.05 289.12h0.84v0.84h-0.84zM244.52 268.71h1.13v1.13h-1.13zM252.11 268.25h1.02v1.02h-1.02zM247.3 271.95h1.1v1.1h-1.1zM243.06 271.78h0.99v0.99h-0.99zM248.4 278.99h1.05v1.05h-1.05zM257.29 275.38h1.09v1.09h-1.09zM244.17 291.79h1.39v1.39h-1.39zM243.85 287.46h1.25v1.25h-1.25zM262.03 290.6h1.36v1.36h-1.36zM260.12 279.08h1.08v1.08h-1.08zM254.76 283.88h1.09v1.09h-1.09zM264.7 279.93h1.08v1.08h-1.08zM259.88 280.23h1.09v1.09h-1.09zM249.7 286.09h0.96v0.96h-0.96zM259.63 275.63h0.88v0.88h-0.88zM243.69 277.49h1.27v1.27h-1.27zM261.64 268.18h1.43v1.43h-1.43zM254.5 269.62h1.1v1.1h-1.1zM245.55 291.3h1.08v1.08h-1.08zM244.08 269.19h1.05v1.05h-1.05zM245.19 280.12h1.17v1.17h-1.17zM257.22 278.56h1.07v1.07h-1.07zM252.55 279.62h0.86v0.86h-0.86zM244.56 269.93h1.32v1.32h-1.32zM258.82 269.71h0.95v0.95h-0.95zM263.94 286.02h0.81v0.81h-0.81zM251.73 290.62h1.3v1.3h-1.3zM249.09 288.44h1.26v1.26h-1.26zM264.38 288.24h0.86v0.86h-0.86zM253.37 286.1h1.39v1.39h-1.39zM260.08 287.41h0.96v0.96h-0.96zM251.89 273.43h1.45v1.45h-1.45zM265.13 277.29h1.05v1.05h-1.05zM247.52 270.7h0.84v0.84h-0.84zM243.41 291.45h1.29v1.29h-1.29zM247.8 291.84h0.84v0.84h-0.84zM263.11 269.36h1.02v1.02h-1.02zM241.71 278.78h1.27v1.27h-1.27zM261.93 283.11h0.82v0.82h-0.82zM252.71 291h1.26v1.26h-1.26zM244.16 292.14h0.8v0.8h-0.8zM264.36 284.06h1v1h-1zM257.89 286.28h1.38v1.38h-1.38zM264.06 283.92h1.43v1.43h-1.43zM246.05 271.47h1.23v1.23h-1.23zM260.22 287.67h1.06v1.06h-1.06zM263.73 283.32h0.88v0.88h-0.88zM262.4 282.14h1.12v1.12h-1.12zM259.37 271.27h1.08v1.08h-1.08zM248.68 291.21h1.48v1.48h-1.48zM253.05 285.4h1.07v1.07h-1.07zM248.28 282.83h1.03v1.03h-1.03zM263.5 285.62h1.38v1.38h-1.38zM261.46 289.28h0.8v0.8h-0.8zM250.07 275.77h0.87v0.87h-0.87zM257.06 283.47h1.39v1.39h-1.39zM247.73 289.74h1.16v1.16h-1.16zM262.04 292.06h1.36v1.36h-1.36zM260.52 272.43h1.24v1.24h-1.24zM257.3 292.45h1.27v1.27h-1.27zM256.27 288.01h1.04v1.04h-1.04zM264.49 269.91h0.8v0.8h-0.8zM252.09 284.94h0.96v0.96h-0.96zM264.01 268.31h1.47v1.47h-1.47zM256.31 279.54h1.23v1.23h-1.23zM256.47 268.36h1.15v1.15h-1.15zM261.96 281.47h0.9v0.9h-0.9zM244.96 281.01h1.18v1.18h-1.18zM247.69 286.49h1.09v1.09h-1.09zM241.85 276.74h1.12v1.12h-1.12zM247.93 272.66h0.99v0.99h-0.99zM243.93 290.71h1.33v1.33h-1.33zM262.07 278.78h1.37v1.37h-1.37zM263.07 283.51h0.86v0.86h-0.86zM254.9 270.95h0.92v0.92h-0.92zM243.34 272.78h1.4v1.4h-1.4zM245.89 291.47h0.82v0.82h-0.82zM255.62 273.27h1.5v1.5h-1.5zM243.36 283.79h1.01v1.01h-1.01zM250.53 288.12h1.24v1.24h-1.24zM259.83 280.11h1.12v1.12h-1.12zM259.69 287.46h0.83v0.83h-0.83zM244.47 276.32h0.98v0.98h-0.98zM243.42 272.64h0.93v0.93h-0.93zM243.4 286.78h1.46v1.46h-1.46zM245.85 288.18h1.42v1.42h-1.42zM257.89 271.24h1.41v1.41h-1.41zM259.93 277.72h0.81v0.81h-0.81zM253.78 284.77h1.09v1.09h-1.09zM259.97 285.27h0.87v0.87h-0.87zM257.44 290.78h1.01v1.01h-1.01zM259.67 279.43h1.3v1.3h-1.3zM263.25 270.55h1.49v1.49h-1.49zM257.86 268.88h1.16v1.16h-1.16zM261.7 282.21h1.35v1.35h-1.35zM256.21 271.97h1.41v1.41h-1.41zM258.8 286.61h0.91v0.91h-0.91zM249.41 283.89h1.29v1.29h-1.29zM263.7 276.25h0.85v0.85h-0.85zM250.21 273.48h1.38v1.38h-1.38zM257.16 282.33h1.28v1.28h-1.28zM246.16 287.44h1.13v1.13h-1.13zM264.42 283.77h1.19v1.19h-1.19zM241.79 267.86h1.04v1.04h-1.04zM252.77 270.42h1.02v1.02h-1.02zM248.58 273.42h1.27v1.27h-1.27zM250.89 290.43h1.32v1.32h-1.32zM250.7 274.59h1.1v1.1h-1.1zM257.33 286.41h1.38v1.38h-1.38zM262.41 287.72h1v1h-1zM252.65 281.91h1.27v1.27h-1.27zM253.3 269.65h1.25v1.25h-1.25zM247.27 272.67h0.81v0.81h-0.81zM253.16 270.73h1.02v1.02h-1.02zM265.16 267.97h0.82v0.82h-0.82zM246.71 282.66h1.16v1.16h-1.16zM264.4 278.31h1.16v1.16h-1.16zM245.72 284.65h1.26v1.26h-1.26z" fill="#4a2a98" opacity="0.8" filter="url(#nb)"/>
<ellipse cx="248.75" cy="280.65" rx="4.41" ry="6.27" fill="#d8a8e0" transform="rotate(0 248.75 280.65)"/>
</g>
<clipPath id="tc17"><rect x="265.8" y="268.1" width="24.5" height="25.1"/></clipPath><g clip-path="url(#tc17)">
<rect x="265.8" y="268.1" width="24.5" height="25.1" fill="#bc88ca"/>
<ellipse cx="266.1" cy="270.92" rx="3.21" ry="1.04" fill="#f0c8e8" opacity="0.17" transform="rotate(59 266.1 270.92)"/>
<ellipse cx="283.23" cy="271.6" rx="1.58" ry="0.9" fill="#4a2a98" opacity="0.2" transform="rotate(114 283.23 271.6)"/>
<ellipse cx="278.69" cy="273.24" rx="1.8" ry="2.11" fill="#4a2a98" opacity="0.33" transform="rotate(87 278.69 273.24)"/>
<ellipse cx="270.66" cy="276.39" rx="3.89" ry="1.16" fill="#f0c8e8" opacity="0.19" transform="rotate(149 270.66 276.39)"/>
<ellipse cx="282.04" cy="269.61" rx="1.95" ry="1.03" fill="#f0c8e8" opacity="0.18" transform="rotate(96 282.04 269.61)"/>
<ellipse cx="266.54" cy="286.55" rx="3.13" ry="1.17" fill="#4a2a98" opacity="0.31" transform="rotate(94 266.54 286.55)"/>
<ellipse cx="270.55" cy="284.19" rx="1.6" ry="1.37" fill="#f0c8e8" opacity="0.22" transform="rotate(101 270.55 284.19)"/>
<ellipse cx="277.6" cy="284.43" rx="2.03" ry="2.07" fill="#f0c8e8" opacity="0.17" transform="rotate(78 277.6 284.43)"/>
<ellipse cx="287.76" cy="282.15" rx="3.6" ry="1.3" fill="#4a2a98" opacity="0.18" transform="rotate(7 287.76 282.15)"/>
<ellipse cx="288.36" cy="283.19" rx="1.74" ry="1.48" fill="#4a2a98" opacity="0.33" transform="rotate(166 288.36 283.19)"/>
<ellipse cx="286.36" cy="290.31" rx="2.01" ry="1.37" fill="#f0c8e8" opacity="0.23" transform="rotate(12 286.36 290.31)"/>
<ellipse cx="279.56" cy="271.06" rx="3.96" ry="1" fill="#f0c8e8" opacity="0.19" transform="rotate(85 279.56 271.06)"/>
<ellipse cx="269.78" cy="292.95" rx="1.64" ry="1.84" fill="#f0c8e8" opacity="0.25" transform="rotate(95 269.78 292.95)"/>
<ellipse cx="289.85" cy="280.41" rx="3.64" ry="1.63" fill="#4a2a98" opacity="0.31" transform="rotate(155 289.85 280.41)"/>
<path d="M282.34 292.03h1.34v1.34h-1.34zM271.69 286.86h1.49v1.49h-1.49zM273.97 268.08h1.06v1.06h-1.06zM272.37 272.19h0.83v0.83h-0.83zM268.53 289.34h0.83v0.83h-0.83zM280.42 272.94h0.94v0.94h-0.94zM285.44 275.24h0.93v0.93h-0.93zM276.55 285.1h1.17v1.17h-1.17zM286.39 277.79h1.17v1.17h-1.17zM282.93 279.29h1.3v1.3h-1.3zM276.85 271.13h0.89v0.89h-0.89zM284.53 286.35h1.46v1.46h-1.46zM282.27 282.24h0.92v0.92h-0.92zM286.23 270.76h1.1v1.1h-1.1zM268.92 277.28h1.02v1.02h-1.02zM275.84 285.51h1.18v1.18h-1.18zM271.4 287.19h1.31v1.31h-1.31zM285.6 268.62h1.23v1.23h-1.23zM287.26 274.24h0.94v0.94h-0.94zM285.28 276.86h1.08v1.08h-1.08zM285.37 277.37h0.94v0.94h-0.94zM270.71 276.41h1.29v1.29h-1.29zM274.45 287h0.85v0.85h-0.85zM271.55 283.36h1.14v1.14h-1.14zM277.65 291.09h0.99v0.99h-0.99zM269.91 268.64h1.14v1.14h-1.14zM272.72 279.6h0.8v0.8h-0.8zM265.5 277.25h1.33v1.33h-1.33zM272.8 290.52h1.21v1.21h-1.21zM275.3 287.15h0.96v0.96h-0.96zM280.21 288.88h1.18v1.18h-1.18zM273.27 270.19h1.2v1.2h-1.2zM270.06 277.09h1.18v1.18h-1.18zM288.37 284.57h1.16v1.16h-1.16zM286.36 275.48h1.07v1.07h-1.07zM281.96 281.6h0.96v0.96h-0.96zM275.48 288.3h0.97v0.97h-0.97zM282.65 269h1.47v1.47h-1.47zM282.12 275.86h1.49v1.49h-1.49zM284.86 269.34h0.97v0.97h-0.97zM277.45 292.66h0.9v0.9h-0.9zM266.66 275.58h0.83v0.83h-0.83zM275.44 281.21h1.11v1.11h-1.11zM268.94 268.38h1.36v1.36h-1.36zM276.19 279.75h1.13v1.13h-1.13zM282.16 290.23h1.38v1.38h-1.38zM283.17 276.24h0.92v0.92h-0.92zM267.68 289.19h0.84v0.84h-0.84zM279.33 290.45h1.03v1.03h-1.03zM274.96 278.21h1.46v1.46h-1.46zM282.13 288.69h0.83v0.83h-0.83zM283.25 279.03h1.08v1.08h-1.08zM285.34 286.11h1.44v1.44h-1.44zM283.45 290.46h1.1v1.1h-1.1zM279.01 287.34h1.12v1.12h-1.12zM268.84 282.38h1.41v1.41h-1.41zM286.65 270.92h1.07v1.07h-1.07zM271.05 276.29h1.47v1.47h-1.47zM275.73 275.6h0.99v0.99h-0.99zM276.2 284.48h1.04v1.04h-1.04zM270.03 273.43h0.98v0.98h-0.98zM287.52 272.02h1.33v1.33h-1.33zM268.13 287.37h0.99v0.99h-0.99zM284.44 278.56h0.85v0.85h-0.85zM267.8 287.72h1.18v1.18h-1.18zM277.31 276.57h1.28v1.28h-1.28zM277.22 269.34h1.22v1.22h-1.22zM273.12 288.88h1.18v1.18h-1.18zM284.3 270.79h1.29v1.29h-1.29zM280.33 288.99h1.42v1.42h-1.42zM278.9 282.54h1.34v1.34h-1.34zM271.91 281.37h1.35v1.35h-1.35zM279.95 281.31h1.4v1.4h-1.4zM289.2 274.25h0.85v0.85h-0.85zM280.41 271.5h1.48v1.48h-1.48zM277.03 281.1h1.37v1.37h-1.37zM286.64 271.34h1.12v1.12h-1.12zM269.88 279.27h0.89v0.89h-0.89zM286.81 276.66h1.07v1.07h-1.07zM287.31 288.3h1.04v1.04h-1.04zM277.65 284.31h0.93v0.93h-0.93zM268.81 289.15h0.91v0.91h-0.91zM282.7 286.18h1.21v1.21h-1.21zM273.9 289.16h1.35v1.35h-1.35zM267.23 290.14h1.25v1.25h-1.25zM272.53 272h0.87v0.87h-0.87zM285.22 288.91h1.04v1.04h-1.04zM269.87 269.62h1.09v1.09h-1.09zM272.74 269.09h1.01v1.01h-1.01zM285.45 269.42h1.08v1.08h-1.08zM278 271.83h0.83v0.83h-0.83zM267.3 271.38h1.48v1.48h-1.48zM286.44 285.36h1.43v1.43h-1.43zM273.41 274.01h1.41v1.41h-1.41zM280.23 290.79h1.05v1.05h-1.05zM275.54 285.67h1.42v1.42h-1.42zM269.52 274.35h0.81v0.81h-0.81zM279.1 290.8h1.2v1.2h-1.2zM269.11 285.01h1.25v1.25h-1.25zM268.06 290.56h1.26v1.26h-1.26zM277.42 276.37h0.91v0.91h-0.91zM276.87 276.91h0.96v0.96h-0.96zM281.21 284.28h1.47v1.47h-1.47zM289.03 279.4h1.3v1.3h-1.3zM274.61 278.59h1.2v1.2h-1.2zM289.35 268.84h1.12v1.12h-1.12zM273.67 287.84h1.47v1.47h-1.47zM276.97 269.79h1.22v1.22h-1.22zM279.78 284.75h1.34v1.34h-1.34zM276.76 281.48h1.34v1.34h-1.34zM266.17 273.78h1.28v1.28h-1.28zM289.26 291.29h1v1h-1zM289.12 274.75h1.12v1.12h-1.12zM269.36 282.81h1.07v1.07h-1.07zM282.15 291.63h0.89v0.89h-0.89zM281.47 282.78h0.99v0.99h-0.99zM266.36 291.18h1.29v1.29h-1.29zM280.69 270.35h1.43v1.43h-1.43zM275.2 279.38h1.19v1.19h-1.19zM276.34 291.54h1.13v1.13h-1.13zM281.96 287.04h1.45v1.45h-1.45zM269.64 276.26h1.46v1.46h-1.46zM280.23 277.08h1.42v1.42h-1.42zM268.39 274.11h0.85v0.85h-0.85zM281.79 279.92h1.01v1.01h-1.01zM276.18 274.11h1.3v1.3h-1.3zM283.96 277.3h1.41v1.41h-1.41zM266.59 281.89h0.91v0.91h-0.91zM268.35 281.7h0.86v0.86h-0.86zM267.3 271.14h1.06v1.06h-1.06zM285.68 275h0.89v0.89h-0.89zM284.15 288.15h1.5v1.5h-1.5zM266.69 271.91h1.1v1.1h-1.1zM289.59 281.24h1.42v1.42h-1.42zM270.95 279.52h1.28v1.28h-1.28zM271.01 280.81h1.38v1.38h-1.38zM285.32 285.15h1.38v1.38h-1.38zM289.7 282.87h0.97v0.97h-0.97zM270.89 269.21h1.44v1.44h-1.44zM279.38 282.81h1.41v1.41h-1.41zM282.29 277.57h1.21v1.21h-1.21zM267.5 274.11h1.04v1.04h-1.04zM284.81 284.27h1.22v1.22h-1.22zM275.1 276.56h1.07v1.07h-1.07zM266.72 276.78h1.44v1.44h-1.44zM285.31 274h1.15v1.15h-1.15zM283.59 272.78h1.05v1.05h-1.05zM279.75 272.48h1.44v1.44h-1.44zM265.96 289.74h1.27v1.27h-1.27zM275.16 274.98h1.41v1.41h-1.41zM282.79 273.04h1.02v1.02h-1.02zM267.76 283.45h1.1v1.1h-1.1zM273.22 285.33h0.98v0.98h-0.98zM268.95 287.62h1.42v1.42h-1.42zM285.12 281.71h1.3v1.3h-1.3zM286.47 268.77h1.01v1.01h-1.01zM274.14 286.06h1.04v1.04h-1.04zM284.06 274.21h1.46v1.46h-1.46zM276.08 282.5h1.24v1.24h-1.24zM285.47 281.83h0.95v0.95h-0.95zM276.21 281.81h0.85v0.85h-0.85zM285.65 275.45h1.44v1.44h-1.44zM274.54 291.48h1.31v1.31h-1.31zM275.05 285.26h0.8v0.8h-0.8zM267.56 282.32h1.02v1.02h-1.02zM275.39 285.36h1.13v1.13h-1.13zM280.38 286.27h1.38v1.38h-1.38zM268.07 288.43h1.32v1.32h-1.32zM271.02 269.89h0.94v0.94h-0.94zM267.67 282h1.5v1.5h-1.5zM277.31 274.67h0.92v0.92h-0.92zM289.14 281.41h0.97v0.97h-0.97zM287.64 278.21h1.49v1.49h-1.49zM277.92 274.12h0.93v0.93h-0.93zM265.9 288.07h1.03v1.03h-1.03zM283.2 288.75h1.08v1.08h-1.08zM277.91 285.77h1.25v1.25h-1.25zM274.32 272.74h1v1h-1zM266.01 283.62h1.25v1.25h-1.25zM284.3 278.75h1.31v1.31h-1.31zM279.09 289.01h1.19v1.19h-1.19zM281.85 282.74h0.94v0.94h-0.94zM267.37 288.21h1.28v1.28h-1.28zM277.91 290.55h0.93v0.93h-0.93zM283.3 280.33h0.87v0.87h-0.87zM268.63 268.44h0.93v0.93h-0.93zM284.38 279.71h0.83v0.83h-0.83zM277.5 292.03h1.35v1.35h-1.35zM272.81 279.85h1.06v1.06h-1.06zM271.12 284.19h0.82v0.82h-0.82zM277 290.9h1.33v1.33h-1.33zM281.45 288.51h1.47v1.47h-1.47zM272.07 291.35h1.43v1.43h-1.43zM277.51 271.17h1.17v1.17h-1.17zM277.57 292.61h0.97v0.97h-0.97zM282.95 286.7h1.22v1.22h-1.22zM272.41 290.37h0.98v0.98h-0.98zM286.35 289.93h1.17v1.17h-1.17zM266.77 274.58h0.85v0.85h-0.85zM270.01 276.66h1.2v1.2h-1.2z" fill="#4a2a98" opacity="0.8" filter="url(#nb)"/>
</g>
<clipPath id="tc18"><rect x="290.2" y="268.1" width="24.5" height="25.1"/></clipPath><g clip-path="url(#tc18)">
<rect x="290.2" y="268.1" width="24.5" height="25.1" fill="#c894cc"/>
<ellipse cx="292.1" cy="273.46" rx="3.75" ry="1.64" fill="#f0c8e8" opacity="0.29" transform="rotate(25 292.1 273.46)"/>
<ellipse cx="298.16" cy="276.39" rx="3.23" ry="2.49" fill="#f0c8e8" opacity="0.24" transform="rotate(153 298.16 276.39)"/>
<ellipse cx="290.22" cy="287.06" rx="1.52" ry="2.04" fill="#f0c8e8" opacity="0.32" transform="rotate(73 290.22 287.06)"/>
<ellipse cx="313.56" cy="273.16" rx="1.8" ry="2.46" fill="#f0c8e8" opacity="0.17" transform="rotate(40 313.56 273.16)"/>
<ellipse cx="300.95" cy="278.93" rx="2.89" ry="1.19" fill="#4a2a98" opacity="0.24" transform="rotate(126 300.95 278.93)"/>
<ellipse cx="294.3" cy="288.54" rx="2.92" ry="1.78" fill="#4a2a98" opacity="0.3" transform="rotate(150 294.3 288.54)"/>
<ellipse cx="297.31" cy="275.34" rx="3.16" ry="2.23" fill="#f0c8e8" opacity="0.21" transform="rotate(178 297.31 275.34)"/>
<ellipse cx="291.91" cy="280.07" rx="2.61" ry="1.99" fill="#4a2a98" opacity="0.17" transform="rotate(15 291.91 280.07)"/>
<ellipse cx="293.44" cy="274.62" rx="1.86" ry="0.9" fill="#4a2a98" opacity="0.27" transform="rotate(125 293.44 274.62)"/>
<ellipse cx="290.37" cy="291.99" rx="3.88" ry="1.64" fill="#4a2a98" opacity="0.34" transform="rotate(63 290.37 291.99)"/>
<ellipse cx="305.34" cy="281.28" rx="2.06" ry="1.44" fill="#4a2a98" opacity="0.29" transform="rotate(49 305.34 281.28)"/>
<ellipse cx="310.49" cy="292.15" rx="3.21" ry="1.4" fill="#f0c8e8" opacity="0.22" transform="rotate(159 310.49 292.15)"/>
<ellipse cx="296.27" cy="268.13" rx="3.88" ry="1.81" fill="#f0c8e8" opacity="0.34" transform="rotate(80 296.27 268.13)"/>
<ellipse cx="309.25" cy="278.56" rx="2.5" ry="2.46" fill="#f0c8e8" opacity="0.24" transform="rotate(93 309.25 278.56)"/>
<path d="M297.26 290.63h1.15v1.15h-1.15zM308.88 271.03h1.28v1.28h-1.28zM296.27 284.74h1.06v1.06h-1.06zM292.16 286.89h1.23v1.23h-1.23zM311.08 289.81h0.83v0.83h-0.83zM304.43 272.73h1.17v1.17h-1.17zM297.72 273.29h1.08v1.08h-1.08zM294.53 284.11h0.91v0.91h-0.91zM304.96 269.24h1.28v1.28h-1.28zM290.53 279.37h1.39v1.39h-1.39zM290.29 269.5h1.04v1.04h-1.04zM307.57 270.8h0.96v0.96h-0.96zM306.37 276.23h1.25v1.25h-1.25zM297.31 272.32h0.96v0.96h-0.96zM309.26 270.31h1.47v1.47h-1.47zM290.37 268.22h1.48v1.48h-1.48zM298.76 283.89h1.04v1.04h-1.04zM304.86 268.03h1.28v1.28h-1.28zM290.18 281.78h0.82v0.82h-0.82zM312.8 270.48h1.28v1.28h-1.28zM305.42 273.44h1.2v1.2h-1.2zM291.19 283.81h1.42v1.42h-1.42zM300.77 285.33h1.41v1.41h-1.41zM297.3 284.17h1.33v1.33h-1.33zM310.31 268.77h1.11v1.11h-1.11zM303.35 289.59h1.25v1.25h-1.25zM310.36 273.13h1.01v1.01h-1.01zM312.79 268.48h1.06v1.06h-1.06zM308.87 271.24h1.48v1.48h-1.48zM297.18 291.6h1.29v1.29h-1.29zM295.67 285.15h0.91v0.91h-0.91zM291.09 273.55h0.97v0.97h-0.97zM304.71 267.92h1.38v1.38h-1.38zM306.52 286.9h1v1h-1zM293.12 277.16h1.42v1.42h-1.42zM298.74 281.93h1.19v1.19h-1.19zM309.53 290.96h0.98v0.98h-0.98zM307.19 290.29h0.9v0.9h-0.9zM298.32 280.87h1.42v1.42h-1.42zM299.12 272.72h1.28v1.28h-1.28zM292.18 292.2h0.82v0.82h-0.82zM298.75 282.24h1.4v1.4h-1.4zM303.91 274.77h0.96v0.96h-0.96zM311.31 278.92h1.09v1.09h-1.09zM290.32 270.84h1.08v1.08h-1.08zM298.86 269.35h1.19v1.19h-1.19zM290.28 292.04h0.94v0.94h-0.94zM306.62 270.83h1.32v1.32h-1.32zM311.49 288.35h1.17v1.17h-1.17zM293.85 287.48h1.37v1.37h-1.37zM307.45 288.54h1.19v1.19h-1.19zM307.07 272.22h1.09v1.09h-1.09zM303.25 277.39h0.93v0.93h-0.93zM296.84 271.57h1.22v1.22h-1.22zM310.91 268.4h1.37v1.37h-1.37zM294.22 289.85h1.03v1.03h-1.03zM302.65 290.52h0.9v0.9h-0.9zM301.67 291.32h1.1v1.1h-1.1zM292.14 292.57h1.3v1.3h-1.3zM295.28 279.36h1.27v1.27h-1.27zM301.13 281.75h1v1h-1zM308.91 276.34h0.98v0.98h-0.98zM290.89 277.94h1.03v1.03h-1.03zM312.05 279.31h0.86v0.86h-0.86zM308.37 270.06h1.48v1.48h-1.48zM298.57 287.69h1.34v1.34h-1.34zM313.38 273.15h1.13v1.13h-1.13zM314.07 268.95h1.07v1.07h-1.07zM300.07 289.54h0.83v0.83h-0.83zM294.8 285.68h1.02v1.02h-1.02zM293.88 283.34h1.12v1.12h-1.12zM310.09 279h1.39v1.39h-1.39zM308.7 289.02h1.01v1.01h-1.01zM306.6 290.65h1.26v1.26h-1.26zM302.05 270.1h0.95v0.95h-0.95zM312.75 283.41h1.01v1.01h-1.01zM300.75 269.72h0.85v0.85h-0.85zM312.92 272.54h1.14v1.14h-1.14zM291.56 292.35h1.22v1.22h-1.22zM299.29 289.8h1.15v1.15h-1.15zM300.83 291.11h1.26v1.26h-1.26zM313.99 287.82h1.12v1.12h-1.12zM297.36 268.2h1.01v1.01h-1.01zM294.9 286.75h1.11v1.11h-1.11zM306.4 278.85h1.18v1.18h-1.18zM307.72 275.47h1.24v1.24h-1.24zM306.06 269.6h0.93v0.93h-0.93zM310.12 268.76h1.42v1.42h-1.42zM294.34 282.68h1.02v1.02h-1.02zM304.2 287.94h1.2v1.2h-1.2zM291.6 273.49h0.93v0.93h-0.93zM293.22 278.8h1.01v1.01h-1.01zM308.36 277.01h1.23v1.23h-1.23zM311.52 271.53h0.97v0.97h-0.97zM298.1 279.31h1.1v1.1h-1.1zM310.29 274.9h1.34v1.34h-1.34zM312.96 273.42h1.03v1.03h-1.03zM290.54 279.16h1.1v1.1h-1.1zM311.58 287.21h1.33v1.33h-1.33zM290.96 284.98h0.82v0.82h-0.82zM292.83 276h1.01v1.01h-1.01zM306.16 268.05h1.47v1.47h-1.47zM290.08 292.46h1.14v1.14h-1.14zM301.94 284.07h1.15v1.15h-1.15zM301.37 270.68h1.11v1.11h-1.11zM306 288.67h0.99v0.99h-0.99zM305.07 269h1.11v1.11h-1.11zM290.24 284.51h1.44v1.44h-1.44zM294.95 286.39h1.01v1.01h-1.01zM311.48 274.59h1.27v1.27h-1.27zM304.1 284.93h1.34v1.34h-1.34zM313.99 290.24h1.41v1.41h-1.41zM306.2 282h0.93v0.93h-0.93zM299.35 272.76h0.84v0.84h-0.84zM298.77 280.87h1.48v1.48h-1.48zM303.45 287.5h1.48v1.48h-1.48zM297 279.24h1.32v1.32h-1.32zM301.88 286.13h0.89v0.89h-0.89zM303.98 270.86h1.2v1.2h-1.2zM311.93 285.89h0.97v0.97h-0.97zM299.57 284.85h1.19v1.19h-1.19zM301.01 287.71h1.27v1.27h-1.27zM302.59 276.18h0.9v0.9h-0.9zM299.45 289.15h1.06v1.06h-1.06zM312.13 273.62h1.28v1.28h-1.28zM296.67 288.82h0.83v0.83h-0.83zM301.91 270.82h1.27v1.27h-1.27zM313.91 284.51h1.42v1.42h-1.42zM302.68 287.74h0.98v0.98h-0.98zM310.84 279.18h0.97v0.97h-0.97zM295.91 274.5h1.25v1.25h-1.25zM290.75 285.19h1.31v1.31h-1.31zM305.21 284.89h0.96v0.96h-0.96zM305.68 288.73h1.31v1.31h-1.31zM303.04 290.66h0.84v0.84h-0.84zM294.01 285.32h1.13v1.13h-1.13zM291.34 278.61h1.04v1.04h-1.04zM311.72 285.06h1.27v1.27h-1.27zM307.71 272.52h1.47v1.47h-1.47zM290 288.23h1.33v1.33h-1.33zM308.73 286.28h0.95v0.95h-0.95zM295.9 268.97h1.27v1.27h-1.27zM313.18 275.11h0.97v0.97h-0.97zM313.7 279.6h1.33v1.33h-1.33zM295.72 270.94h1.34v1.34h-1.34zM311.32 286.01h1.4v1.4h-1.4zM292.32 277.69h1.08v1.08h-1.08zM306.26 270.23h1.41v1.41h-1.41zM305.22 269.72h1.27v1.27h-1.27zM291.16 273.44h1.14v1.14h-1.14zM313.5 268.8h1.41v1.41h-1.41zM291.32 268.11h0.94v0.94h-0.94zM295.89 268.78h1v1h-1zM297.76 285.6h1.3v1.3h-1.3zM311.06 270.77h1.46v1.46h-1.46zM293.68 285.52h1.06v1.06h-1.06zM311.7 270.17h0.94v0.94h-0.94zM295.91 286.51h0.99v0.99h-0.99zM300 276.82h1.1v1.1h-1.1zM303.96 292.31h0.98v0.98h-0.98z" fill="#4a2a98" opacity="0.8" filter="url(#nb)"/>
<path d="M292.65 290.69L302.45 278.14L312.25 275.63" stroke="#e8c0ec" stroke-width="1.5" fill="none" stroke-linecap="round" opacity="0.8" filter="url(#nb)"/>
</g>
<clipPath id="tc19"><rect x="314.5" y="268.1" width="24.5" height="25.1"/></clipPath><g clip-path="url(#tc19)">
<rect x="314.5" y="268.1" width="24.5" height="25.1" fill="#c08ccc"/>
<ellipse cx="328.47" cy="283.97" rx="2.19" ry="1.91" fill="#4a2a98" opacity="0.33" transform="rotate(135 328.47 283.97)"/>
<ellipse cx="319.07" cy="284.46" rx="2.76" ry="2.44" fill="#4a2a98" opacity="0.26" transform="rotate(113 319.07 284.46)"/>
<ellipse cx="321.41" cy="284.99" rx="2.53" ry="1.68" fill="#f0c8e8" opacity="0.33" transform="rotate(155 321.41 284.99)"/>
<ellipse cx="335.57" cy="285.1" rx="2.2" ry="1.34" fill="#4a2a98" opacity="0.3" transform="rotate(62 335.57 285.1)"/>
<ellipse cx="317.37" cy="269.51" rx="2.21" ry="1.16" fill="#4a2a98" opacity="0.33" transform="rotate(93 317.37 269.51)"/>
<ellipse cx="317.52" cy="276.17" rx="2.18" ry="0.81" fill="#f0c8e8" opacity="0.25" transform="rotate(77 317.52 276.17)"/>
<ellipse cx="328.1" cy="277.86" rx="3.7" ry="1.42" fill="#4a2a98" opacity="0.28" transform="rotate(174 328.1 277.86)"/>
<ellipse cx="328.21" cy="271.21" rx="1.8" ry="1.34" fill="#f0c8e8" opacity="0.16" transform="rotate(70 328.21 271.21)"/>
<ellipse cx="323.03" cy="289.86" rx="2.47" ry="1.82" fill="#4a2a98" opacity="0.31" transform="rotate(150 323.03 289.86)"/>
<ellipse cx="327.71" cy="287.81" rx="1.68" ry="1.62" fill="#f0c8e8" opacity="0.23" transform="rotate(92 327.71 287.81)"/>
<ellipse cx="317.22" cy="290.01" rx="2.86" ry="1.55" fill="#f0c8e8" opacity="0.21" transform="rotate(179 317.22 290.01)"/>
<ellipse cx="335.65" cy="290.94" rx="2.71" ry="1.97" fill="#4a2a98" opacity="0.33" transform="rotate(72 335.65 290.94)"/>
<ellipse cx="325.84" cy="278.69" rx="2.15" ry="2.29" fill="#4a2a98" opacity="0.34" transform="rotate(123 325.84 278.69)"/>
<ellipse cx="324" cy="287.15" rx="3.89" ry="1.09" fill="#f0c8e8" opacity="0.34" transform="rotate(81 324 287.15)"/>
<path d="M329.32 274.93h1.24v1.24h-1.24zM332.68 291.86h1.38v1.38h-1.38zM324.75 287.96h1.45v1.45h-1.45zM335.32 286.49h1.21v1.21h-1.21zM326.63 288.97h1.24v1.24h-1.24zM331.73 273.48h0.86v0.86h-0.86zM320.77 282.33h1.2v1.2h-1.2zM319.03 272.5h1.47v1.47h-1.47zM315.94 290.87h1.34v1.34h-1.34zM328.14 292.59h1.28v1.28h-1.28zM314.36 291.18h1.09v1.09h-1.09zM336.47 288.06h0.9v0.9h-0.9zM315.16 268.32h1.35v1.35h-1.35zM333.43 273.48h0.88v0.88h-0.88zM323.11 287.7h1.32v1.32h-1.32zM335.27 291.9h1.33v1.33h-1.33zM334.51 268.21h0.8v0.8h-0.8zM335.16 283.21h1.03v1.03h-1.03zM317.32 276.08h1.04v1.04h-1.04zM326.25 279h0.94v0.94h-0.94zM316.19 272.86h0.89v0.89h-0.89zM316.64 278.12h0.89v0.89h-0.89zM333.64 281.36h1.12v1.12h-1.12zM329.73 273.65h0.82v0.82h-0.82zM316.11 276.2h1.05v1.05h-1.05zM320.34 275.43h1.38v1.38h-1.38zM314.41 278.98h1.07v1.07h-1.07zM321.05 285.85h0.96v0.96h-0.96zM315.23 271.77h1.48v1.48h-1.48zM322.6 270.72h1.48v1.48h-1.48zM329.87 291.62h1.03v1.03h-1.03zM333.88 268.83h0.97v0.97h-0.97zM333.51 280.65h1.35v1.35h-1.35zM323.58 289.62h0.85v0.85h-0.85zM329.35 272.5h0.94v0.94h-0.94zM335.66 278.51h1.37v1.37h-1.37zM321.1 285.98h1.44v1.44h-1.44zM329.43 273.64h1.27v1.27h-1.27zM337.31 287.75h1.11v1.11h-1.11zM323.91 270.25h1.34v1.34h-1.34zM318.05 273.24h0.82v0.82h-0.82zM318.18 277.36h1.13v1.13h-1.13zM318.46 278.37h1.33v1.33h-1.33zM316.56 271.17h1.17v1.17h-1.17zM336.17 290.65h1.2v1.2h-1.2zM316.43 289.56h1.49v1.49h-1.49zM336.05 281.02h1.07v1.07h-1.07zM328.46 287.48h1.5v1.5h-1.5zM326.19 280.42h1.02v1.02h-1.02zM327.33 281.34h1v1h-1zM325.34 290.6h0.97v0.97h-0.97zM320.37 275.38h1.4v1.4h-1.4zM321.57 288.39h1.45v1.45h-1.45zM335.48 287.83h0.94v0.94h-0.94zM325.14 288.3h0.97v0.97h-0.97zM328.82 289.49h1.45v1.45h-1.45zM322.72 270.77h0.82v0.82h-0.82zM321.89 281.42h1v1h-1zM334.22 283.99h1.23v1.23h-1.23zM334.29 275.98h1.25v1.25h-1.25zM322.72 275h0.88v0.88h-0.88zM333.36 290.22h0.82v0.82h-0.82zM331.61 269.35h1.09v1.09h-1.09zM321.89 290.28h1.1v1.1h-1.1zM326.61 276.66h0.98v0.98h-0.98zM320.11 269.35h0.81v0.81h-0.81zM327.57 286.19h1.27v1.27h-1.27zM320.5 292.41h0.86v0.86h-0.86zM324.69 276.11h0.93v0.93h-0.93zM337.55 285.61h0.89v0.89h-0.89zM318.5 287.97h1.06v1.06h-1.06zM321.53 275.19h1.03v1.03h-1.03zM328.51 275.56h1.21v1.21h-1.21zM315.74 281.13h1.21v1.21h-1.21zM321.97 289.4h1.45v1.45h-1.45zM330.17 278.05h0.92v0.92h-0.92zM329.4 275h0.92v0.92h-0.92zM327.14 272.78h1.25v1.25h-1.25zM332.66 268.09h1.24v1.24h-1.24zM318.85 276.19h1.31v1.31h-1.31zM337.66 275.62h1.33v1.33h-1.33zM322.63 291.22h0.92v0.92h-0.92zM330.36 269.86h1.19v1.19h-1.19zM332.26 290.54h1.34v1.34h-1.34zM327.56 277.76h1.24v1.24h-1.24zM329.95 283.02h1.3v1.3h-1.3zM332.31 291.13h1.23v1.23h-1.23zM335.49 286.23h1.07v1.07h-1.07zM333.7 276.89h1.38v1.38h-1.38zM335.56 290.13h1.44v1.44h-1.44zM331.03 280.21h1v1h-1zM329.73 290.03h1.05v1.05h-1.05zM319.31 286.65h1.44v1.44h-1.44zM319.21 271.26h0.88v0.88h-0.88zM327.61 288.52h0.97v0.97h-0.97zM333.42 268.96h0.95v0.95h-0.95zM327.49 286.68h1.15v1.15h-1.15zM330.91 276.75h1.06v1.06h-1.06zM326.86 267.85h0.94v0.94h-0.94zM322.73 284.14h0.94v0.94h-0.94zM320.12 292.47h1.26v1.26h-1.26zM324.18 287.3h1.3v1.3h-1.3zM334.05 281.71h1.23v1.23h-1.23zM316.56 278.47h1.07v1.07h-1.07zM320.42 276.89h1.42v1.42h-1.42zM319.61 270.63h1.03v1.03h-1.03zM318.31 268.38h1.44v1.44h-1.44zM327.51 268.46h1.17v1.17h-1.17zM318.43 279.83h1.46v1.46h-1.46zM337.97 277.7h1.35v1.35h-1.35zM326.18 269.8h1.08v1.08h-1.08zM333.89 287.17h1.31v1.31h-1.31zM338.2 277.27h1.29v1.29h-1.29zM334.08 290.82h1.41v1.41h-1.41zM335.41 276.27h1.06v1.06h-1.06zM329.24 270.79h1.02v1.02h-1.02zM323.21 272.92h0.93v0.93h-0.93zM330.06 275.51h0.84v0.84h-0.84zM333.59 291.36h0.96v0.96h-0.96zM330.84 269.87h0.95v0.95h-0.95zM318.19 283.78h1.19v1.19h-1.19zM334.17 284.23h1.33v1.33h-1.33zM335.45 282.33h0.96v0.96h-0.96zM318.15 289.13h1.37v1.37h-1.37zM329.89 291.5h1.37v1.37h-1.37zM323.99 272.43h1.1v1.1h-1.1zM336.49 289.93h0.8v0.8h-0.8zM314.38 278.92h1.44v1.44h-1.44zM335.55 288.63h0.85v0.85h-0.85zM319.21 287.07h1.11v1.11h-1.11zM321.96 291.72h0.81v0.81h-0.81zM326.02 289.77h1.29v1.29h-1.29zM335.79 274.58h1.19v1.19h-1.19zM337.99 271.1h1.1v1.1h-1.1zM338.29 271.8h1.34v1.34h-1.34zM332.4 274.22h1.49v1.49h-1.49zM333.17 271.09h1.49v1.49h-1.49zM335.65 279.74h0.82v0.82h-0.82zM333.26 282.36h1.32v1.32h-1.32zM316.13 279.74h1.37v1.37h-1.37zM331.9 272.11h1.03v1.03h-1.03zM325.24 279.23h1.49v1.49h-1.49zM336.88 267.84h1.23v1.23h-1.23zM317.54 289.33h1.17v1.17h-1.17zM336.01 290.44h1.45v1.45h-1.45zM318.3 269.4h1.34v1.34h-1.34zM325.51 287.16h1.11v1.11h-1.11zM324.28 286.08h1.06v1.06h-1.06zM326.26 277.71h1.27v1.27h-1.27zM315.93 279.31h1.21v1.21h-1.21zM330.85 290.26h1.06v1.06h-1.06zM337.56 285.3h1.07v1.07h-1.07zM327.85 276.82h1.26v1.26h-1.26zM314.8 290.15h1.05v1.05h-1.05zM314.48 269.94h1.04v1.04h-1.04zM320.59 288.66h1.06v1.06h-1.06zM336.47 274.72h1.04v1.04h-1.04zM337.32 289.18h1.46v1.46h-1.46zM316.98 269.51h1.29v1.29h-1.29zM322.39 270.41h0.86v0.86h-0.86zM322.05 275.53h1.26v1.26h-1.26zM338.24 272.01h1.36v1.36h-1.36zM328.64 289.38h1.49v1.49h-1.49zM336.46 271.08h1.32v1.32h-1.32zM333 277.28h0.82v0.82h-0.82zM332.67 283.43h1.33v1.33h-1.33zM332.57 286.11h0.83v0.83h-0.83zM337.07 291.59h1.05v1.05h-1.05zM333.29 291.16h1.1v1.1h-1.1zM322.36 282.79h1.35v1.35h-1.35zM324.23 285.19h1.47v1.47h-1.47zM323.29 290.46h0.9v0.9h-0.9zM328.62 288.55h1.08v1.08h-1.08zM321.09 274.71h1.05v1.05h-1.05zM323.69 278.11h0.97v0.97h-0.97zM328.66 273.33h0.98v0.98h-0.98zM325.51 290.47h0.99v0.99h-0.99zM318.61 287.09h1.21v1.21h-1.21zM317.13 292.03h0.94v0.94h-0.94zM329.58 273.74h1.38v1.38h-1.38zM323.19 283.46h1.36v1.36h-1.36zM331.3 275.53h1.01v1.01h-1.01zM328.36 280.88h1.3v1.3h-1.3zM315.87 269.4h0.8v0.8h-0.8zM333.76 272.14h1.33v1.33h-1.33zM325.3 291.57h1.25v1.25h-1.25zM334.75 270.3h1.43v1.43h-1.43zM323.48 268.85h1.4v1.4h-1.4zM319.88 284.06h0.81v0.81h-0.81zM324.87 279.39h1.11v1.11h-1.11z" fill="#4a2a98" opacity="0.8" filter="url(#nb)"/>
</g>
<clipPath id="tc20"><rect x="338.9" y="268.1" width="24.5" height="25.1"/></clipPath><g clip-path="url(#tc20)">
<rect x="338.9" y="268.1" width="24.5" height="25.1" fill="#be8aca"/>
<ellipse cx="351.86" cy="282.8" rx="3.75" ry="2.3" fill="#4a2a98" opacity="0.22" transform="rotate(16 351.86 282.8)"/>
<ellipse cx="349.29" cy="275.79" rx="2.78" ry="1.06" fill="#f0c8e8" opacity="0.2" transform="rotate(156 349.29 275.79)"/>
<ellipse cx="338.94" cy="271.99" rx="3.5" ry="1.43" fill="#4a2a98" opacity="0.3" transform="rotate(15 338.94 271.99)"/>
<ellipse cx="358.51" cy="291.54" rx="3.09" ry="1.3" fill="#4a2a98" opacity="0.21" transform="rotate(52 358.51 291.54)"/>
<ellipse cx="350" cy="272.6" rx="3.3" ry="1.72" fill="#f0c8e8" opacity="0.2" transform="rotate(175 350 272.6)"/>
<ellipse cx="358.87" cy="282.68" rx="3.53" ry="1.28" fill="#4a2a98" opacity="0.17" transform="rotate(72 358.87 282.68)"/>
<ellipse cx="361.28" cy="273.06" rx="3.45" ry="2.34" fill="#f0c8e8" opacity="0.24" transform="rotate(23 361.28 273.06)"/>
<ellipse cx="351.65" cy="288.88" rx="3.66" ry="1.42" fill="#f0c8e8" opacity="0.24" transform="rotate(35 351.65 288.88)"/>
<ellipse cx="344.63" cy="275.53" rx="2.25" ry="0.98" fill="#f0c8e8" opacity="0.25" transform="rotate(104 344.63 275.53)"/>
<ellipse cx="361.77" cy="278.34" rx="3.41" ry="2.36" fill="#4a2a98" opacity="0.29" transform="rotate(90 361.77 278.34)"/>
<ellipse cx="362.56" cy="283.4" rx="1.66" ry="2.05" fill="#4a2a98" opacity="0.22" transform="rotate(82 362.56 283.4)"/>
<ellipse cx="343.15" cy="272.77" rx="2.7" ry="1.93" fill="#f0c8e8" opacity="0.15" transform="rotate(157 343.15 272.77)"/>
<ellipse cx="354.5" cy="280.96" rx="1.9" ry="1" fill="#4a2a98" opacity="0.2" transform="rotate(21 354.5 280.96)"/>
<ellipse cx="359.93" cy="281.84" rx="2.13" ry="1.98" fill="#4a2a98" opacity="0.35" transform="rotate(39 359.93 281.84)"/>
<path d="M349.98 272.28h1.26v1.26h-1.26zM356.53 277.18h1.45v1.45h-1.45zM341.3 275.91h0.92v0.92h-0.92zM341.74 286.29h1.12v1.12h-1.12zM358.52 281.57h1.38v1.38h-1.38zM362.26 281.97h1.48v1.48h-1.48zM339.16 288.26h1.24v1.24h-1.24zM353.91 272.01h0.85v0.85h-0.85zM348.34 280.75h1.41v1.41h-1.41zM342.62 280.68h1.12v1.12h-1.12zM348.57 282.24h1.29v1.29h-1.29zM349.39 274.43h1.19v1.19h-1.19zM356.87 284.47h0.91v0.91h-0.91zM350.93 275.45h0.88v0.88h-0.88zM338.72 270.78h1.12v1.12h-1.12zM350.7 281.22h0.97v0.97h-0.97zM361 276.65h0.88v0.88h-0.88zM346.91 288.92h1.26v1.26h-1.26zM356.99 292.42h1.05v1.05h-1.05zM354.05 275.8h1.46v1.46h-1.46zM347.9 279.35h0.81v0.81h-0.81zM356.47 282.18h1.22v1.22h-1.22zM348.2 270.18h1.46v1.46h-1.46zM344.95 292.57h1.39v1.39h-1.39zM339.47 286.8h1.07v1.07h-1.07zM354.08 283.78h1.4v1.4h-1.4zM345.94 272.43h0.97v0.97h-0.97zM360.91 289.04h1.28v1.28h-1.28zM347.04 273.19h1.37v1.37h-1.37zM357.45 277.16h1.44v1.44h-1.44zM355.85 269.61h1.19v1.19h-1.19zM357.71 269.11h1.43v1.43h-1.43zM344.98 276.66h1.02v1.02h-1.02zM346.04 292.05h1.4v1.4h-1.4zM357.89 281.8h1.01v1.01h-1.01zM349.66 282.54h1.42v1.42h-1.42zM350.86 283.22h1.02v1.02h-1.02zM349.97 269.76h1.28v1.28h-1.28zM342.36 276.66h1.13v1.13h-1.13zM348.82 284.64h0.95v0.95h-0.95zM350.11 287.75h0.98v0.98h-0.98zM341.83 289.42h0.91v0.91h-0.91zM359.61 282.39h1.19v1.19h-1.19zM353.66 290.79h1.07v1.07h-1.07zM347.53 288.36h1.28v1.28h-1.28zM351.08 286.66h1.08v1.08h-1.08zM343.83 285.75h1.26v1.26h-1.26zM361.32 272.19h1.44v1.44h-1.44zM361.94 284.11h1.05v1.05h-1.05zM361.59 267.92h1.3v1.3h-1.3zM353.97 292.67h1.01v1.01h-1.01zM358.9 274.07h0.94v0.94h-0.94zM343.1 271.57h0.94v0.94h-0.94zM342.12 286.89h0.9v0.9h-0.9zM354.42 275.64h0.95v0.95h-0.95zM354.59 269.71h1.07v1.07h-1.07zM360.23 275.23h1.21v1.21h-1.21zM355.55 287.53h1.41v1.41h-1.41zM341.44 292.62h0.9v0.9h-0.9zM351.43 289.38h1.42v1.42h-1.42zM339.4 274.71h1.31v1.31h-1.31zM360.53 268.19h0.94v0.94h-0.94zM359.82 281.38h1.1v1.1h-1.1zM358.37 279.01h1.48v1.48h-1.48zM357.82 285.47h0.88v0.88h-0.88zM354.18 280.13h1.5v1.5h-1.5zM355.35 290.41h1.29v1.29h-1.29zM359.45 270.02h1.45v1.45h-1.45zM348.93 280.4h1.1v1.1h-1.1zM357.61 291.19h1.23v1.23h-1.23zM341.85 269h1.42v1.42h-1.42zM351.95 270.89h1.09v1.09h-1.09zM356.87 271.45h1.49v1.49h-1.49zM343.68 285.27h1.33v1.33h-1.33zM350.66 276.23h1.14v1.14h-1.14zM341.09 269.56h1.08v1.08h-1.08zM348.71 276.04h1.2v1.2h-1.2zM339.92 276.66h1.35v1.35h-1.35zM351.62 274.23h1.08v1.08h-1.08zM361.69 279.65h1.09v1.09h-1.09zM345.63 291.7h1.04v1.04h-1.04zM347.23 283.37h0.97v0.97h-0.97zM348.47 292.27h1.07v1.07h-1.07zM347.07 281.8h1.28v1.28h-1.28zM357.06 292.12h1.08v1.08h-1.08zM342.52 286.12h1.38v1.38h-1.38zM342.4 290.43h1.28v1.28h-1.28zM344.01 272.25h0.9v0.9h-0.9zM342.83 283.1h1.21v1.21h-1.21zM362.72 277.38h1.44v1.44h-1.44zM355.13 280.01h1.25v1.25h-1.25zM346.71 286.33h1v1h-1zM358.08 287.7h1.08v1.08h-1.08zM352.45 272.32h1.38v1.38h-1.38zM343.99 285.03h1.17v1.17h-1.17zM345.1 277.48h0.98v0.98h-0.98zM355.15 284.02h0.91v0.91h-0.91zM340.55 286h1.38v1.38h-1.38zM356.9 287.99h1.3v1.3h-1.3zM362.47 282.67h1.16v1.16h-1.16zM349.05 290.36h1.31v1.31h-1.31zM353.49 288.43h0.84v0.84h-0.84zM360.88 282.62h1.25v1.25h-1.25zM357.94 269.65h0.96v0.96h-0.96zM338.69 273.47h1.27v1.27h-1.27zM348.94 292.24h1.03v1.03h-1.03zM353.1 287.25h1.47v1.47h-1.47zM340.49 276.51h0.93v0.93h-0.93zM341.5 280.19h1.37v1.37h-1.37zM339.85 279.69h1.43v1.43h-1.43zM362.17 281.1h1.24v1.24h-1.24zM357.9 283.46h1.18v1.18h-1.18zM352.69 272.25h0.85v0.85h-0.85zM355.22 271.8h0.84v0.84h-0.84zM351.55 291.84h0.93v0.93h-0.93zM351.29 271.02h1.13v1.13h-1.13zM339.95 278.45h1.45v1.45h-1.45zM346.93 286.99h1.19v1.19h-1.19zM339.3 287.67h1.03v1.03h-1.03zM361.46 291.15h0.85v0.85h-0.85zM342.19 278.62h1.28v1.28h-1.28zM362.57 282.08h1.39v1.39h-1.39zM347.93 281.09h1.48v1.48h-1.48zM349.03 290.74h1.37v1.37h-1.37zM358.04 275.42h1.15v1.15h-1.15zM359.22 277.58h1.27v1.27h-1.27zM346.19 285.99h1.36v1.36h-1.36zM343.05 281.2h1.17v1.17h-1.17zM346.47 277.08h1.47v1.47h-1.47zM352.28 271.75h0.84v0.84h-0.84zM353.59 268.62h1.39v1.39h-1.39zM346.38 289.79h1.4v1.4h-1.4zM350.92 287.53h1.48v1.48h-1.48zM360.81 281.38h1.02v1.02h-1.02zM342.85 287.03h1.43v1.43h-1.43zM351.61 288.31h1v1h-1zM361.49 277.55h1.46v1.46h-1.46zM362.88 271.55h1.45v1.45h-1.45zM344.26 269.36h1.37v1.37h-1.37zM342.15 268.23h1.25v1.25h-1.25zM350.58 273.3h1.02v1.02h-1.02zM355.53 272.2h1.29v1.29h-1.29zM346.05 269.61h1.49v1.49h-1.49zM348.76 285.63h0.94v0.94h-0.94zM348.92 270.36h1.42v1.42h-1.42zM345.04 281.05h1.45v1.45h-1.45zM360.34 270.16h0.96v0.96h-0.96zM338.76 276.68h0.87v0.87h-0.87zM360.04 283.38h0.89v0.89h-0.89zM352.8 288.37h1.18v1.18h-1.18zM352.57 289.06h0.94v0.94h-0.94zM345.03 275.07h1.49v1.49h-1.49zM342.35 281.17h1.2v1.2h-1.2zM340.46 279.2h1.03v1.03h-1.03zM346.83 270.61h1.19v1.19h-1.19zM362.06 281.05h1.28v1.28h-1.28zM342.51 283.67h1.34v1.34h-1.34zM340.7 268.56h1.24v1.24h-1.24zM350.68 279.67h1.16v1.16h-1.16zM358.8 281.54h1.11v1.11h-1.11zM362.78 271.1h1.4v1.4h-1.4zM360.34 272.42h1.41v1.41h-1.41zM346.37 273.24h1.48v1.48h-1.48zM356.53 281.36h0.86v0.86h-0.86zM348.36 289.54h1.11v1.11h-1.11zM343.88 279.25h0.92v0.92h-0.92zM343.59 268.82h0.88v0.88h-0.88zM343.52 280.29h0.9v0.9h-0.9zM360.74 272.72h1.08v1.08h-1.08zM361.26 270.86h1.26v1.26h-1.26zM341.65 276.65h0.86v0.86h-0.86zM348.36 269.79h1.49v1.49h-1.49zM352.99 281.86h1.08v1.08h-1.08zM349.84 270.25h0.89v0.89h-0.89zM361.75 278.1h1.35v1.35h-1.35zM350.07 277.5h1.19v1.19h-1.19zM361.42 277.22h0.86v0.86h-0.86zM361.69 284.69h1.36v1.36h-1.36zM347.66 277.07h1.36v1.36h-1.36zM353.31 277.78h1.09v1.09h-1.09zM357.26 273.71h1.2v1.2h-1.2zM351.88 271.92h1.41v1.41h-1.41zM341.24 271.77h1.39v1.39h-1.39zM354.24 284.25h1.42v1.42h-1.42zM357.24 279.56h1.15v1.15h-1.15zM345.22 271.13h1.48v1.48h-1.48zM359.31 290.95h1.3v1.3h-1.3zM355.91 285.36h0.87v0.87h-0.87zM341.16 268.6h1.27v1.27h-1.27zM344.86 278.14h0.8v0.8h-0.8z" fill="#4a2a98" opacity="0.8" filter="url(#nb)"/>
<path d="M343.8 273.12L353.6 278.14" stroke="#e8b8e8" stroke-width="1.5" fill="none" stroke-linecap="round" opacity="0.8" filter="url(#nb)"/>
</g>
<path d="M265.8 268.1V293.2M290.2 268.1V293.2M314.5 268.1V293.2M338.9 268.1V293.2" stroke="#222" stroke-width="0.8"/>
<rect x="241.4" y="268.1" width="122" height="25.1" fill="none" stroke="#222" stroke-width="0.9"/>
<clipPath id="tc21"><rect x="446.3" y="176.3" width="25.1" height="25.1"/></clipPath><g clip-path="url(#tc21)">
<rect x="446.3" y="176.3" width="25.1" height="25.1" fill="#dc90c8"/>
<ellipse cx="449.96" cy="187.72" rx="3.26" ry="2.04" fill="#6040a8" opacity="0.24" transform="rotate(28 449.96 187.72)"/>
<ellipse cx="459.68" cy="178.31" rx="1.62" ry="2.39" fill="#f0c8e8" opacity="0.34" transform="rotate(85 459.68 178.31)"/>
<ellipse cx="452.07" cy="197.36" rx="3.9" ry="1.04" fill="#6040a8" opacity="0.33" transform="rotate(94 452.07 197.36)"/>
<ellipse cx="462.02" cy="200.48" rx="3.89" ry="1.74" fill="#f0c8e8" opacity="0.33" transform="rotate(96 462.02 200.48)"/>
<ellipse cx="450.33" cy="192.58" rx="1.51" ry="1.47" fill="#f0c8e8" opacity="0.3" transform="rotate(144 450.33 192.58)"/>
<ellipse cx="450.38" cy="180.49" rx="3.16" ry="2.45" fill="#f0c8e8" opacity="0.31" transform="rotate(99 450.38 180.49)"/>
<ellipse cx="449.48" cy="190.2" rx="3.02" ry="2.02" fill="#6040a8" opacity="0.3" transform="rotate(129 449.48 190.2)"/>
<ellipse cx="464.22" cy="193.61" rx="3.2" ry="1.72" fill="#f0c8e8" opacity="0.34" transform="rotate(123 464.22 193.61)"/>
<ellipse cx="456.38" cy="177.85" rx="2.25" ry="1.54" fill="#f0c8e8" opacity="0.2" transform="rotate(111 456.38 177.85)"/>
<ellipse cx="465.55" cy="189.19" rx="2.96" ry="1.05" fill="#f0c8e8" opacity="0.29" transform="rotate(83 465.55 189.19)"/>
<ellipse cx="450.43" cy="195.22" rx="1.8" ry="0.89" fill="#6040a8" opacity="0.27" transform="rotate(56 450.43 195.22)"/>
<ellipse cx="468.54" cy="189.47" rx="3.51" ry="2.04" fill="#f0c8e8" opacity="0.22" transform="rotate(116 468.54 189.47)"/>
<ellipse cx="446.61" cy="179.16" rx="2.81" ry="2.02" fill="#f0c8e8" opacity="0.19" transform="rotate(99 446.61 179.16)"/>
<ellipse cx="464.49" cy="178.91" rx="1.88" ry="2.47" fill="#6040a8" opacity="0.28" transform="rotate(139 464.49 178.91)"/>
<path d="M446.97 187.09h0.83v0.83h-0.83zM457.8 194.8h1.5v1.5h-1.5zM469.26 179.92h0.83v0.83h-0.83zM451.27 178.25h0.98v0.98h-0.98zM463.12 194.26h0.83v0.83h-0.83zM456.62 187.22h1.29v1.29h-1.29zM459.04 191.1h1.4v1.4h-1.4zM456.4 196.58h1.38v1.38h-1.38zM447.93 200.9h0.99v0.99h-0.99zM470.63 197.13h1.39v1.39h-1.39zM448.36 181.67h0.83v0.83h-0.83zM469.76 176.07h1.36v1.36h-1.36zM446.94 176.65h1.38v1.38h-1.38zM453.33 186.03h1.26v1.26h-1.26zM451.47 192.04h1.31v1.31h-1.31zM446.57 178.16h1.21v1.21h-1.21zM454.07 198.18h0.82v0.82h-0.82zM465.18 198.52h0.86v0.86h-0.86zM463.26 197.23h1.39v1.39h-1.39zM459.79 179.96h1.29v1.29h-1.29zM462.99 176.34h1.02v1.02h-1.02zM455.87 185.48h1.31v1.31h-1.31zM450.87 198.65h1.22v1.22h-1.22zM460.35 199.01h0.85v0.85h-0.85zM457.39 194.58h1.11v1.11h-1.11zM467.31 188.56h1.26v1.26h-1.26zM449.13 178.77h1.23v1.23h-1.23zM447.17 196.01h1.1v1.1h-1.1zM454.75 200.09h0.85v0.85h-0.85zM468.6 186.36h1.2v1.2h-1.2zM457.97 193.16h1.01v1.01h-1.01zM462.76 189.82h1.39v1.39h-1.39zM449.66 200.01h1.19v1.19h-1.19zM449.65 199.37h1.05v1.05h-1.05zM460.09 193.81h1.31v1.31h-1.31zM462.08 188.06h1.03v1.03h-1.03zM462.77 198.08h1.13v1.13h-1.13zM466.78 181.65h1.34v1.34h-1.34zM469.13 181.7h1.44v1.44h-1.44zM451.6 178.81h0.86v0.86h-0.86zM457.69 198.05h1.32v1.32h-1.32zM454.72 187.89h1.14v1.14h-1.14zM469.79 192.71h1.15v1.15h-1.15zM452.37 191.06h1.17v1.17h-1.17zM466.28 178.66h0.93v0.93h-0.93z" fill="#6040a8" opacity="0.8" filter="url(#nb)"/>
<path d="M446.3 183.83L471.4 177.56" stroke="#f0c8e8" stroke-width="1.5" fill="none" stroke-linecap="round" opacity="0.8" filter="url(#nb)"/>
<path d="M448.81 198.89L471.4 188.85" stroke="#f0c0e4" stroke-width="1.5" fill="none" stroke-linecap="round" opacity="0.8" filter="url(#nb)"/>
<circle cx="460.85" cy="194.18" r="0.44" fill="#5a3aa0" opacity="0.85"/>
<circle cx="459.06" cy="189.71" r="0.41" fill="#5a3aa0" opacity="0.85"/>
<circle cx="456.25" cy="193.57" r="0.33" fill="#5a3aa0" opacity="0.85"/>
<circle cx="456.13" cy="195.38" r="0.43" fill="#5a3aa0" opacity="0.85"/>
<circle cx="458.5" cy="191.3" r="0.35" fill="#5a3aa0" opacity="0.85"/>
<circle cx="458.32" cy="193.72" r="0.35" fill="#5a3aa0" opacity="0.85"/>
<circle cx="455.28" cy="192.04" r="0.33" fill="#5a3aa0" opacity="0.85"/>
<circle cx="458.38" cy="191.22" r="0.35" fill="#5a3aa0" opacity="0.85"/>
<circle cx="454.66" cy="195.86" r="0.57" fill="#5a3aa0" opacity="0.85"/>
<circle cx="455.37" cy="192.76" r="0.44" fill="#5a3aa0" opacity="0.85"/>
</g>
<rect x="446.3" y="176.3" width="25.1" height="25.1" fill="none" stroke="#222" stroke-width="0.9"/>
<clipPath id="tc22"><rect x="446.3" y="206.9" width="25.1" height="25.1"/></clipPath><g clip-path="url(#tc22)">
<rect x="446.3" y="206.9" width="25.1" height="25.1" fill="#d890c8"/>
<ellipse cx="460.89" cy="211.79" rx="3.81" ry="1.59" fill="#6040a8" opacity="0.28" transform="rotate(54 460.89 211.79)"/>
<ellipse cx="461.41" cy="229.93" rx="3.46" ry="1.36" fill="#f0c8e8" opacity="0.24" transform="rotate(65 461.41 229.93)"/>
<ellipse cx="451.15" cy="209.13" rx="2.42" ry="1.6" fill="#6040a8" opacity="0.22" transform="rotate(163 451.15 209.13)"/>
<ellipse cx="466.16" cy="217.5" rx="2.67" ry="1.16" fill="#f0c8e8" opacity="0.28" transform="rotate(159 466.16 217.5)"/>
<ellipse cx="463.37" cy="223.59" rx="2.49" ry="1.44" fill="#6040a8" opacity="0.23" transform="rotate(103 463.37 223.59)"/>
<ellipse cx="464.99" cy="217.4" rx="2.04" ry="0.96" fill="#6040a8" opacity="0.31" transform="rotate(94 464.99 217.4)"/>
<ellipse cx="463.99" cy="207.14" rx="1.88" ry="0.86" fill="#6040a8" opacity="0.19" transform="rotate(16 463.99 207.14)"/>
<ellipse cx="465.47" cy="217.06" rx="3.57" ry="2.32" fill="#6040a8" opacity="0.26" transform="rotate(42 465.47 217.06)"/>
<ellipse cx="458.81" cy="228.89" rx="3.67" ry="1.97" fill="#f0c8e8" opacity="0.29" transform="rotate(1 458.81 228.89)"/>
<ellipse cx="470.24" cy="208.56" rx="2.84" ry="1.99" fill="#6040a8" opacity="0.24" transform="rotate(30 470.24 208.56)"/>
<ellipse cx="463.26" cy="222.21" rx="2.65" ry="1.88" fill="#6040a8" opacity="0.29" transform="rotate(51 463.26 222.21)"/>
<ellipse cx="464.83" cy="229.3" rx="3.72" ry="1.04" fill="#f0c8e8" opacity="0.34" transform="rotate(79 464.83 229.3)"/>
<ellipse cx="454.77" cy="208.6" rx="3.22" ry="1.4" fill="#6040a8" opacity="0.16" transform="rotate(71 454.77 208.6)"/>
<ellipse cx="463.34" cy="215.12" rx="1.89" ry="1.59" fill="#f0c8e8" opacity="0.23" transform="rotate(134 463.34 215.12)"/>
<path d="M470.43 229.04h1.02v1.02h-1.02zM448.38 222.87h1.42v1.42h-1.42zM446.3 222.36h1.4v1.4h-1.4zM457.42 220.78h1.36v1.36h-1.36zM451.94 213.4h1.26v1.26h-1.26zM459.75 219.93h1.03v1.03h-1.03zM469.33 213.77h1.28v1.28h-1.28zM468.26 216.58h0.84v0.84h-0.84zM451.49 208.25h0.9v0.9h-0.9zM449 215.13h1.06v1.06h-1.06zM457.14 223.16h1.27v1.27h-1.27zM463.11 215.67h1.26v1.26h-1.26zM459.69 209.78h1.18v1.18h-1.18zM453.93 223.43h1.31v1.31h-1.31zM451.99 217.43h1.12v1.12h-1.12zM453.39 207.61h0.83v0.83h-0.83zM470.72 225.02h1.11v1.11h-1.11zM462.6 213.3h1.3v1.3h-1.3zM469.68 225.85h1.13v1.13h-1.13zM470.49 229.56h0.84v0.84h-0.84zM456.25 217.86h0.99v0.99h-0.99zM461.35 210.17h1.32v1.32h-1.32zM467.36 208.13h1.28v1.28h-1.28zM452.62 222.49h1.28v1.28h-1.28zM470.32 226.47h1.04v1.04h-1.04zM464.18 210.26h1.3v1.3h-1.3zM456.39 213.2h0.97v0.97h-0.97zM451.4 226.43h0.87v0.87h-0.87zM451.79 211.39h0.91v0.91h-0.91zM464.18 221.22h1.27v1.27h-1.27zM468.42 217.77h0.83v0.83h-0.83zM450.71 219.46h1.3v1.3h-1.3zM468.87 219.33h0.96v0.96h-0.96zM460.76 229.87h1.03v1.03h-1.03zM469.18 229.1h1.2v1.2h-1.2zM457.98 209.81h0.88v0.88h-0.88zM447.02 221.82h1.3v1.3h-1.3zM470.74 221.6h1.5v1.5h-1.5zM456.03 209.93h0.84v0.84h-0.84zM453.18 219.82h1.49v1.49h-1.49zM453.4 212.46h1.31v1.31h-1.31zM455.67 220.5h0.91v0.91h-0.91zM467.25 229.49h1.33v1.33h-1.33zM469.3 214.88h0.82v0.82h-0.82zM453.59 228.96h1.13v1.13h-1.13zM450.99 210.36h0.91v0.91h-0.91zM456.93 229.65h1.42v1.42h-1.42zM464.87 225.43h0.93v0.93h-0.93zM465.36 212.18h1.17v1.17h-1.17zM446.83 228.82h0.89v0.89h-0.89zM460.76 223.09h1.25v1.25h-1.25zM462.99 215.8h1.35v1.35h-1.35zM469.37 221.97h1.49v1.49h-1.49zM467.16 207.98h1.27v1.27h-1.27zM448.28 223.07h1.06v1.06h-1.06zM467.28 207.71h1.46v1.46h-1.46zM447.08 208.01h0.8v0.8h-0.8zM449.12 231.16h1.38v1.38h-1.38zM468.83 211.24h1.28v1.28h-1.28zM465.8 224.7h0.99v0.99h-0.99zM470.17 224.73h1.28v1.28h-1.28zM453.09 216.49h1.33v1.33h-1.33zM458.86 218.75h1.44v1.44h-1.44zM456.47 227.99h0.83v0.83h-0.83zM459.21 224.35h0.81v0.81h-0.81zM463.34 213.72h1.24v1.24h-1.24zM461.52 210h1.46v1.46h-1.46zM452.04 210h1.11v1.11h-1.11zM447.59 209.12h1.33v1.33h-1.33zM448.43 220.08h1.42v1.42h-1.42zM457.3 226.88h1.38v1.38h-1.38zM450.1 208.5h1.35v1.35h-1.35zM467.57 227.84h1.3v1.3h-1.3zM458.7 230.45h1.32v1.32h-1.32zM465 229.3h0.84v0.84h-0.84zM464.46 221.15h0.81v0.81h-0.81zM452.36 224.43h1.17v1.17h-1.17zM460 213.75h1.2v1.2h-1.2zM467.88 231h1.19v1.19h-1.19zM464.21 208.77h0.9v0.9h-0.9zM459.93 227.18h0.88v0.88h-0.88zM449.67 219.05h1.01v1.01h-1.01zM449.5 210.55h1.1v1.1h-1.1zM465.74 210.87h1.36v1.36h-1.36zM447.86 212.85h1.27v1.27h-1.27zM446.18 214.62h0.91v0.91h-0.91zM451.74 228.68h0.91v0.91h-0.91zM463.93 229.26h0.97v0.97h-0.97zM467.48 214.58h1.34v1.34h-1.34zM460.46 215.33h1.42v1.42h-1.42z" fill="#6040a8" opacity="0.8" filter="url(#nb)"/>
<path d="M446.3 216.94L458.85 211.92" stroke="#f0c8e8" stroke-width="1.5" fill="none" stroke-linecap="round" opacity="0.8" filter="url(#nb)"/>
</g>
<rect x="446.3" y="206.9" width="25.1" height="25.1" fill="none" stroke="#222" stroke-width="0.9"/>
<clipPath id="tc23"><rect x="446.3" y="237.1" width="25.1" height="25.8"/></clipPath><g clip-path="url(#tc23)">
<rect x="446.3" y="237.1" width="25.1" height="25.8" fill="#cc92cc"/>
<ellipse cx="450.02" cy="252.99" rx="3.28" ry="1.83" fill="#f0c8e8" opacity="0.23" transform="rotate(158 450.02 252.99)"/>
<ellipse cx="457.07" cy="252.1" rx="2.86" ry="2.07" fill="#4a2a98" opacity="0.33" transform="rotate(47 457.07 252.1)"/>
<ellipse cx="464.76" cy="246.83" rx="1.82" ry="2.18" fill="#f0c8e8" opacity="0.29" transform="rotate(155 464.76 246.83)"/>
<ellipse cx="460.74" cy="260.28" rx="3.29" ry="1.69" fill="#4a2a98" opacity="0.25" transform="rotate(105 460.74 260.28)"/>
<ellipse cx="462.12" cy="254.39" rx="1.73" ry="1.37" fill="#f0c8e8" opacity="0.29" transform="rotate(130 462.12 254.39)"/>
<ellipse cx="457.03" cy="252.66" rx="1.83" ry="2.17" fill="#4a2a98" opacity="0.22" transform="rotate(18 457.03 252.66)"/>
<ellipse cx="461.08" cy="253.39" rx="2.9" ry="1.55" fill="#f0c8e8" opacity="0.28" transform="rotate(68 461.08 253.39)"/>
<ellipse cx="467.01" cy="253.59" rx="3.87" ry="1.56" fill="#f0c8e8" opacity="0.28" transform="rotate(130 467.01 253.59)"/>
<ellipse cx="463.45" cy="247.18" rx="3" ry="2.36" fill="#4a2a98" opacity="0.27" transform="rotate(136 463.45 247.18)"/>
<ellipse cx="467.31" cy="246.64" rx="1.8" ry="1.61" fill="#f0c8e8" opacity="0.32" transform="rotate(78 467.31 246.64)"/>
<ellipse cx="448.12" cy="259.24" rx="2.46" ry="1.23" fill="#4a2a98" opacity="0.29" transform="rotate(44 448.12 259.24)"/>
<ellipse cx="451.65" cy="248.65" rx="2.05" ry="1.51" fill="#4a2a98" opacity="0.18" transform="rotate(122 451.65 248.65)"/>
<ellipse cx="459.65" cy="237.36" rx="2.19" ry="1" fill="#f0c8e8" opacity="0.31" transform="rotate(1 459.65 237.36)"/>
<ellipse cx="456.78" cy="245.3" rx="2.54" ry="1.21" fill="#4a2a98" opacity="0.19" transform="rotate(76 456.78 245.3)"/>
<path d="M466.75 254.2h0.82v0.82h-0.82zM450.67 256.82h1.36v1.36h-1.36zM460.23 242.1h1.32v1.32h-1.32zM452.45 260.9h1.43v1.43h-1.43zM463.79 253.94h1.34v1.34h-1.34zM469.04 254.24h0.9v0.9h-0.9zM452.34 247.21h0.93v0.93h-0.93zM456.63 260.95h0.97v0.97h-0.97zM449.95 238.67h0.89v0.89h-0.89zM448.8 240.82h1.28v1.28h-1.28zM450.07 241.59h1.35v1.35h-1.35zM463.31 253.93h1.44v1.44h-1.44zM449.38 254.97h1.08v1.08h-1.08zM464.45 238.71h1.33v1.33h-1.33zM459.53 248.79h1.35v1.35h-1.35zM462.97 257.11h1.3v1.3h-1.3zM452.49 261.87h1.43v1.43h-1.43zM449.76 262.39h1.49v1.49h-1.49zM450.89 239.1h1.19v1.19h-1.19zM451.04 248.2h0.98v0.98h-0.98zM457.97 251.63h0.91v0.91h-0.91zM452.32 239.34h1.29v1.29h-1.29zM464.68 241.51h0.98v0.98h-0.98zM468.54 257.05h1.29v1.29h-1.29zM449.04 257.64h1.26v1.26h-1.26zM468.9 256.69h1.29v1.29h-1.29zM467.6 246.97h1.25v1.25h-1.25zM456.49 257.15h1.33v1.33h-1.33zM452.84 243.48h1.11v1.11h-1.11zM451.18 253.99h1.08v1.08h-1.08zM447 253.77h1.04v1.04h-1.04zM459.37 255.28h1.22v1.22h-1.22zM465.17 248.46h0.95v0.95h-0.95zM469.6 237.46h0.88v0.88h-0.88zM469.76 244.49h1.31v1.31h-1.31zM446.55 260.47h1.48v1.48h-1.48zM463.62 238.34h0.94v0.94h-0.94zM464.2 261.93h1.46v1.46h-1.46zM461.89 243.31h0.93v0.93h-0.93zM452.88 261.31h1.28v1.28h-1.28zM468.81 241.85h0.88v0.88h-0.88zM451.06 253.32h0.88v0.88h-0.88zM459.76 257.72h1.39v1.39h-1.39zM453.21 249.96h0.93v0.93h-0.93zM448 255.43h1.18v1.18h-1.18zM451.91 252.05h0.99v0.99h-0.99zM468.53 236.86h0.94v0.94h-0.94zM466.6 252.06h1.08v1.08h-1.08zM461.22 252.2h1.29v1.29h-1.29zM464.1 249.35h1.16v1.16h-1.16zM466.14 237.4h1.43v1.43h-1.43zM458.54 260.99h0.97v0.97h-0.97zM456.45 256.83h1.44v1.44h-1.44zM469.93 247.65h1.32v1.32h-1.32zM458.45 242.78h1.47v1.47h-1.47zM446.37 254.4h0.87v0.87h-0.87zM446.28 258.7h1.15v1.15h-1.15zM461.59 237.8h0.93v0.93h-0.93zM451.12 242.94h1.07v1.07h-1.07zM459.29 260.11h1.15v1.15h-1.15zM448.05 250.35h1.37v1.37h-1.37zM463.64 260.52h1.45v1.45h-1.45zM455.49 247.61h0.82v0.82h-0.82zM470.06 237.54h1.13v1.13h-1.13zM465 262.01h1.45v1.45h-1.45zM452.75 253.77h0.87v0.87h-0.87zM468.65 243.71h0.93v0.93h-0.93zM465.35 240.42h1.46v1.46h-1.46zM455.51 253.33h0.93v0.93h-0.93zM468.14 247.59h1.05v1.05h-1.05zM468.48 244.17h1.17v1.17h-1.17zM466.75 248.64h1.39v1.39h-1.39zM458.71 237.01h1.35v1.35h-1.35zM468.89 246.36h0.82v0.82h-0.82zM449 260.5h1.49v1.49h-1.49zM467.55 256.89h1.48v1.48h-1.48zM466.03 260.41h0.81v0.81h-0.81zM464.55 248.52h0.9v0.9h-0.9zM468.1 239.57h1.18v1.18h-1.18zM449.63 249.27h1.06v1.06h-1.06zM446.44 258.54h1.33v1.33h-1.33zM451.16 253.98h1.37v1.37h-1.37zM456.35 254.43h1.31v1.31h-1.31zM463.35 241.48h1.04v1.04h-1.04zM448.22 250.19h1.14v1.14h-1.14zM450.39 238.7h1.32v1.32h-1.32zM462.94 238.2h1.47v1.47h-1.47zM462.93 251.28h1.01v1.01h-1.01zM460.97 257.97h1.23v1.23h-1.23zM452.02 253.26h1.25v1.25h-1.25zM453.46 248.78h1.02v1.02h-1.02zM449.43 253.73h1.23v1.23h-1.23zM448.3 247.05h1.04v1.04h-1.04zM462 244.21h1.4v1.4h-1.4zM452.98 255.32h1.15v1.15h-1.15zM452.21 250.11h1.1v1.1h-1.1zM446.8 256.46h0.82v0.82h-0.82zM462.82 261.92h1.14v1.14h-1.14zM466.73 259.34h0.82v0.82h-0.82zM461.32 242.32h1.36v1.36h-1.36zM451.53 250.8h0.92v0.92h-0.92zM457.21 251.76h1.4v1.4h-1.4zM450.03 256.42h1.3v1.3h-1.3zM457.92 251.66h1.44v1.44h-1.44zM465.8 256.78h0.83v0.83h-0.83zM469.06 247.48h0.95v0.95h-0.95zM457.28 260.23h1.12v1.12h-1.12zM455.56 244.06h1.03v1.03h-1.03zM447.82 242.33h1.17v1.17h-1.17zM449.81 246.97h1.25v1.25h-1.25zM465.96 258.46h1.14v1.14h-1.14zM468.54 243.06h1.2v1.2h-1.2zM460.98 254.84h1.15v1.15h-1.15zM455.98 242.85h0.97v0.97h-0.97zM452.88 256.21h1.15v1.15h-1.15zM466.61 254.36h1.36v1.36h-1.36zM451.8 261.85h0.93v0.93h-0.93zM460.55 262.37h1.03v1.03h-1.03zM459.11 247.14h1.24v1.24h-1.24zM452.85 262.01h1.31v1.31h-1.31zM453.02 238.96h1.33v1.33h-1.33zM451.78 249.68h1.08v1.08h-1.08zM458.88 259.04h0.82v0.82h-0.82zM448.72 247.1h1.15v1.15h-1.15zM448.13 254h0.97v0.97h-0.97zM466.82 261.94h0.96v0.96h-0.96zM465.75 238.2h1.31v1.31h-1.31zM448.79 244.87h0.91v0.91h-0.91zM468.11 242.25h1.32v1.32h-1.32zM450.23 257.66h1.4v1.4h-1.4zM464.6 257.47h0.97v0.97h-0.97zM461.81 255.59h0.98v0.98h-0.98zM449.34 241.62h1.47v1.47h-1.47zM465.49 257.57h1.4v1.4h-1.4zM452.46 245.6h0.99v0.99h-0.99zM453.96 241.78h1.24v1.24h-1.24zM466.69 245.39h1.29v1.29h-1.29zM465.45 237.55h1.07v1.07h-1.07zM460.41 258.57h0.94v0.94h-0.94zM449.09 244.68h0.88v0.88h-0.88zM458.19 247.83h1.28v1.28h-1.28zM451.54 254.76h1.02v1.02h-1.02zM457.3 250.51h0.95v0.95h-0.95zM451.3 248.15h1.06v1.06h-1.06zM458.84 245.5h1.18v1.18h-1.18zM469.83 254.04h0.81v0.81h-0.81zM455.43 240.05h1.18v1.18h-1.18zM464.76 261.73h1.02v1.02h-1.02zM453.47 261.91h1.44v1.44h-1.44zM454.9 251.15h1.12v1.12h-1.12z" fill="#4a2a98" opacity="0.8" filter="url(#nb)"/>
<polygon points="453.83,264.19 458.85,257.74 466.38,259.03 468.89,264.19" fill="#ecd8ec" />
<circle cx="457.72" cy="255.06" r="0.37" fill="#4a2a90" opacity="0.85"/>
<circle cx="451.4" cy="246.04" r="0.69" fill="#4a2a90" opacity="0.85"/>
<circle cx="458.78" cy="247.15" r="0.68" fill="#4a2a90" opacity="0.85"/>
<circle cx="460.45" cy="254.25" r="0.47" fill="#4a2a90" opacity="0.85"/>
<circle cx="461.35" cy="254.37" r="0.5" fill="#4a2a90" opacity="0.85"/>
<circle cx="452.26" cy="254.67" r="0.5" fill="#4a2a90" opacity="0.85"/>
<circle cx="458.69" cy="245.84" r="0.5" fill="#4a2a90" opacity="0.85"/>
<circle cx="456.85" cy="247.27" r="0.5" fill="#4a2a90" opacity="0.85"/>
<circle cx="460.25" cy="247.5" r="0.72" fill="#4a2a90" opacity="0.85"/>
<circle cx="460.08" cy="246.82" r="0.54" fill="#4a2a90" opacity="0.85"/>
<circle cx="453.22" cy="245.33" r="0.67" fill="#4a2a90" opacity="0.85"/>
<circle cx="454.97" cy="253.31" r="0.47" fill="#4a2a90" opacity="0.85"/>
</g>
<rect x="446.3" y="237.1" width="25.1" height="25.8" fill="none" stroke="#222" stroke-width="0.9"/>
<clipPath id="tc24"><rect x="446.3" y="267.7" width="25.1" height="25.2"/></clipPath><g clip-path="url(#tc24)">
<rect x="446.3" y="267.7" width="25.1" height="25.2" fill="#c08ccc"/>
<ellipse cx="470.87" cy="279.2" rx="3.34" ry="1.17" fill="#4a2a98" opacity="0.17" transform="rotate(154 470.87 279.2)"/>
<ellipse cx="464.85" cy="284.19" rx="2.35" ry="1.95" fill="#f0c8e8" opacity="0.25" transform="rotate(33 464.85 284.19)"/>
<ellipse cx="451.88" cy="288.57" rx="2.06" ry="0.98" fill="#f0c8e8" opacity="0.18" transform="rotate(133 451.88 288.57)"/>
<ellipse cx="453.67" cy="286.5" rx="2.95" ry="1.94" fill="#4a2a98" opacity="0.2" transform="rotate(168 453.67 286.5)"/>
<ellipse cx="460.67" cy="288.54" rx="2.42" ry="1.79" fill="#f0c8e8" opacity="0.34" transform="rotate(158 460.67 288.54)"/>
<ellipse cx="459.1" cy="288.51" rx="3.77" ry="2.09" fill="#4a2a98" opacity="0.26" transform="rotate(117 459.1 288.51)"/>
<ellipse cx="459.57" cy="285.55" rx="2.7" ry="1.05" fill="#f0c8e8" opacity="0.23" transform="rotate(64 459.57 285.55)"/>
<ellipse cx="469.38" cy="279.83" rx="3.6" ry="1.92" fill="#f0c8e8" opacity="0.31" transform="rotate(78 469.38 279.83)"/>
<ellipse cx="458.48" cy="292.8" rx="2.91" ry="2.11" fill="#4a2a98" opacity="0.29" transform="rotate(74 458.48 292.8)"/>
<ellipse cx="446.8" cy="279.73" rx="2.45" ry="2.04" fill="#4a2a98" opacity="0.2" transform="rotate(16 446.8 279.73)"/>
<ellipse cx="450.73" cy="287.32" rx="2.24" ry="0.82" fill="#f0c8e8" opacity="0.2" transform="rotate(60 450.73 287.32)"/>
<ellipse cx="461.92" cy="273.47" rx="2.95" ry="1.9" fill="#f0c8e8" opacity="0.23" transform="rotate(122 461.92 273.47)"/>
<ellipse cx="457.7" cy="269.94" rx="1.59" ry="1.27" fill="#f0c8e8" opacity="0.28" transform="rotate(59 457.7 269.94)"/>
<ellipse cx="459.76" cy="292.41" rx="3.8" ry="1.11" fill="#f0c8e8" opacity="0.22" transform="rotate(152 459.76 292.41)"/>
<path d="M446.81 282.76h1.41v1.41h-1.41zM469.51 284.45h1.04v1.04h-1.04zM454.27 283.18h0.85v0.85h-0.85zM446.7 289.44h1.24v1.24h-1.24zM450.06 278.12h1v1h-1zM467.65 274.56h1.31v1.31h-1.31zM464.52 275.37h0.98v0.98h-0.98zM458.98 277.39h1.22v1.22h-1.22zM454.17 287.26h1.09v1.09h-1.09zM449.39 286.76h1.43v1.43h-1.43zM462.96 281.06h1.41v1.41h-1.41zM469.25 267.63h1.14v1.14h-1.14zM446.47 275.74h0.97v0.97h-0.97zM457.49 284.33h1.4v1.4h-1.4zM452.49 267.69h1.5v1.5h-1.5zM465.47 281.16h0.88v0.88h-0.88zM447.3 290.75h1.17v1.17h-1.17zM467.42 286.99h1.33v1.33h-1.33zM466.05 273.73h0.97v0.97h-0.97zM456.8 286.59h1.36v1.36h-1.36zM464.86 281.89h1.13v1.13h-1.13zM450.84 284.07h1.26v1.26h-1.26zM458.81 285.57h1.49v1.49h-1.49zM469.5 270.08h1v1h-1zM461.26 284.64h1v1h-1zM469.18 278.92h1.34v1.34h-1.34zM447.3 274.38h0.82v0.82h-0.82zM465.7 280.45h1.47v1.47h-1.47zM461.11 275.53h1.05v1.05h-1.05zM455.34 272.35h0.88v0.88h-0.88zM462.18 275.25h1.12v1.12h-1.12zM463.66 274.25h1.11v1.11h-1.11zM454.06 275.5h1.27v1.27h-1.27zM448.45 277.39h0.88v0.88h-0.88zM462.68 274.85h1.48v1.48h-1.48zM458.02 283.95h1.17v1.17h-1.17zM466.41 284.92h1.25v1.25h-1.25zM446.8 270.95h1.33v1.33h-1.33zM456.26 291.79h1.25v1.25h-1.25zM466.5 286.03h1.47v1.47h-1.47zM462.38 290.84h1.1v1.1h-1.1zM452.66 270.16h0.98v0.98h-0.98zM468.27 283.85h0.83v0.83h-0.83zM446.69 278.91h1.18v1.18h-1.18zM454.99 267.89h0.98v0.98h-0.98zM467.83 285.53h1.37v1.37h-1.37zM452.71 284.09h0.94v0.94h-0.94zM453.51 291.31h0.95v0.95h-0.95zM453.28 272.84h1.41v1.41h-1.41zM463.11 282.17h1.4v1.4h-1.4zM457.54 290.3h1.34v1.34h-1.34zM453.46 273.3h1.18v1.18h-1.18zM457.11 287.15h1.26v1.26h-1.26zM464.49 282.48h0.98v0.98h-0.98zM464.52 291.94h1.25v1.25h-1.25zM463.7 273.24h0.88v0.88h-0.88zM457.16 282.24h1.31v1.31h-1.31zM457.8 280.99h0.86v0.86h-0.86zM447.19 270.44h1.02v1.02h-1.02zM452.06 270.97h1.04v1.04h-1.04zM454.39 288h1.45v1.45h-1.45zM470.75 285.83h0.81v0.81h-0.81zM451.93 292.37h1.29v1.29h-1.29zM467.36 272.39h0.97v0.97h-0.97zM448.44 280.52h1.06v1.06h-1.06zM457.72 270.86h0.82v0.82h-0.82zM455.62 290.56h1.26v1.26h-1.26zM460.23 268.98h1.1v1.1h-1.1zM455.19 283.17h1.08v1.08h-1.08zM465.96 274.27h1.31v1.31h-1.31zM446.12 271.06h1.36v1.36h-1.36zM467.25 274.99h0.94v0.94h-0.94zM469.93 282.2h0.86v0.86h-0.86zM470.62 281.55h1.01v1.01h-1.01zM458.6 276.64h1.2v1.2h-1.2zM456.3 276.8h1.31v1.31h-1.31zM453.6 288.16h1.32v1.32h-1.32zM469.49 271.25h1.4v1.4h-1.4zM463.76 271.96h1.44v1.44h-1.44zM458.51 271.85h0.95v0.95h-0.95zM470.88 287.46h0.96v0.96h-0.96zM468.22 268.35h1.29v1.29h-1.29zM461.76 289.13h1.44v1.44h-1.44zM464.22 288.49h1.12v1.12h-1.12zM469.24 278.15h1.31v1.31h-1.31zM464.7 277.51h1.37v1.37h-1.37zM463.89 271.38h1.21v1.21h-1.21zM458.09 282.3h0.82v0.82h-0.82zM463.46 277.33h1.32v1.32h-1.32zM452.01 267.91h1.13v1.13h-1.13zM461.91 286.86h1.18v1.18h-1.18zM467.92 271.49h0.89v0.89h-0.89zM456.04 283.84h1.34v1.34h-1.34zM447.62 282.36h1.04v1.04h-1.04zM459.15 269.86h0.91v0.91h-0.91zM461.86 275.92h1.48v1.48h-1.48zM458.62 276.14h0.93v0.93h-0.93zM459.11 280.18h0.98v0.98h-0.98zM470.13 280.12h1.34v1.34h-1.34zM463.04 288.21h0.87v0.87h-0.87zM469.97 282.35h0.92v0.92h-0.92zM460.81 268.83h1.1v1.1h-1.1zM448.43 268.61h1.12v1.12h-1.12zM466.89 286.37h1.45v1.45h-1.45zM465.4 282.84h1.22v1.22h-1.22zM469.87 270.64h1.16v1.16h-1.16zM459.57 267.76h1.41v1.41h-1.41zM462.93 275.89h1.36v1.36h-1.36zM457.87 285.56h1.18v1.18h-1.18zM467.42 280.02h0.86v0.86h-0.86zM465 273.17h1.2v1.2h-1.2zM469.24 285.49h0.85v0.85h-0.85zM466.89 291.56h1.13v1.13h-1.13zM452.34 278.99h1.17v1.17h-1.17zM447.16 288.58h1.25v1.25h-1.25zM455.97 287.77h0.92v0.92h-0.92zM468.16 288.88h1.13v1.13h-1.13zM448.81 278.61h0.87v0.87h-0.87zM459.65 270.96h1.16v1.16h-1.16zM456.19 275.48h1.21v1.21h-1.21zM459.3 289.45h1.11v1.11h-1.11zM460.31 285.59h0.91v0.91h-0.91zM459.38 271.91h1.15v1.15h-1.15zM458.67 290.05h1.47v1.47h-1.47zM453.59 288.74h1.06v1.06h-1.06zM452.23 282.31h1.01v1.01h-1.01zM469.56 289.93h0.82v0.82h-0.82zM470.51 289.61h0.9v0.9h-0.9zM462.44 281.35h0.91v0.91h-0.91zM463.56 267.65h1.04v1.04h-1.04zM458.63 287.46h1.08v1.08h-1.08zM453.16 279.14h1.18v1.18h-1.18zM455.96 269.81h1.39v1.39h-1.39zM451.13 272.07h0.95v0.95h-0.95zM470.01 269.33h1.24v1.24h-1.24zM460.24 273.09h1.35v1.35h-1.35zM450.45 270.25h0.82v0.82h-0.82zM462.46 268.71h1.23v1.23h-1.23zM462.35 269.97h1.48v1.48h-1.48zM449.4 275.57h1.36v1.36h-1.36zM452.65 286.87h1.29v1.29h-1.29zM464.89 276.79h0.99v0.99h-0.99zM457.7 282.99h0.82v0.82h-0.82zM448.29 274.21h0.84v0.84h-0.84zM464.78 291.71h1.16v1.16h-1.16zM454.28 278.05h1.41v1.41h-1.41zM464.01 281.36h1.25v1.25h-1.25zM468.76 282.88h0.95v0.95h-0.95zM468.14 268.5h0.9v0.9h-0.9zM450.83 276.97h1.2v1.2h-1.2zM466.58 273.76h1.41v1.41h-1.41zM470.78 289.23h1.37v1.37h-1.37zM460.11 278.72h0.91v0.91h-0.91zM455.56 273.01h1.05v1.05h-1.05zM447.74 291.49h1.09v1.09h-1.09zM448.3 270.56h1.11v1.11h-1.11zM447.94 284.2h1.01v1.01h-1.01zM461.95 275.9h1.07v1.07h-1.07zM467.96 278.84h1.44v1.44h-1.44zM462.83 286.1h1.31v1.31h-1.31zM459.97 275.25h1.28v1.28h-1.28zM446.9 273.58h1.36v1.36h-1.36zM467.03 267.94h1.35v1.35h-1.35zM457.2 272.7h1.44v1.44h-1.44zM460.35 273.6h1.44v1.44h-1.44zM447.63 285.06h1.31v1.31h-1.31zM464.37 279.22h1.01v1.01h-1.01zM451.47 286.39h1.15v1.15h-1.15zM446.67 284.76h1.31v1.31h-1.31zM465.69 279.29h1.28v1.28h-1.28zM461.1 287.2h0.99v0.99h-0.99zM451.44 288.41h0.98v0.98h-0.98zM446.49 284.41h1.35v1.35h-1.35zM467.54 291.99h0.85v0.85h-0.85zM469.52 274.5h0.89v0.89h-0.89zM453.04 269.67h0.8v0.8h-0.8zM449.68 281.33h0.84v0.84h-0.84zM464.92 267.46h0.95v0.95h-0.95zM450.15 270.32h0.8v0.8h-0.8zM458.68 269.12h0.88v0.88h-0.88zM446.03 288.22h0.91v0.91h-0.91zM456.23 286.75h0.9v0.9h-0.9zM455.01 288.24h1.24v1.24h-1.24zM449.37 280.41h1.38v1.38h-1.38zM459.43 274.22h0.95v0.95h-0.95zM468.53 277.2h0.94v0.94h-0.94zM452.85 282.32h1.4v1.4h-1.4zM462.44 282.6h1.05v1.05h-1.05zM451.85 284.27h1.05v1.05h-1.05zM453.43 285.97h1.44v1.44h-1.44z" fill="#4a2a98" opacity="0.8" filter="url(#nb)"/>
<path d="M448.81 272.74L466.38 282.82" stroke="#e0b0e4" stroke-width="1.3" fill="none" stroke-linecap="round" opacity="0.8" filter="url(#nb)"/>
</g>
<rect x="446.3" y="267.7" width="25.1" height="25.2" fill="none" stroke="#222" stroke-width="0.9"/>
<text x="491.5" y="177.4" font-size="8.8" font-weight="bold" fill="#000" dominant-baseline="central">c</text>
<rect x="569.6" y="174.5" width="10.9" height="5" fill="#f6d5d8" stroke="#777" stroke-width="0.4"/>
<text x="583.6" y="176.9" font-size="5.8" text-anchor="start" font-weight="normal" font-style="normal" fill="#111" stroke="#111" stroke-width="0.12" dominant-baseline="central">w/o</text>
<rect x="594.5" y="174.5" width="11.3" height="5" fill="#de7c7f" stroke="#777" stroke-width="0.4"/>
<text x="608.7" y="176.9" font-size="5.8" text-anchor="start" font-weight="normal" font-style="normal" fill="#111" stroke="#111" stroke-width="0.12" dominant-baseline="central">with</text>
<line x1="592.6" y1="181.3" x2="592.6" y2="300.5" stroke="#ccc" stroke-width="0.6"/>
<rect x="528.5" y="230.5" width="24.2" height="70" fill="#f6d7d9" stroke="#6a5a5a" stroke-width="0.6"/>
<rect x="558.5" y="211.5" width="24.2" height="89" fill="#de7c7f" stroke="#6a5a5a" stroke-width="0.6"/>
<rect x="602.5" y="281.4" width="24.2" height="19.1" fill="#f6d7d9" stroke="#6a5a5a" stroke-width="0.6"/>
<rect x="632.5" y="211.5" width="24.2" height="89" fill="#de7c7f" stroke="#6a5a5a" stroke-width="0.6"/>
<path d="M666.6 181.3V300.5" stroke="#aaa" stroke-width="0.8" fill="none"/>
<path d="M666.6 181.3H518.3V300.5H666.6" stroke="#555" stroke-width="0.8" fill="none"/>
<line x1="516.3" y1="221.5" x2="518.3" y2="221.5" stroke="#444" stroke-width="0.6"/>
<text x="515.2" y="221.5" font-size="5.6" text-anchor="end" font-weight="normal" font-style="normal" fill="#111" stroke="#111" stroke-width="0.11" dominant-baseline="central">0.68</text>
<line x1="516.3" y1="300.5" x2="518.3" y2="300.5" stroke="#444" stroke-width="0.6"/>
<text x="515.2" y="300.5" font-size="5.6" text-anchor="end" font-weight="normal" font-style="normal" fill="#111" stroke="#111" stroke-width="0.11" dominant-baseline="central">0.67</text>
<line x1="517.1" y1="261" x2="518.3" y2="261" stroke="#444" stroke-width="0.5"/>
<text x="499.6" y="240.8" font-size="6.1" text-anchor="middle" font-weight="normal" font-style="normal" fill="#111" stroke="#111" stroke-width="0.12" dominant-baseline="central" transform="rotate(-90 499.6 240.8)">Averaged C-index</text>
<path d="M518.3 300.5V320.3H666.6V300.5M518.3 310.5H666.6M555.6 300.5V310.5M592.6 300.5V320.3M629.7 300.5V310.5" stroke="#444" stroke-width="0.6" fill="none"/>
<text x="537.2" y="306.3" font-size="6.1" text-anchor="middle" font-weight="normal" font-style="normal" fill="#111" stroke="#111" stroke-width="0.12" dominant-baseline="central">w/o</text>
<text x="573.8" y="306.3" font-size="6.1" text-anchor="middle" font-weight="normal" font-style="normal" fill="#111" stroke="#111" stroke-width="0.12" dominant-baseline="central">with</text>
<text x="611.2" y="306.3" font-size="6.1" text-anchor="middle" font-weight="normal" font-style="normal" fill="#111" stroke="#111" stroke-width="0.12" dominant-baseline="central">w/o</text>
<text x="648.2" y="306.3" font-size="6.1" text-anchor="middle" font-weight="normal" font-style="normal" fill="#111" stroke="#111" stroke-width="0.12" dominant-baseline="central">with</text>
<text x="555.5" y="316.1" font-size="6.1" text-anchor="middle" font-weight="normal" font-style="normal" fill="#111" stroke="#111" stroke-width="0.12" dominant-baseline="central">Inter-modality Loss</text>
<text x="629.6" y="316.1" font-size="6.1" text-anchor="middle" font-weight="normal" font-style="normal" fill="#111" stroke="#111" stroke-width="0.12" dominant-baseline="central">Inter-cancer Loss</text>
<text x="490.8" y="325.6" font-size="9.3" font-weight="bold" fill="#000" dominant-baseline="central">d</text>
<line x1="532.7" y1="331.2" x2="532.7" y2="429.1" stroke="#e4e4e4" stroke-width="0.5"/>
<line x1="532.7" y1="429.1" x2="532.7" y2="430.3" stroke="#555" stroke-width="0.4"/>
<text x="532.7" y="432.6" font-size="3.6" text-anchor="middle" font-weight="normal" font-style="normal" fill="#333" dominant-baseline="central">0.2</text>
<line x1="552.38" y1="331.2" x2="552.38" y2="429.1" stroke="#e4e4e4" stroke-width="0.5"/>
<line x1="552.38" y1="429.1" x2="552.38" y2="430.3" stroke="#555" stroke-width="0.4"/>
<text x="552.38" y="432.6" font-size="3.6" text-anchor="middle" font-weight="normal" font-style="normal" fill="#333" dominant-baseline="central">0.4</text>
<line x1="572.07" y1="331.2" x2="572.07" y2="429.1" stroke="#e4e4e4" stroke-width="0.5"/>
<line x1="572.07" y1="429.1" x2="572.07" y2="430.3" stroke="#555" stroke-width="0.4"/>
<text x="572.07" y="432.6" font-size="3.6" text-anchor="middle" font-weight="normal" font-style="normal" fill="#333" dominant-baseline="central">0.6</text>
<line x1="591.75" y1="331.2" x2="591.75" y2="429.1" stroke="#e4e4e4" stroke-width="0.5"/>
<line x1="591.75" y1="429.1" x2="591.75" y2="430.3" stroke="#555" stroke-width="0.4"/>
<text x="591.75" y="432.6" font-size="3.6" text-anchor="middle" font-weight="normal" font-style="normal" fill="#333" dominant-baseline="central">0.8</text>
<line x1="611.43" y1="331.2" x2="611.43" y2="429.1" stroke="#e4e4e4" stroke-width="0.5"/>
<line x1="611.43" y1="429.1" x2="611.43" y2="430.3" stroke="#555" stroke-width="0.4"/>
<text x="611.43" y="432.6" font-size="3.6" text-anchor="middle" font-weight="normal" font-style="normal" fill="#333" dominant-baseline="central">1.0</text>
<line x1="631.12" y1="331.2" x2="631.12" y2="429.1" stroke="#e4e4e4" stroke-width="0.5"/>
<line x1="631.12" y1="429.1" x2="631.12" y2="430.3" stroke="#555" stroke-width="0.4"/>
<text x="631.12" y="432.6" font-size="3.6" text-anchor="middle" font-weight="normal" font-style="normal" fill="#333" dominant-baseline="central">1.2</text>
<line x1="650.8" y1="331.2" x2="650.8" y2="429.1" stroke="#e4e4e4" stroke-width="0.5"/>
<line x1="650.8" y1="429.1" x2="650.8" y2="430.3" stroke="#555" stroke-width="0.4"/>
<text x="650.8" y="432.6" font-size="3.6" text-anchor="middle" font-weight="normal" font-style="normal" fill="#333" dominant-baseline="central">1.4</text>
<line x1="515.4" y1="409.52" x2="666.4" y2="409.52" stroke="#e4e4e4" stroke-width="0.5"/>
<line x1="515.4" y1="389.94" x2="666.4" y2="389.94" stroke="#e4e4e4" stroke-width="0.5"/>
<line x1="515.4" y1="370.36" x2="666.4" y2="370.36" stroke="#e4e4e4" stroke-width="0.5"/>
<line x1="515.4" y1="350.78" x2="666.4" y2="350.78" stroke="#e4e4e4" stroke-width="0.5"/>
<line x1="514.2" y1="429.1" x2="515.4" y2="429.1" stroke="#555" stroke-width="0.4"/>
<text x="513.6" y="429.1" font-size="3.6" text-anchor="end" font-weight="normal" font-style="normal" fill="#333" dominant-baseline="central">0.68</text>
<line x1="514.2" y1="409.52" x2="515.4" y2="409.52" stroke="#555" stroke-width="0.4"/>
<text x="513.6" y="409.52" font-size="3.6" text-anchor="end" font-weight="normal" font-style="normal" fill="#333" dominant-baseline="central">0.70</text>
<line x1="514.2" y1="389.94" x2="515.4" y2="389.94" stroke="#555" stroke-width="0.4"/>
<text x="513.6" y="389.94" font-size="3.6" text-anchor="end" font-weight="normal" font-style="normal" fill="#333" dominant-baseline="central">0.72</text>
<line x1="514.2" y1="370.36" x2="515.4" y2="370.36" stroke="#555" stroke-width="0.4"/>
<text x="513.6" y="370.36" font-size="3.6" text-anchor="end" font-weight="normal" font-style="normal" fill="#333" dominant-baseline="central">0.74</text>
<line x1="514.2" y1="350.78" x2="515.4" y2="350.78" stroke="#555" stroke-width="0.4"/>
<text x="513.6" y="350.78" font-size="3.6" text-anchor="end" font-weight="normal" font-style="normal" fill="#333" dominant-baseline="central">0.76</text>
<line x1="514.2" y1="331.2" x2="515.4" y2="331.2" stroke="#555" stroke-width="0.4"/>
<text x="513.6" y="331.2" font-size="3.6" text-anchor="end" font-weight="normal" font-style="normal" fill="#333" dominant-baseline="central">0.78</text>
<rect x="515.4" y="331.2" width="151" height="97.9" fill="none" stroke="#888" stroke-width="0.5"/>
<text x="591" y="328.2" font-size="4.6" text-anchor="middle" font-weight="normal" font-style="normal" fill="#222" dominant-baseline="central">Model Performance vs Data and Parameters</text>
<text x="591" y="436.9" font-size="3.8" text-anchor="middle" font-weight="normal" font-style="normal" fill="#333" dominant-baseline="central">Pretraining Slide-level Data</text>
<text x="663.5" y="436.8" font-size="3.6" text-anchor="middle" font-weight="normal" font-style="normal" fill="#333" dominant-baseline="central">1e6</text>
<text x="502.8" y="380" font-size="3.8" text-anchor="middle" font-weight="normal" font-style="normal" fill="#333" dominant-baseline="central" transform="rotate(-90 502.8 380)">Average Performance Score</text>
<circle cx="522.3" cy="379" r="3.0" fill="#f8d9b9" stroke="#b89a80" stroke-width="0.3"/>
<circle cx="524.7" cy="368.5" r="3.5" fill="#f08a88" stroke="#a05050" stroke-width="0.3"/>
<circle cx="659.5" cy="399.4" r="4.3" fill="#acd2e8" stroke="#6a8aa0" stroke-width="0.3"/>
<text x="524.8" y="362.6" font-size="2.6" text-anchor="middle" font-weight="normal" font-style="normal" fill="#333" dominant-baseline="central">mSTAR (all)</text>
<text x="522.5" y="373.4" font-size="2.6" text-anchor="middle" font-weight="normal" font-style="normal" fill="#333" dominant-baseline="central">UNI</text>
<text x="659.5" y="393.6" font-size="2.6" text-anchor="middle" font-weight="normal" font-style="normal" fill="#333" dominant-baseline="central">Virchow</text>
<rect x="634.5" y="332.7" width="30.2" height="19.6" fill="#fff" stroke="#ddd" stroke-width="0.4" rx="0.8"/>
<text x="649.5" y="335.3" font-size="3.3" text-anchor="middle" font-weight="normal" font-style="normal" fill="#333" dominant-baseline="central">Models</text>
<circle cx="639.5" cy="340" r="1.0" fill="#f8c9a0"/>
<text x="644.6" y="340" font-size="3.4" text-anchor="start" font-weight="normal" font-style="normal" fill="#333" dominant-baseline="central">UNI</text>
<circle cx="639.5" cy="345" r="1.0" fill="#8fc3e0"/>
<text x="644.6" y="345" font-size="3.4" text-anchor="start" font-weight="normal" font-style="normal" fill="#333" dominant-baseline="central">Virchow</text>
<circle cx="639.5" cy="349.9" r="1.0" fill="#e84444"/>
<text x="644.6" y="349.9" font-size="3.4" text-anchor="start" font-weight="normal" font-style="normal" fill="#333" dominant-baseline="central">mSTAR (all)</text>
<rect x="517.3" y="396.2" width="34.2" height="31.4" fill="#fff" stroke="#ccc" stroke-width="0.4" rx="0.8"/>
<text x="534.3" y="402.3" font-size="3.25" text-anchor="middle" font-weight="normal" font-style="normal" fill="#333" dominant-baseline="central">Parameters (MB)</text>
<circle cx="527.3" cy="408.6" r="2.6" fill="#f8d9b9" stroke="#888" stroke-width="0.3"/>
<text x="533" y="408.6" font-size="3.35" text-anchor="start" font-weight="normal" font-style="normal" fill="#333" dominant-baseline="central">303 MB</text>
<circle cx="527.3" cy="414.9" r="3.2" fill="#f08a88" stroke="#888" stroke-width="0.3"/>
<text x="533" y="414.9" font-size="3.35" text-anchor="start" font-weight="normal" font-style="normal" fill="#333" dominant-baseline="central">415 MB</text>
<circle cx="527.3" cy="421.3" r="4.2" fill="#acd2e8" stroke="#888" stroke-width="0.3"/>
<text x="533" y="421.3" font-size="3.35" text-anchor="start" font-weight="normal" font-style="normal" fill="#333" dominant-baseline="central">631 MB</text>
<rect x="5.6" y="301.5" width="108.8" height="122.8" fill="none" stroke="#aaa" stroke-width="0.6"/>
<text x="60" y="427.6" font-size="3.6" text-anchor="middle" font-weight="normal" font-style="normal" fill="#333" dominant-baseline="central">UMAP Component 1</text>
<text x="2.9" y="362.9" font-size="3.6" text-anchor="middle" font-weight="normal" font-style="normal" fill="#333" dominant-baseline="central" transform="rotate(-90 2.9 362.9)">UMAP Component 2</text>
<text x="57.4" y="435.6" font-size="7.7" text-anchor="middle" font-weight="bold" font-style="italic" fill="#111" dominant-baseline="central">Initial</text>
<line x1="47.35" y1="439.3" x2="67.45" y2="439.3" stroke="#333" stroke-width="0.7"/>
<clipPath id="u1"><rect x="5.6" y="301.5" width="108.8" height="122.8"/></clipPath><g clip-path="url(#u1)">
<path d="M56 315h1v1h-1zM55 315h1v1h-1zM62 314h1v1h-1zM61 314h1v1h-1zM56 317h1v1h-1zM55 317h1v1h-1zM71 313h1v1h-1zM59 315h1v1h-1zM50 317h1v1h-1zM50 316h1v1h-1zM57 315h1v1h-1zM71 312h1v1h-1zM76 313h1v1h-1zM75 313h1v1h-1zM69 311h1v1h-1zM71 311h1v1h-1zM74 312h1v1h-1zM53 319h1v1h-1zM52 319h1v1h-1zM54 315h1v1h-1zM53 315h1v1h-1zM60 315h1v1h-1zM63 314h1v1h-1zM52 315h1v1h-1zM69 312h1v1h-1zM68 312h1v1h-1zM65 313h1v1h-1zM56 314h1v1h-1zM56 313h1v1h-1zM70 312h1v1h-1zM54 316h1v1h-1zM55 316h1v1h-1zM64 313h1v1h-1zM64 312h1v1h-1zM53 318h1v1h-1zM73 311h1v1h-1zM73 310h1v1h-1zM58 314h1v1h-1zM54 318h1v1h-1zM68 313h1v1h-1zM52 318h1v1h-1zM52 317h1v1h-1zM66 313h1v1h-1zM60 314h1v1h-1zM59 314h1v1h-1zM59 313h1v1h-1zM69 313h1v1h-1zM61 313h1v1h-1zM55 318h1v1h-1zM56 318h1v1h-1zM60 316h1v1h-1zM73 314h1v1h-1zM73 313h1v1h-1zM64 314h1v1h-1zM79 316h1v1h-1zM77 316h1v1h-1zM77 315h1v1h-1zM80 316h1v1h-1zM78 316h1v1h-1zM78 317h1v1h-1zM82 316h1v1h-1zM104 313h1v1h-1zM104 314h1v1h-1zM102 312h1v1h-1zM98 312h1v1h-1zM102 313h1v1h-1zM101 313h1v1h-1zM96 308h1v1h-1zM96 309h1v1h-1zM97 311h1v1h-1zM96 310h1v1h-1zM99 312h1v1h-1zM103 312h1v1h-1zM104 315h1v1h-1zM98 311h1v1h-1zM100 313h1v1h-1zM101 315h1v1h-1zM101 316h1v1h-1zM102 315h1v1h-1zM103 315h1v1h-1zM99 313h1v1h-1zM93 308h1v1h-1zM92 308h1v1h-1zM94 308h1v1h-1zM95 308h1v1h-1zM95 309h1v1h-1zM25 342h1v1h-1zM26 344h1v1h-1zM26 343h1v1h-1zM26 342h1v1h-1zM27 344h1v1h-1zM27 342h1v1h-1zM28 343h1v1h-1zM29 344h1v1h-1zM49 340h1v1h-1zM49 339h1v1h-1zM40 339h1v1h-1zM40 340h1v1h-1zM46 340h1v1h-1zM45 340h1v1h-1zM39 341h1v1h-1zM39 340h1v1h-1zM53 344h1v1h-1zM53 345h1v1h-1zM32 342h1v1h-1zM32 341h1v1h-1zM69 344h1v1h-1zM69 343h1v1h-1zM73 343h1v1h-1zM72 343h1v1h-1zM73 341h1v1h-1zM81 339h1v1h-1zM84 340h1v1h-1zM70 345h1v1h-1zM77 341h1v1h-1zM77 340h1v1h-1zM98 344h1v1h-1zM95 338h1v1h-1zM91 337h1v1h-1zM91 338h1v1h-1zM94 339h1v1h-1zM93 339h1v1h-1zM89 340h1v1h-1zM89 339h1v1h-1zM95 337h1v1h-1zM90 342h1v1h-1zM91 342h1v1h-1zM92 337h1v1h-1zM99 335h1v1h-1zM88 336h1v1h-1zM92 339h1v1h-1zM98 336h1v1h-1zM97 336h1v1h-1zM90 338h1v1h-1zM87 336h1v1h-1zM98 339h1v1h-1zM92 340h1v1h-1zM90 335h1v1h-1zM86 341h1v1h-1zM82 352h1v1h-1zM87 354h1v1h-1zM94 351h1v1h-1zM75 357h1v1h-1zM75 358h1v1h-1zM55 358h1v1h-1zM54 358h1v1h-1zM89 355h1v1h-1zM81 355h1v1h-1zM64 359h1v1h-1zM69 356h1v1h-1zM93 354h1v1h-1zM62 357h1v1h-1zM62 358h1v1h-1zM54 356h1v1h-1zM54 355h1v1h-1zM89 354h1v1h-1zM90 354h1v1h-1zM88 355h1v1h-1zM88 356h1v1h-1zM87 355h1v1h-1zM70 356h1v1h-1zM70 357h1v1h-1zM63 356h1v1h-1zM62 356h1v1h-1zM96 352h1v1h-1zM78 354h1v1h-1zM77 354h1v1h-1zM89 353h1v1h-1zM58 358h1v1h-1zM71 355h1v1h-1zM85 354h1v1h-1zM85 353h1v1h-1zM81 354h1v1h-1zM57 357h1v1h-1zM57 356h1v1h-1zM92 355h1v1h-1zM82 354h1v1h-1zM61 356h1v1h-1zM100 350h1v1h-1zM101 350h1v1h-1zM76 354h1v1h-1zM76 353h1v1h-1zM95 352h1v1h-1zM95 353h1v1h-1zM58 359h1v1h-1zM71 354h1v1h-1zM71 353h1v1h-1zM84 353h1v1h-1zM84 352h1v1h-1zM54 357h1v1h-1zM75 354h1v1h-1zM69 355h1v1h-1zM70 354h1v1h-1zM98 352h1v1h-1zM63 354h1v1h-1zM87 353h1v1h-1zM82 353h1v1h-1zM57 358h1v1h-1zM64 355h1v1h-1zM75 356h1v1h-1zM74 356h1v1h-1zM69 357h1v1h-1zM66 356h1v1h-1zM72 356h1v1h-1zM78 356h1v1h-1zM78 355h1v1h-1zM88 354h1v1h-1zM88 353h1v1h-1zM72 357h1v1h-1zM94 353h1v1h-1zM82 356h1v1h-1zM70 355h1v1h-1zM95 355h1v1h-1zM80 358h1v1h-1zM81 358h1v1h-1zM71 359h1v1h-1zM67 356h1v1h-1zM68 356h1v1h-1zM55 357h1v1h-1zM97 354h1v1h-1zM96 354h1v1h-1zM81 353h1v1h-1zM86 355h1v1h-1zM56 356h1v1h-1zM56 355h1v1h-1zM86 353h1v1h-1zM70 358h1v1h-1zM84 354h1v1h-1zM84 355h1v1h-1zM95 354h1v1h-1zM76 356h1v1h-1zM91 354h1v1h-1zM91 353h1v1h-1zM103 351h1v1h-1zM105 352h1v1h-1zM109 353h1v1h-1zM107 353h1v1h-1zM106 353h1v1h-1zM105 351h1v1h-1zM97 352h1v1h-1zM106 352h1v1h-1zM82 346h1v1h-1zM82 345h1v1h-1zM77 344h1v1h-1zM80 345h1v1h-1zM80 348h1v1h-1zM77 345h1v1h-1zM80 346h1v1h-1zM79 344h1v1h-1zM79 347h1v1h-1zM80 347h1v1h-1zM31 379h1v1h-1zM32 378h1v1h-1zM31 380h1v1h-1zM30 380h1v1h-1zM31 378h1v1h-1zM29 378h1v1h-1zM31 381h1v1h-1zM30 381h1v1h-1zM30 379h1v1h-1zM32 380h1v1h-1zM33 380h1v1h-1zM29 379h1v1h-1zM32 379h1v1h-1zM34 383h1v1h-1zM36 384h1v1h-1zM35 382h1v1h-1zM35 381h1v1h-1zM37 385h1v1h-1zM37 384h1v1h-1zM36 383h1v1h-1zM33 382h1v1h-1zM33 383h1v1h-1zM33 381h1v1h-1zM37 386h1v1h-1zM38 386h1v1h-1zM29 381h1v1h-1zM38 385h1v1h-1zM38 384h1v1h-1zM32 384h1v1h-1zM50 390h1v1h-1zM45 384h1v1h-1zM49 392h1v1h-1zM48 386h1v1h-1zM50 388h1v1h-1zM51 388h1v1h-1zM45 386h1v1h-1zM50 387h1v1h-1zM47 387h1v1h-1zM45 382h1v1h-1zM44 382h1v1h-1zM42 382h1v1h-1zM44 386h1v1h-1zM49 390h1v1h-1zM43 384h1v1h-1zM17 396h1v1h-1zM17 395h1v1h-1zM14 397h1v1h-1zM11 396h1v1h-1zM12 396h1v1h-1zM14 396h1v1h-1zM15 396h1v1h-1zM16 397h1v1h-1zM17 397h1v1h-1zM13 396h1v1h-1zM13 395h1v1h-1zM15 397h1v1h-1zM30 404h1v1h-1zM31 404h1v1h-1zM20 399h1v1h-1zM19 397h1v1h-1zM19 396h1v1h-1zM27 398h1v1h-1zM28 402h1v1h-1zM29 402h1v1h-1zM23 400h1v1h-1zM29 407h1v1h-1zM30 407h1v1h-1zM25 404h1v1h-1zM23 399h1v1h-1zM28 409h1v1h-1zM18 398h1v1h-1zM18 397h1v1h-1zM24 399h1v1h-1zM21 399h1v1h-1zM27 405h1v1h-1zM26 401h1v1h-1zM25 401h1v1h-1zM25 402h1v1h-1zM25 400h1v1h-1zM30 403h1v1h-1zM31 403h1v1h-1zM24 401h1v1h-1zM21 402h1v1h-1zM29 404h1v1h-1zM28 405h1v1h-1zM20 401h1v1h-1zM29 405h1v1h-1zM29 409h1v1h-1zM17 398h1v1h-1zM26 406h1v1h-1zM25 406h1v1h-1zM39 408h1v1h-1zM40 408h1v1h-1zM50 401h1v1h-1zM34 403h1v1h-1zM42 403h1v1h-1zM25 397h1v1h-1zM24 397h1v1h-1zM38 395h1v1h-1zM39 395h1v1h-1zM33 398h1v1h-1zM32 398h1v1h-1zM34 396h1v1h-1zM33 400h1v1h-1zM34 398h1v1h-1zM40 399h1v1h-1zM40 398h1v1h-1zM37 403h1v1h-1zM30 400h1v1h-1zM30 401h1v1h-1zM36 400h1v1h-1zM35 400h1v1h-1zM39 392h1v1h-1zM35 399h1v1h-1zM44 402h1v1h-1zM36 394h1v1h-1zM42 397h1v1h-1zM42 396h1v1h-1zM28 395h1v1h-1zM31 399h1v1h-1zM27 400h1v1h-1zM25 410h1v1h-1zM36 393h1v1h-1zM34 392h1v1h-1zM36 399h1v1h-1zM35 397h1v1h-1zM35 398h1v1h-1zM42 407h1v1h-1zM44 395h1v1h-1zM23 405h1v1h-1zM39 402h1v1h-1zM43 402h1v1h-1zM38 404h1v1h-1zM39 396h1v1h-1zM38 396h1v1h-1zM41 396h1v1h-1zM40 396h1v1h-1zM37 394h1v1h-1zM34 394h1v1h-1zM34 393h1v1h-1zM33 407h1v1h-1zM34 407h1v1h-1zM34 408h1v1h-1zM29 400h1v1h-1zM34 406h1v1h-1zM35 406h1v1h-1zM32 403h1v1h-1zM32 404h1v1h-1zM30 398h1v1h-1zM30 397h1v1h-1zM34 402h1v1h-1zM34 401h1v1h-1zM37 393h1v1h-1zM39 399h1v1h-1zM39 398h1v1h-1zM30 395h1v1h-1zM42 393h1v1h-1zM40 395h1v1h-1zM49 396h1v1h-1zM46 386h1v1h-1zM43 391h1v1h-1zM33 390h1v1h-1zM51 403h1v1h-1zM51 404h1v1h-1zM49 404h1v1h-1zM58 414h1v1h-1zM23 407h1v1h-1zM23 406h1v1h-1zM52 412h1v1h-1zM67 418h1v1h-1zM68 418h1v1h-1zM72 417h1v1h-1zM24 409h1v1h-1zM24 408h1v1h-1zM38 411h1v1h-1zM34 411h1v1h-1zM34 410h1v1h-1zM19 408h1v1h-1zM60 416h1v1h-1zM64 419h1v1h-1zM64 420h1v1h-1zM41 411h1v1h-1zM47 411h1v1h-1zM39 407h1v1h-1zM50 413h1v1h-1zM55 412h1v1h-1zM33 412h1v1h-1zM40 410h1v1h-1zM65 414h1v1h-1zM40 411h1v1h-1zM39 411h1v1h-1zM49 411h1v1h-1zM41 410h1v1h-1zM20 410h1v1h-1zM24 411h1v1h-1zM24 410h1v1h-1zM23 409h1v1h-1zM51 412h1v1h-1zM67 417h1v1h-1zM53 412h1v1h-1zM67 416h1v1h-1zM67 415h1v1h-1zM23 412h1v1h-1zM23 411h1v1h-1zM50 411h1v1h-1zM26 413h1v1h-1zM59 413h1v1h-1zM60 413h1v1h-1zM48 408h1v1h-1zM22 410h1v1h-1zM22 409h1v1h-1zM30 412h1v1h-1zM31 412h1v1h-1zM34 414h1v1h-1zM56 414h1v1h-1zM31 408h1v1h-1zM45 411h1v1h-1zM46 411h1v1h-1zM25 411h1v1h-1zM50 412h1v1h-1zM56 412h1v1h-1zM57 412h1v1h-1zM58 413h1v1h-1zM69 417h1v1h-1zM69 416h1v1h-1zM68 415h1v1h-1zM68 414h1v1h-1zM62 414h1v1h-1zM62 413h1v1h-1zM55 410h1v1h-1zM42 411h1v1h-1zM42 412h1v1h-1zM60 412h1v1h-1zM33 411h1v1h-1zM65 415h1v1h-1zM48 412h1v1h-1zM48 413h1v1h-1zM42 414h1v1h-1zM31 410h1v1h-1zM21 412h1v1h-1zM45 413h1v1h-1zM44 411h1v1h-1zM43 411h1v1h-1zM58 412h1v1h-1zM47 414h1v1h-1zM46 414h1v1h-1zM54 409h1v1h-1zM63 415h1v1h-1zM56 411h1v1h-1zM57 413h1v1h-1zM38 410h1v1h-1zM38 409h1v1h-1zM54 402h1v1h-1zM58 407h1v1h-1zM56 409h1v1h-1zM56 410h1v1h-1zM62 412h1v1h-1zM62 411h1v1h-1zM66 409h1v1h-1zM65 409h1v1h-1zM58 402h1v1h-1zM59 402h1v1h-1zM69 407h1v1h-1zM58 410h1v1h-1zM61 408h1v1h-1zM60 408h1v1h-1zM58 399h1v1h-1zM56 406h1v1h-1zM57 406h1v1h-1zM57 416h1v1h-1zM56 416h1v1h-1zM59 406h1v1h-1zM55 409h1v1h-1zM56 408h1v1h-1zM60 409h1v1h-1zM56 407h1v1h-1zM55 406h1v1h-1zM61 407h1v1h-1zM59 410h1v1h-1zM57 409h1v1h-1zM58 406h1v1h-1zM59 404h1v1h-1zM59 405h1v1h-1zM62 408h1v1h-1zM62 407h1v1h-1zM63 384h1v1h-1zM61 383h1v1h-1zM64 383h1v1h-1zM64 384h1v1h-1zM64 382h1v1h-1zM64 381h1v1h-1zM62 383h1v1h-1zM66 383h1v1h-1zM65 383h1v1h-1zM67 384h1v1h-1zM63 383h1v1h-1zM77 385h1v1h-1zM77 384h1v1h-1zM76 384h1v1h-1zM71 383h1v1h-1zM71 384h1v1h-1zM83 389h1v1h-1zM80 386h1v1h-1zM81 386h1v1h-1zM76 382h1v1h-1zM76 383h1v1h-1zM80 385h1v1h-1zM79 384h1v1h-1zM70 383h1v1h-1zM78 383h1v1h-1zM82 385h1v1h-1zM84 388h1v1h-1zM83 388h1v1h-1zM72 382h1v1h-1zM73 382h1v1h-1zM74 382h1v1h-1zM81 385h1v1h-1zM81 383h1v1h-1zM77 388h1v1h-1zM74 388h1v1h-1zM75 388h1v1h-1zM78 388h1v1h-1zM78 387h1v1h-1zM75 389h1v1h-1zM79 387h1v1h-1zM79 388h1v1h-1zM76 388h1v1h-1zM78 389h1v1h-1zM76 387h1v1h-1zM86 385h1v1h-1zM86 387h1v1h-1zM86 386h1v1h-1zM85 385h1v1h-1zM85 386h1v1h-1zM87 394h1v1h-1zM86 394h1v1h-1zM88 386h1v1h-1zM85 389h1v1h-1zM85 390h1v1h-1zM86 389h1v1h-1zM94 400h1v1h-1zM94 401h1v1h-1zM92 399h1v1h-1zM91 399h1v1h-1zM90 394h1v1h-1zM90 393h1v1h-1zM87 395h1v1h-1zM87 387h1v1h-1zM88 387h1v1h-1zM84 387h1v1h-1zM85 387h1v1h-1zM94 402h1v1h-1zM95 402h1v1h-1zM88 391h1v1h-1zM88 390h1v1h-1zM88 393h1v1h-1zM89 395h1v1h-1zM89 396h1v1h-1zM87 391h1v1h-1zM86 388h1v1h-1zM87 388h1v1h-1zM88 396h1v1h-1zM87 396h1v1h-1zM89 397h1v1h-1zM90 397h1v1h-1zM90 398h1v1h-1zM91 398h1v1h-1zM80 395h1v1h-1zM90 392h1v1h-1zM91 392h1v1h-1zM87 397h1v1h-1zM86 397h1v1h-1zM90 395h1v1h-1zM87 393h1v1h-1zM87 392h1v1h-1zM86 398h1v1h-1zM90 396h1v1h-1zM82 397h1v1h-1zM81 397h1v1h-1zM86 395h1v1h-1zM88 395h1v1h-1zM86 396h1v1h-1zM94 396h1v1h-1zM93 396h1v1h-1zM85 396h1v1h-1zM84 396h1v1h-1zM62 393h1v1h-1zM62 394h1v1h-1zM73 409h1v1h-1zM81 395h1v1h-1zM66 392h1v1h-1zM67 392h1v1h-1zM64 396h1v1h-1zM63 396h1v1h-1zM69 393h1v1h-1zM72 398h1v1h-1zM74 390h1v1h-1zM78 400h1v1h-1zM74 403h1v1h-1zM74 404h1v1h-1zM75 394h1v1h-1zM75 395h1v1h-1zM75 404h1v1h-1zM75 403h1v1h-1zM67 397h1v1h-1zM68 397h1v1h-1zM77 402h1v1h-1zM79 401h1v1h-1zM79 402h1v1h-1zM74 401h1v1h-1zM77 403h1v1h-1zM76 403h1v1h-1zM64 400h1v1h-1zM58 395h1v1h-1zM85 402h1v1h-1zM84 402h1v1h-1zM76 394h1v1h-1zM77 394h1v1h-1zM87 399h1v1h-1zM67 413h1v1h-1zM67 412h1v1h-1z" fill="#5cbf9b" opacity="0.85"/>
<path d="M96 312h1v1h-1zM95 312h1v1h-1zM102 314h1v1h-1zM35 341h1v1h-1zM46 341h1v1h-1zM37 344h1v1h-1zM50 343h1v1h-1zM47 340h1v1h-1zM49 342h1v1h-1zM40 341h1v1h-1zM52 344h1v1h-1zM52 346h1v1h-1zM42 341h1v1h-1zM41 341h1v1h-1zM53 343h1v1h-1zM53 342h1v1h-1zM49 343h1v1h-1zM33 341h1v1h-1zM38 339h1v1h-1zM38 338h1v1h-1zM47 341h1v1h-1zM34 342h1v1h-1zM51 345h1v1h-1zM52 345h1v1h-1zM35 344h1v1h-1zM45 341h1v1h-1zM29 341h1v1h-1zM48 341h1v1h-1zM39 339h1v1h-1zM51 342h1v1h-1zM38 342h1v1h-1zM33 342h1v1h-1zM37 342h1v1h-1zM51 344h1v1h-1zM44 342h1v1h-1zM34 343h1v1h-1zM39 342h1v1h-1zM43 340h1v1h-1zM50 340h1v1h-1zM37 341h1v1h-1zM45 342h1v1h-1zM46 342h1v1h-1zM42 340h1v1h-1zM37 340h1v1h-1zM35 339h1v1h-1zM34 339h1v1h-1zM52 343h1v1h-1zM31 343h1v1h-1zM32 343h1v1h-1zM54 345h1v1h-1zM54 344h1v1h-1zM38 341h1v1h-1zM40 342h1v1h-1zM40 338h1v1h-1zM44 340h1v1h-1zM43 339h1v1h-1zM42 339h1v1h-1zM34 340h1v1h-1zM49 341h1v1h-1zM33 343h1v1h-1zM50 342h1v1h-1zM34 341h1v1h-1zM48 342h1v1h-1zM45 339h1v1h-1zM35 340h1v1h-1zM29 342h1v1h-1zM51 343h1v1h-1zM35 342h1v1h-1zM35 343h1v1h-1zM37 339h1v1h-1zM44 341h1v1h-1zM74 343h1v1h-1zM74 344h1v1h-1zM81 342h1v1h-1zM82 339h1v1h-1zM83 341h1v1h-1zM82 341h1v1h-1zM77 342h1v1h-1zM76 342h1v1h-1zM84 339h1v1h-1zM72 344h1v1h-1zM71 344h1v1h-1zM70 342h1v1h-1zM69 342h1v1h-1zM75 344h1v1h-1zM76 343h1v1h-1zM75 341h1v1h-1zM75 340h1v1h-1zM83 340h1v1h-1zM80 340h1v1h-1zM72 342h1v1h-1zM73 342h1v1h-1zM75 342h1v1h-1zM70 344h1v1h-1zM89 341h1v1h-1zM90 341h1v1h-1zM96 338h1v1h-1zM87 341h1v1h-1zM87 342h1v1h-1zM88 339h1v1h-1zM88 338h1v1h-1z" fill="#f5895c" opacity="0.85"/>
<path d="M62 315h1v1h-1zM67 313h1v1h-1zM66 315h1v1h-1zM66 316h1v1h-1zM93 338h1v1h-1zM93 337h1v1h-1zM96 336h1v1h-1zM96 335h1v1h-1zM93 343h1v1h-1zM93 344h1v1h-1zM90 337h1v1h-1zM97 337h1v1h-1zM96 337h1v1h-1zM91 341h1v1h-1zM99 341h1v1h-1zM88 337h1v1h-1zM92 338h1v1h-1zM94 337h1v1h-1zM65 356h1v1h-1zM64 356h1v1h-1zM73 357h1v1h-1zM101 353h1v1h-1zM103 354h1v1h-1zM102 353h1v1h-1zM104 350h1v1h-1zM100 353h1v1h-1zM103 353h1v1h-1zM104 351h1v1h-1zM99 349h1v1h-1zM99 348h1v1h-1zM104 353h1v1h-1zM108 352h1v1h-1zM104 352h1v1h-1zM103 352h1v1h-1zM102 351h1v1h-1zM100 351h1v1h-1z" fill="#e18ad0" opacity="0.85"/>
<path d="M96 313h1v1h-1zM97 313h1v1h-1zM101 312h1v1h-1zM89 338h1v1h-1zM89 337h1v1h-1zM91 339h1v1h-1zM85 339h1v1h-1zM85 338h1v1h-1zM90 339h1v1h-1zM92 336h1v1h-1zM88 335h1v1h-1zM89 335h1v1h-1zM90 340h1v1h-1zM97 338h1v1h-1zM97 339h1v1h-1zM94 335h1v1h-1zM94 338h1v1h-1z" fill="#a6d13e" opacity="0.85"/>
<path d="M88 383h1v1h-1z" fill="#f5d03a" opacity="0.85"/>
</g>
<rect x="184.3" y="300.4" width="109.4" height="122.8" fill="none" stroke="#aaa" stroke-width="0.6"/>
<text x="239" y="426.5" font-size="3.6" text-anchor="middle" font-weight="normal" font-style="normal" fill="#333" dominant-baseline="central">UMAP Component 1</text>
<text x="181.6" y="361.8" font-size="3.6" text-anchor="middle" font-weight="normal" font-style="normal" fill="#333" dominant-baseline="central" transform="rotate(-90 181.6 361.8)">UMAP Component 2</text>
<text x="235.6" y="435.6" font-size="7.0" text-anchor="middle" font-weight="bold" font-style="italic" fill="#111" dominant-baseline="central">Pretrained Aggregator</text>
<line x1="198.58" y1="439.3" x2="272.62" y2="439.3" stroke="#333" stroke-width="0.7"/>
<clipPath id="u2"><rect x="184.3" y="300.4" width="109.4" height="122.8"/></clipPath><g clip-path="url(#u2)">
<path d="M257 309h1v1h-1zM256 309h1v1h-1zM260 307h1v1h-1zM259 307h1v1h-1zM262 309h1v1h-1zM257 310h1v1h-1zM270 307h1v1h-1zM263 316h1v1h-1zM262 316h1v1h-1zM264 314h1v1h-1zM253 316h1v1h-1zM252 316h1v1h-1zM271 308h1v1h-1zM259 308h1v1h-1zM258 310h1v1h-1zM267 313h1v1h-1zM270 306h1v1h-1zM270 305h1v1h-1zM258 316h1v1h-1zM253 315h1v1h-1zM253 314h1v1h-1zM264 315h1v1h-1zM264 316h1v1h-1zM260 314h1v1h-1zM267 314h1v1h-1zM259 310h1v1h-1zM273 311h1v1h-1zM271 313h1v1h-1zM271 314h1v1h-1zM263 306h1v1h-1zM264 306h1v1h-1zM266 306h1v1h-1zM269 313h1v1h-1zM267 315h1v1h-1zM254 316h1v1h-1zM258 309h1v1h-1zM255 316h1v1h-1zM255 317h1v1h-1zM262 313h1v1h-1zM251 315h1v1h-1zM260 315h1v1h-1zM265 314h1v1h-1zM260 309h1v1h-1zM270 314h1v1h-1zM268 315h1v1h-1zM265 305h1v1h-1zM266 305h1v1h-1zM270 315h1v1h-1zM270 316h1v1h-1zM258 317h1v1h-1zM269 307h1v1h-1zM269 306h1v1h-1zM256 314h1v1h-1zM258 313h1v1h-1zM260 308h1v1h-1zM257 312h1v1h-1zM256 312h1v1h-1zM266 308h1v1h-1zM260 311h1v1h-1zM260 312h1v1h-1zM261 311h1v1h-1zM262 311h1v1h-1zM260 310h1v1h-1zM257 313h1v1h-1zM261 310h1v1h-1zM276 315h1v1h-1zM274 314h1v1h-1zM273 314h1v1h-1zM276 314h1v1h-1zM275 314h1v1h-1zM275 313h1v1h-1zM276 313h1v1h-1zM280 316h1v1h-1zM280 317h1v1h-1zM281 317h1v1h-1zM281 316h1v1h-1zM279 317h1v1h-1zM279 316h1v1h-1zM278 316h1v1h-1zM288 320h1v1h-1zM288 319h1v1h-1zM285 318h1v1h-1zM284 318h1v1h-1zM286 319h1v1h-1zM285 319h1v1h-1zM287 319h1v1h-1zM245 339h1v1h-1zM242 338h1v1h-1zM240 339h1v1h-1zM239 339h1v1h-1zM240 340h1v1h-1zM243 339h1v1h-1zM243 340h1v1h-1zM244 340h1v1h-1zM242 337h1v1h-1zM241 337h1v1h-1zM240 337h1v1h-1zM243 338h1v1h-1zM244 339h1v1h-1zM239 340h1v1h-1zM238 340h1v1h-1zM234 344h1v1h-1zM237 342h1v1h-1zM237 343h1v1h-1zM237 341h1v1h-1zM235 343h1v1h-1zM236 342h1v1h-1zM235 342h1v1h-1zM234 343h1v1h-1zM233 348h1v1h-1zM233 349h1v1h-1zM232 348h1v1h-1zM234 349h1v1h-1zM233 350h1v1h-1zM238 353h1v1h-1zM237 353h1v1h-1zM237 352h1v1h-1zM236 353h1v1h-1zM239 354h1v1h-1zM238 358h1v1h-1zM238 359h1v1h-1zM239 359h1v1h-1zM239 358h1v1h-1zM238 357h1v1h-1zM240 359h1v1h-1zM239 360h1v1h-1zM238 360h1v1h-1zM241 361h1v1h-1zM241 362h1v1h-1zM235 363h1v1h-1zM235 362h1v1h-1zM234 363h1v1h-1zM238 361h1v1h-1zM237 361h1v1h-1zM239 362h1v1h-1zM236 362h1v1h-1zM242 363h1v1h-1zM241 363h1v1h-1zM238 363h1v1h-1zM237 363h1v1h-1zM240 361h1v1h-1zM234 364h1v1h-1zM233 364h1v1h-1zM236 361h1v1h-1zM238 362h1v1h-1zM239 361h1v1h-1zM237 362h1v1h-1zM251 367h1v1h-1zM250 367h1v1h-1zM256 372h1v1h-1zM255 372h1v1h-1zM248 367h1v1h-1zM247 367h1v1h-1zM247 365h1v1h-1zM247 364h1v1h-1zM255 371h1v1h-1zM250 368h1v1h-1zM254 370h1v1h-1zM248 368h1v1h-1zM252 369h1v1h-1zM252 370h1v1h-1zM246 366h1v1h-1zM249 367h1v1h-1zM253 370h1v1h-1zM246 365h1v1h-1zM247 366h1v1h-1zM251 369h1v1h-1zM254 369h1v1h-1zM256 371h1v1h-1zM274 394h1v1h-1zM276 382h1v1h-1zM272 385h1v1h-1zM273 385h1v1h-1zM275 385h1v1h-1zM284 386h1v1h-1zM271 390h1v1h-1zM272 390h1v1h-1zM284 391h1v1h-1zM284 392h1v1h-1zM281 395h1v1h-1zM285 387h1v1h-1zM284 387h1v1h-1zM275 395h1v1h-1zM274 395h1v1h-1zM286 387h1v1h-1zM272 386h1v1h-1zM271 386h1v1h-1zM285 390h1v1h-1zM282 392h1v1h-1zM274 384h1v1h-1zM275 384h1v1h-1zM276 383h1v1h-1zM275 383h1v1h-1zM276 396h1v1h-1zM277 396h1v1h-1zM273 395h1v1h-1zM273 387h1v1h-1zM276 384h1v1h-1zM284 394h1v1h-1zM284 395h1v1h-1zM278 384h1v1h-1zM276 394h1v1h-1zM275 394h1v1h-1zM282 384h1v1h-1zM276 395h1v1h-1zM283 383h1v1h-1zM277 383h1v1h-1zM279 397h1v1h-1zM274 393h1v1h-1zM273 384h1v1h-1zM274 392h1v1h-1zM273 392h1v1h-1zM286 390h1v1h-1zM285 391h1v1h-1zM272 391h1v1h-1zM283 384h1v1h-1zM283 393h1v1h-1zM283 392h1v1h-1zM285 392h1v1h-1zM281 397h1v1h-1zM280 397h1v1h-1zM279 395h1v1h-1zM285 388h1v1h-1zM278 396h1v1h-1zM283 388h1v1h-1zM283 387h1v1h-1zM272 383h1v1h-1zM273 393h1v1h-1zM279 396h1v1h-1zM280 383h1v1h-1zM285 386h1v1h-1zM283 391h1v1h-1zM284 383h1v1h-1zM281 382h1v1h-1zM275 387h1v1h-1zM280 393h1v1h-1zM272 393h1v1h-1zM275 392h1v1h-1zM280 390h1v1h-1zM280 389h1v1h-1zM278 389h1v1h-1zM273 390h1v1h-1zM273 389h1v1h-1zM273 394h1v1h-1zM282 388h1v1h-1zM278 388h1v1h-1zM278 387h1v1h-1zM273 388h1v1h-1zM279 390h1v1h-1zM279 391h1v1h-1zM270 399h1v1h-1zM267 399h1v1h-1zM266 399h1v1h-1zM264 402h1v1h-1zM265 401h1v1h-1zM261 403h1v1h-1zM266 400h1v1h-1zM258 409h1v1h-1zM258 410h1v1h-1zM256 412h1v1h-1zM256 411h1v1h-1zM268 400h1v1h-1zM257 411h1v1h-1zM257 410h1v1h-1zM268 399h1v1h-1zM263 403h1v1h-1zM264 400h1v1h-1zM260 406h1v1h-1zM267 400h1v1h-1zM255 413h1v1h-1zM263 402h1v1h-1zM272 397h1v1h-1zM259 409h1v1h-1zM270 397h1v1h-1zM271 397h1v1h-1zM255 412h1v1h-1zM255 411h1v1h-1zM257 412h1v1h-1zM263 401h1v1h-1zM262 403h1v1h-1zM259 410h1v1h-1zM258 408h1v1h-1zM272 398h1v1h-1zM269 400h1v1h-1zM269 399h1v1h-1zM258 413h1v1h-1zM258 414h1v1h-1zM265 399h1v1h-1zM264 399h1v1h-1zM258 411h1v1h-1zM268 401h1v1h-1zM261 407h1v1h-1zM262 407h1v1h-1zM260 407h1v1h-1zM260 410h1v1h-1zM257 409h1v1h-1zM256 409h1v1h-1zM257 408h1v1h-1zM259 412h1v1h-1zM261 409h1v1h-1zM259 411h1v1h-1zM256 413h1v1h-1zM259 413h1v1h-1zM260 413h1v1h-1zM259 408h1v1h-1zM260 411h1v1h-1zM256 414h1v1h-1zM261 410h1v1h-1zM259 406h1v1h-1zM259 405h1v1h-1zM255 407h1v1h-1zM259 414h1v1h-1zM260 414h1v1h-1zM261 412h1v1h-1zM262 412h1v1h-1zM203 415h1v1h-1zM202 415h1v1h-1zM203 414h1v1h-1zM192 411h1v1h-1zM192 410h1v1h-1zM216 417h1v1h-1zM208 415h1v1h-1zM201 412h1v1h-1zM200 412h1v1h-1zM207 416h1v1h-1zM209 415h1v1h-1zM206 414h1v1h-1zM206 415h1v1h-1zM199 413h1v1h-1zM199 412h1v1h-1zM191 411h1v1h-1zM203 413h1v1h-1zM212 414h1v1h-1zM215 417h1v1h-1zM191 409h1v1h-1zM195 410h1v1h-1zM209 414h1v1h-1zM207 413h1v1h-1zM207 414h1v1h-1zM190 411h1v1h-1zM193 411h1v1h-1zM213 417h1v1h-1zM214 417h1v1h-1zM195 413h1v1h-1zM198 412h1v1h-1zM197 412h1v1h-1zM200 414h1v1h-1zM201 414h1v1h-1zM207 415h1v1h-1zM200 411h1v1h-1zM215 416h1v1h-1zM196 412h1v1h-1zM195 412h1v1h-1zM189 410h1v1h-1zM189 409h1v1h-1zM198 413h1v1h-1zM192 412h1v1h-1zM197 411h1v1h-1zM198 411h1v1h-1zM211 415h1v1h-1zM211 414h1v1h-1zM193 410h1v1h-1zM211 416h1v1h-1zM215 415h1v1h-1zM194 412h1v1h-1zM191 410h1v1h-1zM197 414h1v1h-1zM204 413h1v1h-1zM204 414h1v1h-1zM195 411h1v1h-1zM193 412h1v1h-1zM197 413h1v1h-1zM210 415h1v1h-1zM210 414h1v1h-1zM200 413h1v1h-1z" fill="#5cbf9b" opacity="0.85"/>
<path d="M272 309h1v1h-1zM271 309h1v1h-1zM273 313h1v1h-1zM258 315h1v1h-1zM258 314h1v1h-1zM273 309h1v1h-1zM259 309h1v1h-1zM255 312h1v1h-1zM255 311h1v1h-1zM256 315h1v1h-1zM269 308h1v1h-1zM268 308h1v1h-1zM265 306h1v1h-1zM254 313h1v1h-1zM253 313h1v1h-1zM257 315h1v1h-1zM262 315h1v1h-1zM263 315h1v1h-1zM261 308h1v1h-1zM272 308h1v1h-1zM268 306h1v1h-1zM272 311h1v1h-1zM270 313h1v1h-1zM270 312h1v1h-1zM255 313h1v1h-1zM256 310h1v1h-1zM272 312h1v1h-1zM261 307h1v1h-1zM261 306h1v1h-1zM267 307h1v1h-1zM254 312h1v1h-1zM254 311h1v1h-1zM272 313h1v1h-1zM271 310h1v1h-1zM261 314h1v1h-1zM264 307h1v1h-1zM258 308h1v1h-1zM263 308h1v1h-1zM264 308h1v1h-1zM252 314h1v1h-1zM252 315h1v1h-1zM271 307h1v1h-1zM262 314h1v1h-1zM261 315h1v1h-1zM262 306h1v1h-1zM262 307h1v1h-1zM274 309h1v1h-1zM263 314h1v1h-1zM257 316h1v1h-1zM269 314h1v1h-1zM265 313h1v1h-1zM262 310h1v1h-1zM258 311h1v1h-1zM258 312h1v1h-1zM263 307h1v1h-1zM262 308h1v1h-1zM265 307h1v1h-1z" fill="#f5895c" opacity="0.85"/>
<path d="M273 383h1v1h-1zM273 382h1v1h-1zM283 394h1v1h-1zM283 395h1v1h-1zM280 396h1v1h-1zM280 395h1v1h-1zM284 385h1v1h-1zM271 388h1v1h-1zM281 384h1v1h-1zM273 386h1v1h-1zM278 392h1v1h-1zM277 390h1v1h-1zM277 389h1v1h-1zM277 392h1v1h-1zM277 394h1v1h-1zM282 391h1v1h-1zM276 388h1v1h-1zM276 387h1v1h-1zM280 391h1v1h-1zM281 391h1v1h-1zM277 387h1v1h-1zM279 386h1v1h-1zM280 386h1v1h-1zM276 386h1v1h-1zM275 386h1v1h-1zM275 393h1v1h-1zM277 386h1v1h-1zM271 383h1v1h-1zM271 384h1v1h-1zM278 390h1v1h-1zM278 391h1v1h-1zM280 388h1v1h-1zM276 393h1v1h-1zM276 392h1v1h-1z" fill="#e18ad0" opacity="0.85"/>
<path d="M275 396h1v1h-1zM275 397h1v1h-1zM278 382h1v1h-1zM278 381h1v1h-1zM285 389h1v1h-1zM283 396h1v1h-1zM284 384h1v1h-1zM282 393h1v1h-1zM284 393h1v1h-1zM274 387h1v1h-1zM274 388h1v1h-1zM277 395h1v1h-1zM272 392h1v1h-1zM274 382h1v1h-1zM277 384h1v1h-1zM275 382h1v1h-1zM274 385h1v1h-1zM274 381h1v1h-1zM274 383h1v1h-1zM270 398h1v1h-1zM269 398h1v1h-1z" fill="#a6d13e" opacity="0.85"/>
</g>
<rect x="362.6" y="301.3" width="109" height="122.7" fill="none" stroke="#aaa" stroke-width="0.6"/>
<text x="417.1" y="427.3" font-size="3.6" text-anchor="middle" font-weight="normal" font-style="normal" fill="#333" dominant-baseline="central">UMAP Component 1</text>
<text x="359.9" y="362.65" font-size="3.6" text-anchor="middle" font-weight="normal" font-style="normal" fill="#333" dominant-baseline="central" transform="rotate(-90 359.9 362.65)">UMAP Component 2</text>
<text x="418.2" y="435.6" font-size="7.0" text-anchor="middle" font-weight="bold" font-style="italic" fill="#111" dominant-baseline="central">mSTAR</text>
<line x1="405.82" y1="439.3" x2="430.58" y2="439.3" stroke="#333" stroke-width="0.7"/>
<clipPath id="u3"><rect x="362.6" y="301.3" width="109" height="122.7"/></clipPath><g clip-path="url(#u3)">
<path d="M435 311h1v1h-1zM434 311h1v1h-1zM434 310h1v1h-1zM433 310h1v1h-1zM434 316h1v1h-1zM433 316h1v1h-1zM434 307h1v1h-1zM432 310h1v1h-1zM435 310h1v1h-1zM436 310h1v1h-1zM434 313h1v1h-1zM430 309h1v1h-1zM433 312h1v1h-1zM432 312h1v1h-1zM436 308h1v1h-1zM436 307h1v1h-1zM435 307h1v1h-1zM433 309h1v1h-1zM432 309h1v1h-1zM432 313h1v1h-1zM440 310h1v1h-1zM431 310h1v1h-1zM435 317h1v1h-1zM434 317h1v1h-1zM435 314h1v1h-1zM431 313h1v1h-1zM433 306h1v1h-1zM433 305h1v1h-1zM431 311h1v1h-1zM431 312h1v1h-1zM432 314h1v1h-1zM434 309h1v1h-1zM436 311h1v1h-1zM435 316h1v1h-1zM435 315h1v1h-1zM430 310h1v1h-1zM433 314h1v1h-1zM431 315h1v1h-1zM434 314h1v1h-1zM436 314h1v1h-1zM437 314h1v1h-1zM441 322h1v1h-1zM440 328h1v1h-1zM441 328h1v1h-1zM438 335h1v1h-1zM442 326h1v1h-1zM442 325h1v1h-1zM441 318h1v1h-1zM440 338h1v1h-1zM440 337h1v1h-1zM442 321h1v1h-1zM441 321h1v1h-1zM441 325h1v1h-1zM440 333h1v1h-1zM440 332h1v1h-1zM441 331h1v1h-1zM441 327h1v1h-1zM442 322h1v1h-1zM440 326h1v1h-1zM442 328h1v1h-1zM442 329h1v1h-1zM440 329h1v1h-1zM442 335h1v1h-1zM441 330h1v1h-1zM442 330h1v1h-1zM442 331h1v1h-1zM441 337h1v1h-1zM441 326h1v1h-1zM442 333h1v1h-1zM439 331h1v1h-1zM438 331h1v1h-1zM443 335h1v1h-1zM443 336h1v1h-1zM443 318h1v1h-1zM440 334h1v1h-1zM439 334h1v1h-1zM438 336h1v1h-1zM438 337h1v1h-1zM442 324h1v1h-1zM439 327h1v1h-1zM438 327h1v1h-1zM441 323h1v1h-1zM440 322h1v1h-1zM443 325h1v1h-1zM442 332h1v1h-1zM439 339h1v1h-1zM440 339h1v1h-1zM377 345h1v1h-1zM375 341h1v1h-1zM374 342h1v1h-1zM379 343h1v1h-1zM377 344h1v1h-1zM378 342h1v1h-1zM372 344h1v1h-1zM376 343h1v1h-1zM384 345h1v1h-1zM373 342h1v1h-1zM376 346h1v1h-1zM369 342h1v1h-1zM368 342h1v1h-1zM371 343h1v1h-1zM369 343h1v1h-1zM368 343h1v1h-1zM368 344h1v1h-1zM370 343h1v1h-1zM372 343h1v1h-1zM389 326h1v1h-1zM388 326h1v1h-1zM394 326h1v1h-1zM393 326h1v1h-1zM392 324h1v1h-1zM394 328h1v1h-1zM393 331h1v1h-1zM389 327h1v1h-1zM395 329h1v1h-1zM394 329h1v1h-1zM391 327h1v1h-1zM390 327h1v1h-1zM396 328h1v1h-1zM394 325h1v1h-1zM395 328h1v1h-1zM389 328h1v1h-1zM392 328h1v1h-1zM392 330h1v1h-1zM389 333h1v1h-1zM388 330h1v1h-1zM387 333h1v1h-1zM388 333h1v1h-1zM386 333h1v1h-1zM385 333h1v1h-1zM396 334h1v1h-1zM397 334h1v1h-1zM398 334h1v1h-1zM398 335h1v1h-1zM396 333h1v1h-1zM410 338h1v1h-1zM404 336h1v1h-1zM410 342h1v1h-1zM417 345h1v1h-1zM424 359h1v1h-1zM417 348h1v1h-1zM425 361h1v1h-1zM425 360h1v1h-1zM423 354h1v1h-1zM416 345h1v1h-1zM416 346h1v1h-1zM422 359h1v1h-1zM423 356h1v1h-1zM422 356h1v1h-1zM416 343h1v1h-1zM417 343h1v1h-1zM421 354h1v1h-1zM421 353h1v1h-1zM415 344h1v1h-1zM415 342h1v1h-1zM415 341h1v1h-1zM421 355h1v1h-1zM417 347h1v1h-1zM423 361h1v1h-1zM412 343h1v1h-1zM411 343h1v1h-1zM413 342h1v1h-1zM424 360h1v1h-1zM411 340h1v1h-1zM421 356h1v1h-1zM414 345h1v1h-1zM416 344h1v1h-1zM415 345h1v1h-1zM423 359h1v1h-1zM414 347h1v1h-1zM412 341h1v1h-1zM423 355h1v1h-1zM418 349h1v1h-1zM412 340h1v1h-1zM419 352h1v1h-1zM420 351h1v1h-1zM415 343h1v1h-1zM416 347h1v1h-1zM425 359h1v1h-1zM426 359h1v1h-1zM422 357h1v1h-1zM421 357h1v1h-1zM418 347h1v1h-1zM420 360h1v1h-1zM426 362h1v1h-1zM425 362h1v1h-1zM421 361h1v1h-1zM422 363h1v1h-1zM421 363h1v1h-1zM416 362h1v1h-1zM423 363h1v1h-1zM424 363h1v1h-1zM420 363h1v1h-1zM420 362h1v1h-1zM426 361h1v1h-1zM422 362h1v1h-1zM419 362h1v1h-1zM421 362h1v1h-1zM422 364h1v1h-1zM422 360h1v1h-1zM420 361h1v1h-1zM424 361h1v1h-1zM419 361h1v1h-1zM423 362h1v1h-1zM421 360h1v1h-1zM447 374h1v1h-1zM447 373h1v1h-1zM443 380h1v1h-1zM449 372h1v1h-1zM449 373h1v1h-1zM451 371h1v1h-1zM442 384h1v1h-1zM441 384h1v1h-1zM451 369h1v1h-1zM450 369h1v1h-1zM442 381h1v1h-1zM444 385h1v1h-1zM443 385h1v1h-1zM447 378h1v1h-1zM439 388h1v1h-1zM445 379h1v1h-1zM445 380h1v1h-1zM442 383h1v1h-1zM443 382h1v1h-1zM439 387h1v1h-1zM439 386h1v1h-1zM440 382h1v1h-1zM446 377h1v1h-1zM451 374h1v1h-1zM452 374h1v1h-1zM450 373h1v1h-1zM444 380h1v1h-1zM446 373h1v1h-1zM445 375h1v1h-1zM448 372h1v1h-1zM437 391h1v1h-1zM437 390h1v1h-1zM444 379h1v1h-1zM445 381h1v1h-1zM440 388h1v1h-1zM447 377h1v1h-1zM449 371h1v1h-1zM442 387h1v1h-1zM441 387h1v1h-1zM448 374h1v1h-1zM449 374h1v1h-1zM440 387h1v1h-1zM446 375h1v1h-1zM439 391h1v1h-1zM438 391h1v1h-1zM443 383h1v1h-1zM450 372h1v1h-1zM447 379h1v1h-1zM448 373h1v1h-1zM450 368h1v1h-1zM450 367h1v1h-1zM443 387h1v1h-1zM443 386h1v1h-1zM423 389h1v1h-1zM423 390h1v1h-1zM429 392h1v1h-1zM430 392h1v1h-1zM428 392h1v1h-1zM417 388h1v1h-1zM416 388h1v1h-1zM430 393h1v1h-1zM420 389h1v1h-1zM418 390h1v1h-1zM424 391h1v1h-1zM421 389h1v1h-1zM424 390h1v1h-1zM417 389h1v1h-1zM424 389h1v1h-1zM425 405h1v1h-1zM434 398h1v1h-1zM423 400h1v1h-1zM419 397h1v1h-1zM419 396h1v1h-1zM431 397h1v1h-1zM433 410h1v1h-1zM424 395h1v1h-1zM425 395h1v1h-1zM428 400h1v1h-1zM430 398h1v1h-1zM428 399h1v1h-1zM429 399h1v1h-1zM437 411h1v1h-1zM430 402h1v1h-1zM430 401h1v1h-1zM423 396h1v1h-1zM436 394h1v1h-1zM437 394h1v1h-1zM433 409h1v1h-1zM425 396h1v1h-1zM431 402h1v1h-1zM427 396h1v1h-1zM428 396h1v1h-1zM417 399h1v1h-1zM427 405h1v1h-1zM428 405h1v1h-1zM439 405h1v1h-1zM428 398h1v1h-1zM436 411h1v1h-1zM435 411h1v1h-1zM428 394h1v1h-1zM436 390h1v1h-1zM436 389h1v1h-1zM420 406h1v1h-1zM423 405h1v1h-1zM427 406h1v1h-1zM426 406h1v1h-1zM426 415h1v1h-1zM433 399h1v1h-1zM429 403h1v1h-1zM429 404h1v1h-1zM427 400h1v1h-1zM427 399h1v1h-1zM425 401h1v1h-1zM426 401h1v1h-1zM429 411h1v1h-1zM435 402h1v1h-1zM422 400h1v1h-1zM436 395h1v1h-1zM417 394h1v1h-1zM420 401h1v1h-1zM420 400h1v1h-1zM427 392h1v1h-1zM427 393h1v1h-1zM421 402h1v1h-1zM422 390h1v1h-1zM426 405h1v1h-1zM420 395h1v1h-1zM421 395h1v1h-1zM427 410h1v1h-1zM431 408h1v1h-1zM430 408h1v1h-1zM415 402h1v1h-1zM416 402h1v1h-1zM438 406h1v1h-1zM437 406h1v1h-1zM428 401h1v1h-1zM431 412h1v1h-1zM430 414h1v1h-1zM433 408h1v1h-1zM438 404h1v1h-1zM437 404h1v1h-1zM437 405h1v1h-1zM421 397h1v1h-1zM420 397h1v1h-1zM420 398h1v1h-1zM432 408h1v1h-1zM432 391h1v1h-1zM438 407h1v1h-1zM424 393h1v1h-1zM424 392h1v1h-1zM429 400h1v1h-1zM421 412h1v1h-1zM423 414h1v1h-1zM430 399h1v1h-1zM430 400h1v1h-1zM439 400h1v1h-1zM438 394h1v1h-1zM426 414h1v1h-1zM421 403h1v1h-1zM424 402h1v1h-1zM424 401h1v1h-1zM431 399h1v1h-1zM428 395h1v1h-1zM426 398h1v1h-1zM431 398h1v1h-1zM438 386h1v1h-1zM437 386h1v1h-1zM422 406h1v1h-1zM436 403h1v1h-1zM436 402h1v1h-1zM434 399h1v1h-1zM420 405h1v1h-1zM429 407h1v1h-1zM415 396h1v1h-1zM415 397h1v1h-1zM417 390h1v1h-1zM424 397h1v1h-1zM424 396h1v1h-1zM437 400h1v1h-1zM435 399h1v1h-1zM424 404h1v1h-1zM422 396h1v1h-1zM439 396h1v1h-1zM423 401h1v1h-1zM419 413h1v1h-1zM433 398h1v1h-1zM426 397h1v1h-1zM432 402h1v1h-1zM426 402h1v1h-1zM434 412h1v1h-1zM429 398h1v1h-1zM432 388h1v1h-1zM431 401h1v1h-1zM434 402h1v1h-1zM433 415h1v1h-1zM433 414h1v1h-1zM433 413h1v1h-1zM429 413h1v1h-1zM421 410h1v1h-1zM421 411h1v1h-1zM422 409h1v1h-1zM436 415h1v1h-1zM439 417h1v1h-1zM435 415h1v1h-1zM431 414h1v1h-1zM435 414h1v1h-1zM432 416h1v1h-1zM431 416h1v1h-1zM423 409h1v1h-1zM439 416h1v1h-1zM437 415h1v1h-1zM426 412h1v1h-1zM427 412h1v1h-1zM437 418h1v1h-1zM437 417h1v1h-1zM438 417h1v1h-1zM428 417h1v1h-1zM435 416h1v1h-1zM437 416h1v1h-1zM421 406h1v1h-1zM425 411h1v1h-1zM432 412h1v1h-1zM425 410h1v1h-1zM425 409h1v1h-1zM434 415h1v1h-1zM420 408h1v1h-1zM438 415h1v1h-1zM438 416h1v1h-1zM421 407h1v1h-1zM422 407h1v1h-1zM428 413h1v1h-1zM428 414h1v1h-1zM422 414h1v1h-1zM426 411h1v1h-1zM426 410h1v1h-1zM445 396h1v1h-1zM445 395h1v1h-1zM437 396h1v1h-1zM437 395h1v1h-1zM438 396h1v1h-1zM438 397h1v1h-1zM436 393h1v1h-1zM444 402h1v1h-1zM440 396h1v1h-1zM441 396h1v1h-1zM436 396h1v1h-1zM442 395h1v1h-1zM442 392h1v1h-1zM440 395h1v1h-1zM435 390h1v1h-1zM444 398h1v1h-1zM443 393h1v1h-1zM442 393h1v1h-1zM440 393h1v1h-1zM441 393h1v1h-1zM441 394h1v1h-1zM440 394h1v1h-1zM440 397h1v1h-1zM445 394h1v1h-1zM445 398h1v1h-1zM445 397h1v1h-1zM448 389h1v1h-1zM448 390h1v1h-1zM440 383h1v1h-1zM434 395h1v1h-1zM435 395h1v1h-1zM444 388h1v1h-1zM445 388h1v1h-1zM458 390h1v1h-1zM459 386h1v1h-1zM452 385h1v1h-1zM459 391h1v1h-1zM458 391h1v1h-1zM455 383h1v1h-1zM457 387h1v1h-1zM458 387h1v1h-1zM461 396h1v1h-1zM460 396h1v1h-1zM463 392h1v1h-1zM460 387h1v1h-1zM464 392h1v1h-1zM459 400h1v1h-1zM460 395h1v1h-1zM462 399h1v1h-1zM462 400h1v1h-1zM464 402h1v1h-1zM463 402h1v1h-1zM452 382h1v1h-1zM465 406h1v1h-1zM466 406h1v1h-1zM461 387h1v1h-1zM463 393h1v1h-1zM455 384h1v1h-1zM454 384h1v1h-1zM459 387h1v1h-1zM458 386h1v1h-1zM464 400h1v1h-1zM464 399h1v1h-1zM460 388h1v1h-1zM461 388h1v1h-1zM459 395h1v1h-1zM458 389h1v1h-1zM454 388h1v1h-1zM454 389h1v1h-1zM456 383h1v1h-1zM462 393h1v1h-1zM462 392h1v1h-1zM462 395h1v1h-1zM457 385h1v1h-1zM456 385h1v1h-1zM464 401h1v1h-1zM465 402h1v1h-1zM457 384h1v1h-1zM459 388h1v1h-1zM461 392h1v1h-1zM461 393h1v1h-1zM459 389h1v1h-1zM465 401h1v1h-1zM454 385h1v1h-1zM465 405h1v1h-1zM456 387h1v1h-1zM461 398h1v1h-1zM461 403h1v1h-1zM460 403h1v1h-1zM462 402h1v1h-1zM453 401h1v1h-1zM453 400h1v1h-1zM454 401h1v1h-1zM453 399h1v1h-1zM457 403h1v1h-1zM458 403h1v1h-1zM457 402h1v1h-1zM457 404h1v1h-1zM456 404h1v1h-1zM456 405h1v1h-1zM456 402h1v1h-1zM455 402h1v1h-1zM458 404h1v1h-1zM451 400h1v1h-1zM440 404h1v1h-1zM441 404h1v1h-1zM439 404h1v1h-1zM432 401h1v1h-1zM440 407h1v1h-1zM440 408h1v1h-1zM438 405h1v1h-1zM430 405h1v1h-1zM445 410h1v1h-1zM445 411h1v1h-1zM440 409h1v1h-1zM438 402h1v1h-1zM438 403h1v1h-1zM439 410h1v1h-1zM437 407h1v1h-1zM439 408h1v1h-1zM434 403h1v1h-1zM435 405h1v1h-1zM436 405h1v1h-1zM434 404h1v1h-1zM435 404h1v1h-1zM432 403h1v1h-1zM437 408h1v1h-1z" fill="#5cbf9b" opacity="0.85"/>
<path d="M433 313h1v1h-1zM432 307h1v1h-1zM436 309h1v1h-1zM435 312h1v1h-1zM436 312h1v1h-1zM431 314h1v1h-1zM373 341h1v1h-1zM380 342h1v1h-1zM380 343h1v1h-1zM376 341h1v1h-1zM377 343h1v1h-1zM378 340h1v1h-1zM382 341h1v1h-1zM378 341h1v1h-1zM378 344h1v1h-1zM378 345h1v1h-1zM375 342h1v1h-1zM382 340h1v1h-1zM381 340h1v1h-1zM378 343h1v1h-1zM379 344h1v1h-1zM374 343h1v1h-1zM372 342h1v1h-1zM372 341h1v1h-1zM382 343h1v1h-1zM375 346h1v1h-1zM375 347h1v1h-1zM380 344h1v1h-1zM377 340h1v1h-1zM377 339h1v1h-1zM382 342h1v1h-1zM383 342h1v1h-1zM373 345h1v1h-1zM373 344h1v1h-1zM379 337h1v1h-1zM371 342h1v1h-1zM370 342h1v1h-1zM385 344h1v1h-1zM367 340h1v1h-1zM387 343h1v1h-1zM384 341h1v1h-1zM379 341h1v1h-1zM374 345h1v1h-1zM374 344h1v1h-1zM384 339h1v1h-1zM377 342h1v1h-1zM381 344h1v1h-1zM379 340h1v1h-1zM380 340h1v1h-1zM381 343h1v1h-1zM377 346h1v1h-1zM372 339h1v1h-1zM372 345h1v1h-1zM376 342h1v1h-1zM381 341h1v1h-1zM380 341h1v1h-1zM383 341h1v1h-1zM379 345h1v1h-1zM385 340h1v1h-1zM373 343h1v1h-1zM370 344h1v1h-1zM370 345h1v1h-1zM383 348h1v1h-1zM382 348h1v1h-1zM384 347h1v1h-1zM380 346h1v1h-1zM380 347h1v1h-1zM383 347h1v1h-1zM383 346h1v1h-1zM385 346h1v1h-1zM384 346h1v1h-1zM385 347h1v1h-1zM389 332h1v1h-1zM388 332h1v1h-1zM393 325h1v1h-1zM392 325h1v1h-1zM392 329h1v1h-1zM398 330h1v1h-1zM398 329h1v1h-1zM398 331h1v1h-1zM391 329h1v1h-1zM392 332h1v1h-1zM389 330h1v1h-1zM390 330h1v1h-1zM395 325h1v1h-1zM397 328h1v1h-1zM390 331h1v1h-1zM387 332h1v1h-1zM388 331h1v1h-1zM387 331h1v1h-1zM385 334h1v1h-1zM389 331h1v1h-1zM387 334h1v1h-1zM386 334h1v1h-1zM390 329h1v1h-1zM433 382h1v1h-1z" fill="#f5895c" opacity="0.85"/>
<path d="M443 319h1v1h-1zM441 324h1v1h-1zM440 324h1v1h-1zM442 334h1v1h-1zM441 329h1v1h-1zM397 331h1v1h-1zM397 330h1v1h-1zM391 326h1v1h-1zM394 327h1v1h-1zM391 330h1v1h-1zM409 338h1v1h-1zM408 338h1v1h-1zM405 337h1v1h-1zM405 338h1v1h-1zM412 339h1v1h-1zM411 339h1v1h-1zM403 335h1v1h-1zM403 334h1v1h-1zM409 337h1v1h-1zM408 337h1v1h-1zM410 337h1v1h-1zM405 336h1v1h-1zM406 336h1v1h-1zM404 337h1v1h-1zM407 337h1v1h-1zM406 337h1v1h-1zM422 355h1v1h-1zM417 346h1v1h-1zM412 338h1v1h-1zM418 350h1v1h-1z" fill="#e18ad0" opacity="0.85"/>
<path d="M395 327h1v1h-1zM396 327h1v1h-1zM393 327h1v1h-1zM392 327h1v1h-1zM390 328h1v1h-1zM391 328h1v1h-1zM395 324h1v1h-1zM395 323h1v1h-1zM389 329h1v1h-1zM388 329h1v1h-1zM395 331h1v1h-1zM395 332h1v1h-1zM395 330h1v1h-1zM396 326h1v1h-1zM397 327h1v1h-1zM393 330h1v1h-1zM393 324h1v1h-1z" fill="#a6d13e" opacity="0.85"/>
</g>
<rect x="115.8" y="368.1" width="54.5" height="1.5" fill="#1d5e86"/>
<rect x="115.8" y="370.8" width="54.5" height="5" fill="#1d5e86"/>
<path d="M164.3 364.6L179.6 371.8L164.3 379.2L169.8 371.8Z" fill="#1d5e86"/>
<text x="147.4" y="360.5" font-size="7.3" text-anchor="middle" font-weight="bold" font-style="italic" fill="#111" dominant-baseline="central">Stage 1</text>
<text x="147.4" y="383.3" font-size="7.3" text-anchor="middle" font-weight="bold" font-style="italic" fill="#111" dominant-baseline="central">Pretrain</text>
<text x="147.4" y="392.3" font-size="7.3" text-anchor="middle" font-weight="bold" font-style="italic" fill="#111" dominant-baseline="central">Slide Aggregator</text>
<rect x="295" y="368.1" width="52.3" height="1.5" fill="#1d5e86"/>
<rect x="295" y="370.8" width="52.3" height="5" fill="#1d5e86"/>
<path d="M341.3 364.6L356.6 371.8L341.3 379.2L346.8 371.8Z" fill="#1d5e86"/>
<text x="326.5" y="360.5" font-size="7.3" text-anchor="middle" font-weight="bold" font-style="italic" fill="#111" dominant-baseline="central">Stage 2</text>
<text x="326.5" y="383.3" font-size="7.3" text-anchor="middle" font-weight="bold" font-style="italic" fill="#111" dominant-baseline="central">Pretrain</text>
<text x="326.5" y="392.3" font-size="7.3" text-anchor="middle" font-weight="bold" font-style="italic" fill="#111" dominant-baseline="central">Patch Extractor</text>
</svg></body></html>
